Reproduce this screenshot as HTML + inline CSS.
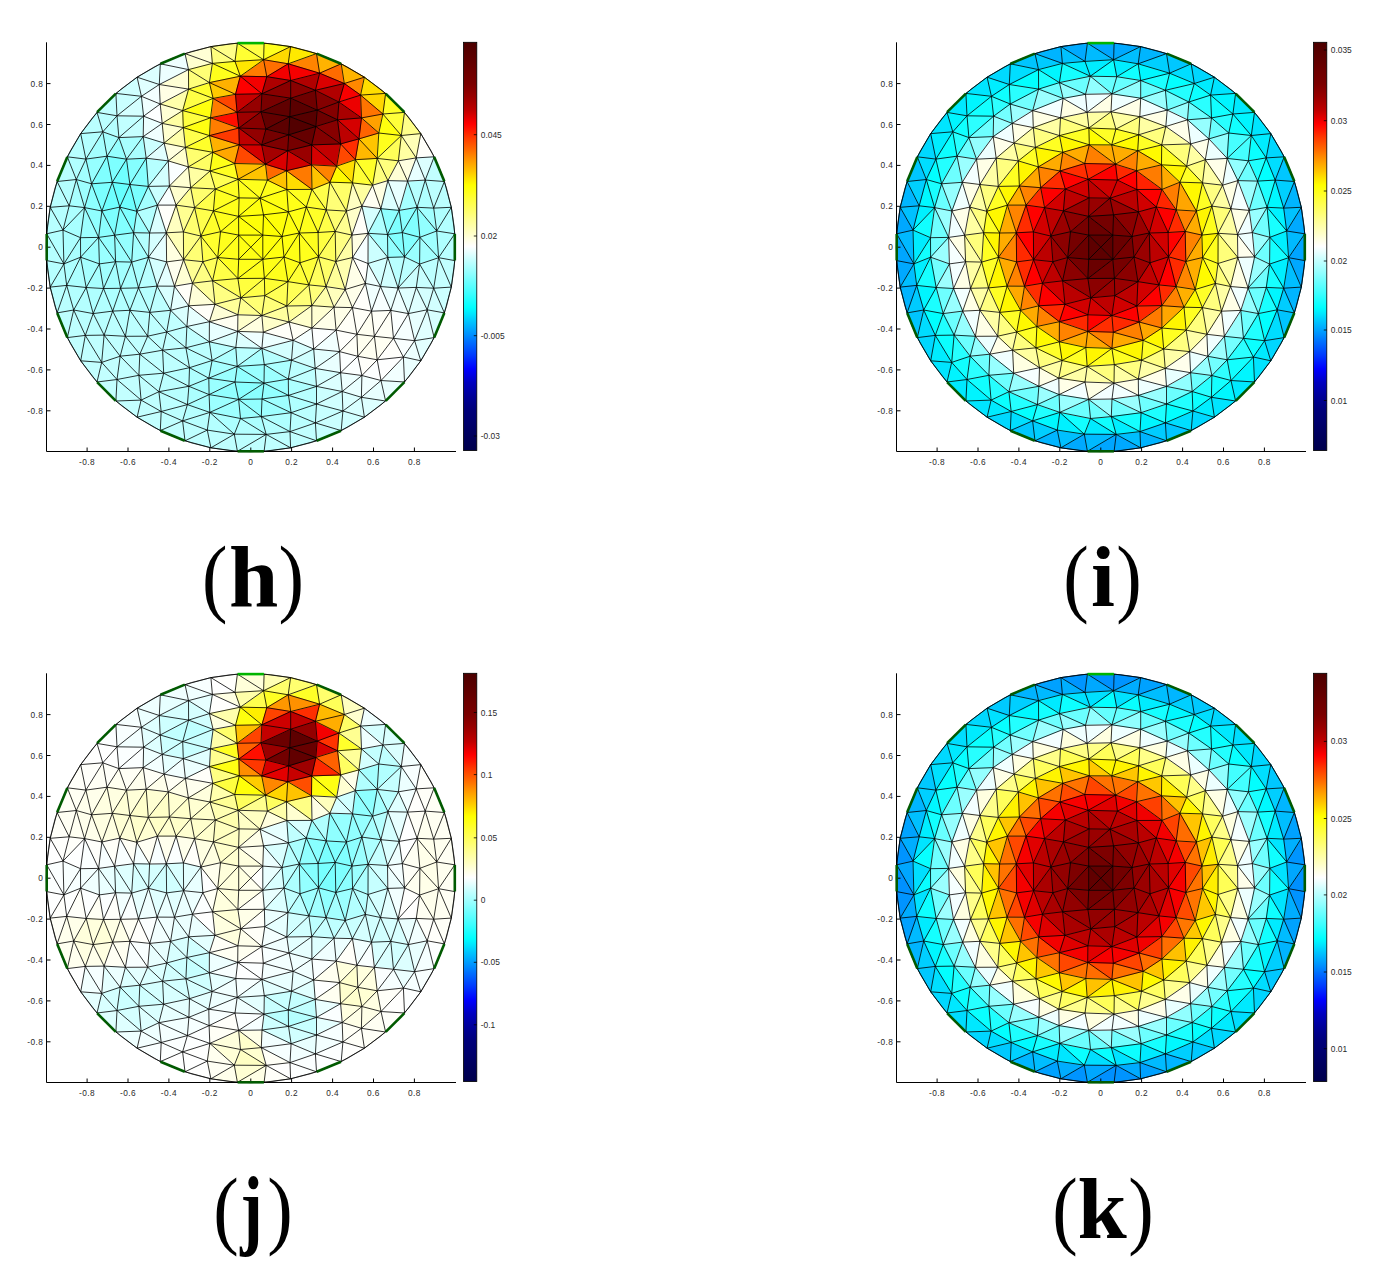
<!DOCTYPE html>
<html><head><meta charset="utf-8"><style>
html,body{margin:0;padding:0;background:#fff;}
body{width:1382px;height:1279px;overflow:hidden;}
svg{display:block;}
.tl text{font-family:"Liberation Sans",sans-serif;font-size:8.3px;fill:#2a2a2a;letter-spacing:0.45px;}
.cbl text{letter-spacing:0;font-size:8.4px;}
.big{font-family:"Liberation Serif",serif;font-weight:bold;fill:#000;}
</style></head><body>
<svg width="1382" height="1279" viewBox="0 0 1382 1279">
<defs>
<linearGradient id="cb" x1="0" y1="0" x2="0" y2="1"><stop offset="0.000" stop-color="#4c0000"/><stop offset="0.017" stop-color="#540000"/><stop offset="0.033" stop-color="#5b0000"/><stop offset="0.050" stop-color="#630000"/><stop offset="0.067" stop-color="#6c0000"/><stop offset="0.083" stop-color="#730000"/><stop offset="0.100" stop-color="#7a0000"/><stop offset="0.117" stop-color="#890000"/><stop offset="0.133" stop-color="#980000"/><stop offset="0.150" stop-color="#ac0000"/><stop offset="0.167" stop-color="#c00000"/><stop offset="0.183" stop-color="#df0000"/><stop offset="0.200" stop-color="#ff0000"/><stop offset="0.217" stop-color="#ff1c00"/><stop offset="0.233" stop-color="#ff3900"/><stop offset="0.250" stop-color="#ff5500"/><stop offset="0.267" stop-color="#ff7100"/><stop offset="0.283" stop-color="#ff8e00"/><stop offset="0.300" stop-color="#ffaa00"/><stop offset="0.317" stop-color="#ffc600"/><stop offset="0.333" stop-color="#ffe300"/><stop offset="0.350" stop-color="#ffff00"/><stop offset="0.367" stop-color="#ffff1c"/><stop offset="0.383" stop-color="#ffff39"/><stop offset="0.400" stop-color="#ffff55"/><stop offset="0.417" stop-color="#ffff71"/><stop offset="0.433" stop-color="#ffff8e"/><stop offset="0.450" stop-color="#ffffaa"/><stop offset="0.467" stop-color="#ffffc6"/><stop offset="0.483" stop-color="#ffffe3"/><stop offset="0.500" stop-color="#ffffff"/><stop offset="0.517" stop-color="#e3ffff"/><stop offset="0.533" stop-color="#c6ffff"/><stop offset="0.550" stop-color="#aaffff"/><stop offset="0.567" stop-color="#8effff"/><stop offset="0.583" stop-color="#71ffff"/><stop offset="0.600" stop-color="#55ffff"/><stop offset="0.617" stop-color="#39ffff"/><stop offset="0.633" stop-color="#1cffff"/><stop offset="0.650" stop-color="#00ffff"/><stop offset="0.667" stop-color="#00e3ff"/><stop offset="0.683" stop-color="#00c6ff"/><stop offset="0.700" stop-color="#00aaff"/><stop offset="0.717" stop-color="#008eff"/><stop offset="0.733" stop-color="#0071ff"/><stop offset="0.750" stop-color="#0055ff"/><stop offset="0.767" stop-color="#0039ff"/><stop offset="0.783" stop-color="#001cff"/><stop offset="0.800" stop-color="#0000ff"/><stop offset="0.817" stop-color="#0000df"/><stop offset="0.833" stop-color="#0000c0"/><stop offset="0.850" stop-color="#0000ac"/><stop offset="0.867" stop-color="#000098"/><stop offset="0.883" stop-color="#000089"/><stop offset="0.900" stop-color="#00007a"/><stop offset="0.917" stop-color="#000073"/><stop offset="0.933" stop-color="#00006c"/><stop offset="0.950" stop-color="#000063"/><stop offset="0.967" stop-color="#00005b"/><stop offset="0.983" stop-color="#000054"/><stop offset="1.000" stop-color="#00004c"/></linearGradient>
<path id="mesh" d="M380.5 286.5 398.1 288M238.6 216.4 213.4 210.9M239.3 144.8 212.8 152.3M454.8 233.8 454.8 260.6M131.7 262.1 138.5 287.9M398.1 288 408.4 313.6M143.2 136.6 143.6 116.2M126.5 159.2 112.3 182.3M159.3 84.5 160.3 63.8M326 286.6 334 307.2M220.5 231.7 217.7 257.5M91.6 183.8 76.3 179.5M318.5 256.8 335.2 231.4M220.5 231.7 200.9 236.1M240.8 297.8 261.9 315.5M182.6 420.9 207.3 430.1M161.2 411.5 137.1 417.2M138.5 287.9 149.8 312.4M318.5 256.8 326 286.6M188.4 166.9 168.3 160.9M264.4 278.3 287.9 281.6M342.9 411 341.2 430.6M147.7 336.2 162.6 350.2M419.6 264.1 438.6 257.7M209.4 82.6 188.6 89.1M337.5 119.8 338.9 102M335.2 231.4 326.2 209.9M115.6 261.7 103.5 288.5M148.5 257.3 157.1 286.1M80.7 133.6 67.3 156.8M162.6 350.2 189.5 367.7M63 230.1 46.7 233.8M352.4 307.6 356.9 334.3M436.7 231 454.8 233.8M120.2 356.2 117 379.5M288.4 211.9 260 198.2M401.3 135.5 382.9 114M166.6 261.9 148.5 257.3M264.8 295.6 261.9 315.5M157.1 286.1 170.6 310.3M264.3 364.6 291.5 360.2M125.4 336.3 139.8 354.2M168.3 160.9 146.2 158.2M260 198.2 239.1 197.9M210 171 190.7 187.7M382.9 114 360.6 95.1M208.8 378.2 209.1 394.6M361.4 397.3 381 380.5M291.5 360.2 313.7 349M186.9 326.5 166.7 332M237.7 331.4 261.9 348.4M438.6 257.7 451.3 287.1M340.6 143.9 358.9 138.9M360.6 95.1 385.6 93.4M84.6 207.6 80.5 237.7M162.2 123.4 160.2 104M190.7 187.7 176.1 205.1M235 382 238.6 399.4M293.1 340.3 311.9 328M381 380.5 403.4 357M311.8 305.6 311.9 328M57.1 312.9 67.3 337.6M238.1 179.3 265.5 164.2M339.6 351.6 356.9 334.3M351.9 235.1 361.9 206.1M209.3 341.8 185.9 347.8M141.1 400.1 115.9 401M344.3 83.5 364.4 77.2M293.1 340.3 313.7 349M235 61.4 212.4 63.4M371.5 311.2 390.8 310.4M237.1 112.3 213.1 98.4M311.9 328 334 307.2M67.3 337.6 80.7 360.8M346.4 211.1 352.5 182.9M288.5 395.4 316.5 386.4M188.5 69.6 185 53.6M238.7 259.3 237.9 278.5M316.5 404 315.4 422.9M264.8 295.6 287.9 281.6M166.7 332 147.7 336.2M212.4 63.4 188.5 69.6M454.8 233.8 451.3 207.3M312 189.4 311.5 164.8M407.6 181.1 416.2 157.9M380.9 208.7 372.6 185.2M352.6 257.5 365.4 283.4M138.9 375.3 158.9 391.7M352.5 182.9 355.3 159.7M185.9 347.8 162.6 350.2M237.7 331.4 263.3 332.2M380.5 286.5 390.8 310.4M119.8 207.1 101.9 211M238.6 216.4 239.1 197.9M264.3 364.6 288.3 379.1M451.3 207.3 444.4 181.5M185 440.8 210.9 447.8M387.9 180.6 377.2 158.4M212.8 152.3 209.5 135.6M336.1 330.1 339.6 351.6M158.9 391.7 187.4 404.6M336.7 166.2 340.6 143.9M85.9 159.1 76.3 179.5M358.9 138.9 378.8 133M114.6 235.2 98.6 237.4M166.3 232.8 149.6 233M240.8 297.8 237.9 314.8M210.9 447.8 237.4 451.3M163.7 373.2 158.9 391.7M188.4 166.9 185.4 147.4M69.2 205.8 57.1 181.5M419.6 264.1 433.7 288.2M76.3 179.5 69.2 205.8M337.5 119.8 361.5 117.9M403.4 357 420.8 360.8M189.5 367.7 188.9 386.3M387.5 234.5 399.2 210.4M266.8 76.7 263.6 59.7M261.9 93.8 240.3 76.2M318.1 232.5 326.2 209.9M419.9 237.3 417.1 207.3M63 230.1 50.2 207.3M185.4 147.4 183.3 127.6M120.2 356.2 101.7 362.4M183.4 231.9 166.3 232.8M341.2 63.8 316.5 53.6M291.1 412.7 290 431.6M340.6 372.7 361.9 375.5M263.6 59.7 237.4 43.1M342.2 391.5 361.9 375.5M168.3 160.9 164.1 143.1M208.8 378.2 188.9 386.3M385.6 401 404.5 382M357.8 356.3 377.2 359.8M263.5 214.8 260 198.2M240.8 297.8 264.8 295.6M261 111.8 261.9 93.8M107 156.2 102.8 131.8M326.2 209.9 329.9 182.2M387.5 234.5 380.9 208.7M112.3 182.3 91.6 183.8M351.9 235.1 368.1 233.3M238.7 235.1 220.5 231.7M120.2 356.2 138.9 375.3M237.9 278.5 240.8 297.8M209.4 321.7 237.7 331.4M371.5 311.2 374.4 336.3M416.3 287.4 427.2 309.8M417.1 207.3 433.7 208.1M399.2 210.4 387.9 180.6M433.7 208.1 444.4 181.5M238.7 259.3 217.7 257.5M352.5 182.9 336.7 166.2M104.1 335.1 85.3 335.4M312 189.4 329.9 182.2M407.6 181.1 425.2 180.1M399.2 210.4 407.6 181.1M425.2 180.1 434.2 156.8M398.1 288 404.6 256.9M267.4 180.1 238.1 179.3M352.5 182.9 372.6 185.2M119.8 207.1 112.3 182.3M336.7 166.2 311.7 144.9M261 111.8 237.1 112.3M73.7 310 67.3 337.6M404.6 256.9 419.9 237.3M238.1 179.3 215.3 189M351.9 235.1 346.4 211.1M364.4 77.2 341.2 63.8M166.3 232.8 157.4 205.1M261.9 348.4 291.5 360.2M237.1 112.3 210.5 117.8M163.7 373.2 138.9 375.3M240.8 297.8 215 304.3M290.7 80.5 319.6 73.2M261.9 93.8 235.5 94.3M238.7 235.1 238.7 259.3M316.5 404 342.2 391.5M194.6 207.7 190.7 187.7M346.4 211.1 329.9 182.2M189.5 367.7 163.7 373.2M185.4 147.4 168.3 160.9M364.4 417.2 385.6 401M266.8 76.7 288.2 63.8M261.9 93.8 266.8 76.7M235.5 94.3 213.1 98.4M238.7 259.3 262.8 259.3M215 304.3 237.9 314.8M183.4 231.9 176.1 205.1M85.3 335.4 101.7 362.4M168.3 160.9 148.3 186.4M215 304.3 209.4 321.7M340.6 372.7 342.2 391.5M119.8 207.1 114.6 235.2M207.3 430.1 210.9 447.8M237.2 366.4 264 383.1M361.9 375.5 381 380.5M338.9 102 315.4 90.3M402.3 232.6 417.1 207.3M237.9 314.8 261.9 315.5M217.7 257.5 212.6 280.8M212.8 152.3 188.4 166.9M185 53.6 160.3 63.8M361.9 206.1 380.9 208.7M114.6 235.2 115.6 261.7M112.3 182.3 101.9 211M117 115.8 97 112.4M263.5 214.8 288.4 211.9M139.8 354.2 138.9 375.3M188.4 166.9 169.4 186M149.8 312.4 166.7 332M326.2 209.9 346.4 211.1M112.3 182.3 107 156.2M381 380.5 404.5 382M102.8 131.8 80.7 133.6M212.6 280.8 192.5 283.2M351.9 235.1 352.6 257.5M237.9 278.5 264.4 278.3M101.9 211 98.6 237.4M238.7 235.1 238.6 216.4M234.3 434.2 266.2 434.4M287.9 281.6 308.9 284.9M166.7 332 185.9 347.8M417.1 207.3 436.7 231M368 263.5 387.8 257.4M433.7 208.1 451.3 207.3M160.2 104 143.6 116.2M290.7 98.2 290.7 80.5M312 189.4 286.5 170.7M129.9 310.3 125.4 336.3M299.3 233 318.5 256.8M188.7 305.8 186.9 326.5M300 262.8 318.5 256.8M57.1 181.5 50.2 207.3M149.6 233 133.6 232.7M208.8 378.2 235 382M66.7 285.4 50.2 287.1M360.6 95.1 344.3 83.5M264 383.1 288.5 395.4M186.9 326.5 209.3 341.8M188.6 89.1 159.3 84.5M368.1 233.3 387.8 257.4M50.2 207.3 46.7 233.8M235.8 347.5 237.2 366.4M163.7 373.2 188.9 386.3M73.7 310 57.1 312.9M319.6 73.2 316.5 53.6M136.8 211.3 119.8 207.1M187.4 404.6 182.6 420.9M288.3 379.1 316.5 386.4M403.4 357 414.6 340.7M261.9 348.4 264.3 364.6M182.6 420.9 185 440.8M289.8 116.7 317.2 110.1M288.2 63.8 290.6 46.6M414.6 340.7 427.2 309.8M335.8 261.5 345.2 289.5M80.5 237.7 63.9 263.9M80.7 360.8 97 382M212.1 360.5 208.8 378.2M299.3 233 306.3 207M387.8 257.4 404.6 256.9M183.3 127.6 162.2 123.4M265.5 164.2 239.3 144.8M97 382 115.9 401M311.5 164.8 311.7 144.9M207.3 430.1 185 440.8M141.4 96.3 137.1 77.2M282 236.5 284 257M361.9 375.5 361.4 397.3M217.7 257.5 237.9 278.5M237.2 366.4 235 382M402.3 232.6 419.9 237.3M217.7 257.5 202.9 261.7M234.7 163.5 212.8 152.3M378.8 133 382.9 114M117 115.8 115.9 93.4M311.7 144.9 315.8 126.5M139.8 354.2 120.2 356.2M326.2 209.9 312 189.4M120.6 288.3 112.7 311.1M434.2 156.8 420.8 133.6M158.9 391.7 161.2 411.5M361.5 117.9 360.6 95.1M157.4 205.1 136.8 211.3M189.5 367.7 208.8 378.2M381 380.5 385.6 401M365.4 283.4 371.5 311.2M317.2 110.1 338.9 102M174.5 286.2 157.1 286.1M287.9 281.6 286.8 306M170.6 310.3 186.9 326.5M238.6 399.4 261.3 416.6M209.4 82.6 188.5 69.6M63.9 263.9 46.7 233.8M368 263.5 380.5 286.5M239.1 197.9 213.4 210.9M192.5 283.2 188.7 305.8M290.7 98.2 315.4 90.3M372.6 185.2 377.2 158.4M188.7 305.8 170.6 310.3M313.7 349 336.1 330.1M210.5 117.8 182.7 110.6M263.3 332.2 293.1 340.3M176.1 205.1 166.3 232.8M264 383.1 262 399M342.2 391.5 342.9 411M188.6 89.1 188.5 69.6M374.4 336.3 393.5 338.3M336.1 330.1 352.4 307.6M235.8 347.5 212.1 360.5M319.6 73.2 341.2 63.8M136.8 211.3 129.9 184.5M80.6 257.2 86.2 287.5M126.5 159.2 118.9 137.6M166.3 232.8 166.6 261.9M334 307.2 345.2 289.5M84.6 207.6 69.2 205.8M390.8 310.4 408.4 313.6M261.9 348.4 237.2 366.4M329.9 182.2 336.7 166.2M371.5 311.2 380.5 286.5M182.6 420.9 160.3 430.6M262.8 259.3 264.4 278.3M335.2 231.4 335.8 261.5M334 307.2 352.4 307.6M287.9 281.6 300 262.8M188.5 69.6 159.3 84.5M284 257 300 262.8M345.2 289.5 352.6 257.5M286.5 170.7 287.7 150.7M398.4 160.8 401.3 135.5M372.6 185.2 355.3 159.7M262.8 235.1 282 236.5M99.4 263.9 86.2 287.5M80.5 237.7 63 230.1M340.6 372.7 357.8 356.3M212.1 360.5 189.5 367.7M263.3 332.2 289.1 322M387.8 257.4 398.1 288M290 431.6 316.5 440.8M444.4 181.5 434.2 156.8M239.1 197.9 215.3 189M265.5 164.2 261.7 144.9M355.3 159.7 340.6 143.9M380.9 208.7 387.9 180.6M187.4 404.6 209.8 412.4M306.3 207 312 189.4M139.8 354.2 163.7 373.2M289.1 322 311.8 305.6M148.3 186.4 129.9 184.5M138.9 375.3 117 379.5M311.7 144.9 288.7 134.8M237.4 451.3 264.1 451.3M378.8 133 401.3 135.5M358.9 138.9 337.5 119.8M169.4 186 168.3 160.9M215.3 189 194.6 207.7M311.7 144.9 340.6 143.9M286.8 189.5 286.5 170.7M69.2 205.8 63 230.1M288.7 134.8 265.9 129.1M158.9 391.7 141.1 400.1M240.3 76.2 235 61.4M80.5 237.7 80.6 257.2M209.1 394.6 209.8 412.4M157.4 205.1 148.3 186.4M240.5 418.5 266.2 434.4M417.1 207.3 407.6 181.1M194.6 207.7 183.4 231.9M183.6 259.7 166.6 261.9M356.9 334.3 371.5 311.2M427.2 309.8 444.4 312.9M316.5 53.6 290.6 46.6M311.9 328 336.1 330.1M209.4 82.6 212.4 63.4M183.3 127.6 164.1 143.1M235 61.4 210.9 46.6M98.6 237.4 80.6 257.2M361.9 375.5 377.2 359.8M192.5 283.2 174.5 286.2M316.5 386.4 340.6 372.7M311.5 164.8 287.7 150.7M404.5 382 420.8 360.8M261.9 315.5 289.1 322M266.2 434.4 290.6 447.8M182.7 110.6 162.2 123.4M212.4 63.4 185 53.6M210.5 117.8 213.1 98.4M260 198.2 238.1 179.3M282 236.5 263.5 214.8M117 379.5 141.1 400.1M136.8 211.3 133.6 232.7M91.6 183.8 85.9 159.1M374.4 336.3 377.2 359.8M250.8 247.2 262.8 259.3M220.5 231.7 213.4 210.9M291.5 360.2 315.2 368.4M290.7 80.5 266.8 76.7M387.9 180.6 398.4 160.8M377.2 158.4 358.9 138.9M264.4 278.3 264.8 295.6M137.1 77.2 115.9 93.4M84.6 207.6 76.3 179.5M115.6 261.7 99.4 263.9M85.9 159.1 67.3 156.8M329.9 182.2 352.5 182.9M188.9 386.3 187.4 404.6M377.2 158.4 378.8 133M262.8 259.3 237.9 278.5M433.7 208.1 425.2 180.1M284 257 287.9 281.6M436.7 231 438.6 257.7M286.5 170.7 311.5 164.8M398.4 160.8 416.2 157.9M148.5 257.3 138.5 287.9M262.8 235.1 262.8 259.3M414.6 340.7 434.2 337.6M76.3 179.5 57.1 181.5M416.2 157.9 420.8 133.6M210.5 117.8 183.3 127.6M235.5 94.3 209.4 82.6M157.1 286.1 149.8 312.4M85.3 335.4 80.7 360.8M380.9 208.7 399.2 210.4M401.3 135.5 404.5 112.4M213.1 98.4 188.6 89.1M237.7 331.4 235.8 347.5M306.3 207 326.2 209.9M148.3 186.4 146.2 158.2M235 382 209.1 394.6M101.7 362.4 97 382M131.7 262.1 120.6 288.3M315.2 368.4 340.6 372.7M329.9 182.2 311.5 164.8M293.1 340.3 291.5 360.2M240.3 76.2 263.6 59.7M237.1 112.3 235.5 94.3M138.5 287.9 129.9 310.3M262.8 259.3 282 236.5M101.9 211 84.6 207.6M339.6 351.6 357.8 356.3M346.4 211.1 361.9 206.1M183.6 259.7 166.3 232.8M311.9 328 313.7 349M234.3 434.2 237.4 451.3M235 61.4 237.4 43.1M288.4 211.9 286.8 189.5M98.6 237.4 80.5 237.7M261.9 315.5 286.8 306M86.2 287.5 73.7 310M261.9 315.5 263.3 332.2M261.7 144.9 238.9 128M266.2 434.4 264.1 451.3M238.6 216.4 260 198.2M264.3 364.6 264 383.1M393.5 338.3 414.6 340.7M260 198.2 267.4 180.1M169.4 186 157.4 205.1M200.9 236.1 183.6 259.7M210 171 188.4 166.9M336.7 166.2 355.3 159.7M120.6 288.3 129.9 310.3M250.8 247.2 238.7 259.3M114.6 235.2 101.9 211M291.5 360.2 288.3 379.1M264.4 278.3 284 257M387.9 180.6 407.6 181.1M264.4 278.3 240.8 297.8M209.8 412.4 234.3 434.2M190.7 187.7 169.4 186M403.4 357 404.5 382M99.4 263.9 103.5 288.5M85.9 159.1 80.7 133.6M387.5 234.5 402.3 232.6M238.9 128 210.5 117.8M115.6 261.7 98.6 237.4M188.9 386.3 158.9 391.7M286.5 170.7 265.5 164.2M147.7 336.2 139.8 354.2M318.1 232.5 335.2 231.4M290 431.6 315.4 422.9M209.4 321.7 209.3 341.8M262 399 291.1 412.7M148.5 257.3 131.7 262.1M414.6 340.7 420.8 360.8M416.2 157.9 434.2 156.8M118.9 137.6 107 156.2M235.5 94.3 240.3 76.2M213.1 98.4 182.7 110.6M263.6 59.7 264.1 43.1M160.2 104 141.4 96.3M46.7 233.8 46.7 260.6M101.7 362.4 117 379.5M264 383.1 288.3 379.1M148.3 186.4 136.8 211.3M85.3 335.4 67.3 337.6M200.9 236.1 202.9 261.7M357.8 356.3 361.9 375.5M237.9 314.8 237.7 331.4M319.6 73.2 288.2 63.8M377.2 359.8 403.4 357M315.4 90.3 290.7 80.5M143.6 116.2 117 115.8M398.1 288 419.6 264.1M237.7 331.4 209.3 341.8M160.3 63.8 137.1 77.2M261 111.8 290.7 98.2M209.1 394.6 238.6 399.4M131.7 262.1 115.6 261.7M115.6 261.7 120.6 288.3M315.2 368.4 316.5 386.4M427.2 309.8 433.7 288.2M80.6 257.2 66.7 285.4M436.7 231 433.7 208.1M365.4 283.4 368 263.5M237.9 278.5 212.6 280.8M237.1 112.3 261.9 93.8M93.2 313.6 104.1 335.1M101.9 211 91.6 183.8M98.6 237.4 99.4 263.9M115.9 401 137.1 417.2M266.2 434.4 290 431.6M234.3 434.2 210.9 447.8M185.9 347.8 212.1 360.5M288.4 211.9 306.3 207M141.4 96.3 117 115.8M399.2 210.4 417.1 207.3M98.6 237.4 84.6 207.6M425.2 180.1 444.4 181.5M143.6 116.2 118.9 137.6M368.1 233.3 361.9 206.1M86.2 287.5 66.7 285.4M112.7 311.1 104.1 335.1M374.4 336.3 390.8 310.4M235 382 264 383.1M420.8 133.6 404.5 112.4M210 171 212.8 152.3M338.9 102 344.3 83.5M344.3 83.5 319.6 73.2M315.8 126.5 289.8 116.7M209.3 341.8 235.8 347.5M250.8 247.2 238.7 235.1M240.5 418.5 261.3 416.6M238.1 179.3 210 171M188.9 386.3 209.1 394.6M133.6 232.7 114.6 235.2M209.8 412.4 207.3 430.1M317.2 110.1 290.7 98.2M352.4 307.6 365.4 283.4M387.5 234.5 387.8 257.4M63.9 263.9 66.7 285.4M261.9 93.8 290.7 80.5M86.2 287.5 93.2 313.6M318.1 232.5 318.5 256.8M209.4 321.7 186.9 326.5M166.6 261.9 174.5 286.2M262 399 261.3 416.6M148.5 257.3 133.6 232.7M380.5 286.5 387.8 257.4M215 304.3 188.7 305.8M263.6 59.7 290.6 46.6M160.2 104 159.3 84.5M159.3 84.5 141.4 96.3M164.1 143.1 143.2 136.6M103.5 288.5 93.2 313.6M237.9 314.8 209.4 321.7M287.7 150.7 288.7 134.8M377.2 359.8 381 380.5M398.1 288 416.3 287.4M315.4 422.9 341.2 430.6M102.8 131.8 97 112.4M288.7 134.8 289.8 116.7M80.6 257.2 63.9 263.9M342.9 411 364.4 417.2M318.1 232.5 306.3 207M265.9 129.1 261 111.8M129.9 310.3 112.7 311.1M300 262.8 308.9 284.9M290.6 447.8 316.5 440.8M149.6 233 136.8 211.3M166.6 261.9 157.1 286.1M213.4 210.9 200.9 236.1M355.3 159.7 358.9 138.9M182.7 110.6 160.2 104M267.4 180.1 265.5 164.2M289.1 322 311.9 328M187.4 404.6 161.2 411.5M186.9 326.5 185.9 347.8M438.6 257.7 454.8 260.6M117 379.5 115.9 401M340.6 143.9 337.5 119.8M360.6 95.1 364.4 77.2M288.3 379.1 288.5 395.4M162.2 123.4 143.6 116.2M311.8 305.6 334 307.2M288.2 63.8 316.5 53.6M133.6 232.7 119.8 207.1M209.8 412.4 182.6 420.9M141.1 400.1 137.1 417.2M149.8 312.4 147.7 336.2M308.9 284.9 326 286.6M299.3 233 318.1 232.5M345.2 289.5 365.4 283.4M183.3 127.6 182.7 110.6M188.5 69.6 160.3 63.8M352.6 257.5 368.1 233.3M393.5 338.3 408.4 313.6M311.5 164.8 336.7 166.2M357.8 356.3 374.4 336.3M237.2 366.4 208.8 378.2M402.3 232.6 404.6 256.9M419.9 237.3 438.6 257.7M217.7 257.5 200.9 236.1M313.7 349 339.6 351.6M213.4 210.9 194.6 207.7M164.1 143.1 162.2 123.4M340.6 143.9 315.8 126.5M103.5 288.5 86.2 287.5M234.7 163.5 239.3 144.8M287.7 150.7 311.7 144.9M161.2 411.5 182.6 420.9M209.8 412.4 240.5 418.5M212.8 152.3 185.4 147.4M311.8 305.6 326 286.6M315.4 422.9 316.5 440.8M120.6 288.3 103.5 288.5M336.1 330.1 356.9 334.3M264.1 451.3 290.6 447.8M361.5 117.9 382.9 114M240.3 76.2 209.4 82.6M358.9 138.9 361.5 117.9M337.5 119.8 317.2 110.1M166.3 232.8 148.5 257.3M288.7 134.8 315.8 126.5M63 230.1 63.9 263.9M69.2 205.8 50.2 207.3M265.9 129.1 238.9 128M238.6 399.4 240.5 418.5M416.2 157.9 401.3 135.5M261.3 416.6 290 431.6M407.6 181.1 398.4 160.8M183.4 231.9 183.6 259.7M265.9 129.1 289.8 116.7M170.6 310.3 166.7 332M433.7 288.2 451.3 287.1M112.7 311.1 125.4 336.3M372.6 185.2 387.9 180.6M290.6 46.6 264.1 43.1M185.4 147.4 164.1 143.1M164.1 143.1 146.2 158.2M291.1 412.7 315.4 422.9M263.3 332.2 261.9 348.4M377.2 359.8 393.5 338.3M287.7 150.7 261.7 144.9M264 383.1 238.6 399.4M264.1 43.1 237.4 43.1M355.3 159.7 377.2 158.4M91.6 183.8 84.6 207.6M286.8 306 311.8 305.6M420.8 360.8 434.2 337.6M182.7 110.6 188.6 89.1M162.2 123.4 143.2 136.6M267.4 180.1 286.5 170.7M289.1 322 293.1 340.3M263.5 214.8 238.6 216.4M315.2 368.4 339.6 351.6M141.1 400.1 161.2 411.5M117 379.5 97 382M133.6 232.7 131.7 262.1M434.2 337.6 444.4 312.9M390.8 310.4 393.5 338.3M408.4 313.6 427.2 309.8M266.8 76.7 240.3 76.2M107 156.2 85.9 159.1M308.9 284.9 318.5 256.8M334 307.2 336.1 330.1M115.9 93.4 97 112.4M262 399 288.5 395.4M238.7 235.1 217.7 257.5M149.8 312.4 129.9 310.3M308.9 284.9 311.8 305.6M129.9 310.3 147.7 336.2M99.4 263.9 80.6 257.2M416.3 287.4 433.7 288.2M93.2 313.6 85.3 335.4M417.1 207.3 425.2 180.1M425.2 180.1 416.2 157.9M299.3 233 300 262.8M345.2 289.5 352.4 307.6M149.6 233 148.5 257.3M97 112.4 80.7 133.6M290 431.6 290.6 447.8M265.5 164.2 287.7 150.7M239.1 197.9 238.1 179.3M103.5 288.5 112.7 311.1M209.5 135.6 183.3 127.6M104.1 335.1 101.7 362.4M315.4 422.9 342.9 411M313.7 349 315.2 368.4M213.4 210.9 215.3 189M382.9 114 385.6 93.4M107 156.2 91.6 183.8M176.1 205.1 157.4 205.1M286.8 189.5 312 189.4M342.9 411 361.4 397.3M46.7 260.6 50.2 287.1M215.3 189 190.7 187.7M209.1 394.6 187.4 404.6M240.5 418.5 234.3 434.2M290.7 80.5 288.2 63.8M427.2 309.8 434.2 337.6M50.2 287.1 57.1 312.9M194.6 207.7 176.1 205.1M238.6 399.4 209.8 412.4M261.3 416.6 266.2 434.4M263.6 59.7 235 61.4M356.9 334.3 374.4 336.3M377.2 158.4 401.3 135.5M170.6 310.3 149.8 312.4M433.7 288.2 444.4 312.9M212.4 63.4 210.9 46.6M368.1 233.3 380.9 208.7M118.9 137.6 102.8 131.8M286.8 306 308.9 284.9M438.6 257.7 454.8 233.8M282 236.5 288.4 211.9M286.8 306 289.1 322M239.3 144.8 209.5 135.6M361.9 206.1 372.6 185.2M129.9 184.5 112.3 182.3M157.4 205.1 149.6 233M202.9 261.7 192.5 283.2M408.4 313.6 414.6 340.7M284 257 299.3 233M377.2 158.4 398.4 160.8M212.6 280.8 215 304.3M212.1 360.5 237.2 366.4M76.3 179.5 67.3 156.8M299.3 233 288.4 211.9M93.2 313.6 73.7 310M265.5 164.2 234.7 163.5M162.6 350.2 163.7 373.2M63.9 263.9 50.2 287.1M288.5 395.4 316.5 404M237.2 366.4 264.3 364.6M157.1 286.1 138.5 287.9M401.3 135.5 420.8 133.6M209.5 135.6 210.5 117.8M213.1 98.4 209.4 82.6M234.7 163.5 210 171M66.7 285.4 57.1 312.9M235.8 347.5 261.9 348.4M316.5 386.4 342.2 391.5M288.3 379.1 315.2 368.4M101.7 362.4 80.7 360.8M382.9 114 404.5 112.4M202.9 261.7 212.6 280.8M176.1 205.1 169.4 186M288.2 63.8 263.6 59.7M315.8 126.5 317.2 110.1M261.9 348.4 293.1 340.3M215.3 189 210 171M238.6 399.4 262 399M138.5 287.9 120.6 288.3M212.6 280.8 240.8 297.8M174.5 286.2 188.7 305.8M339.6 351.6 340.6 372.7M289.8 116.7 290.7 98.2M433.7 288.2 438.6 257.7M335.2 231.4 346.4 211.1M335.8 261.5 352.6 257.5M262.8 235.1 238.6 216.4M104.1 335.1 120.2 356.2M188.7 305.8 209.4 321.7M356.9 334.3 357.8 356.3M146.2 158.2 126.5 159.2M137.1 417.2 160.3 430.6M419.9 237.3 436.7 231M402.3 232.6 399.2 210.4M261.9 315.5 237.7 331.4M261.7 144.9 265.9 129.1M266.2 434.4 237.4 451.3M260 198.2 286.8 189.5M393.5 338.3 403.4 357M306.3 207 286.8 189.5M118.9 137.6 117 115.8M117 115.8 102.8 131.8M368.1 233.3 387.5 234.5M282 236.5 299.3 233M200.9 236.1 183.4 231.9M141.4 96.3 115.9 93.4M361.9 206.1 352.5 182.9M125.4 336.3 120.2 356.2M160.3 430.6 185 440.8M239.3 144.8 238.9 128M390.8 310.4 398.1 288M286.8 189.5 267.4 180.1M102.8 131.8 85.9 159.1M361.4 397.3 385.6 401M404.5 112.4 385.6 93.4M129.9 184.5 126.5 159.2M202.9 261.7 183.6 259.7M190.7 187.7 188.4 166.9M289.8 116.7 261 111.8M315.4 90.3 319.6 73.2M261.3 416.6 291.1 412.7M238.9 128 237.1 112.3M335.8 261.5 351.9 235.1M147.7 336.2 125.4 336.3M385.6 93.4 364.4 77.2M365.4 283.4 380.5 286.5M316.5 440.8 341.2 430.6M317.2 110.1 315.4 90.3M290.7 98.2 261.9 93.8M174.5 286.2 170.6 310.3M262.8 235.1 238.7 235.1M387.5 234.5 404.6 256.9M291.1 412.7 316.5 404M66.7 285.4 73.7 310M162.6 350.2 139.8 354.2M63.9 263.9 46.7 260.6M209.5 135.6 185.4 147.4M341.2 430.6 364.4 417.2M288.5 395.4 291.1 412.7M378.8 133 361.5 117.9M73.7 310 85.3 335.4M237.4 43.1 210.9 46.6M143.6 116.2 141.4 96.3M129.9 184.5 119.8 207.1M316.5 386.4 316.5 404M143.2 136.6 118.9 137.6M159.3 84.5 137.1 77.2M342.2 391.5 361.4 397.3M361.5 117.9 338.9 102M326 286.6 345.2 289.5M408.4 313.6 416.3 287.4M131.7 262.1 114.6 235.2M161.2 411.5 160.3 430.6M210.9 46.6 185 53.6M315.8 126.5 337.5 119.8M318.5 256.8 335.8 261.5M404.6 256.9 419.6 264.1M444.4 312.9 451.3 287.1M126.5 159.2 107 156.2M84.6 207.6 63 230.1M416.3 287.4 419.6 264.1M262.8 259.3 284 257M451.3 287.1 454.8 260.6M335.2 231.4 351.9 235.1M352.4 307.6 371.5 311.2M436.7 231 451.3 207.3M262.8 235.1 263.5 214.8M264.8 295.6 286.8 306M207.3 430.1 234.3 434.2M146.2 158.2 143.2 136.6M419.9 237.3 419.6 264.1M112.7 311.1 93.2 313.6M261.7 144.9 288.7 134.8M188.6 89.1 160.2 104M368.1 233.3 368 263.5M326 286.6 335.8 261.5M67.3 156.8 57.1 181.5M200.9 236.1 194.6 207.7M338.9 102 360.6 95.1M125.4 336.3 104.1 335.1M138.9 375.3 141.1 400.1M250.8 247.2 262.8 235.1M238.1 179.3 234.7 163.5M169.4 186 148.3 186.4M361.4 397.3 364.4 417.2M238.9 128 209.5 135.6M209.3 341.8 212.1 360.5M315.4 90.3 344.3 83.5M344.3 83.5 341.2 63.8M240.3 76.2 212.4 63.4M183.6 259.7 192.5 283.2M238.9 128 261 111.8M183.6 259.7 174.5 286.2M146.2 158.2 129.9 184.5M166.7 332 162.6 350.2M316.5 404 342.9 411M192.5 283.2 215 304.3M261.7 144.9 239.3 144.8M352.6 257.5 368 263.5M143.2 136.6 126.5 159.2M185.9 347.8 189.5 367.7M238.6 216.4 220.5 231.7" fill="none" stroke="#000" stroke-width="0.8"/>
</defs>
<g transform="translate(0,0)">
<polygon points="238.7,235.1 238.7,259.3 250.8,247.2" fill="#ffff14" stroke="#ffff14"/>
<polygon points="262.8,235.1 238.7,235.1 250.8,247.2" fill="#ffff0d" stroke="#ffff0d"/>
<polygon points="46.7,260.6 63.9,263.9 46.7,233.8" fill="#b6ffff" stroke="#b6ffff"/>
<polygon points="46.7,260.6 50.2,287.1 63.9,263.9" fill="#b6ffff" stroke="#b6ffff"/>
<polygon points="166.6,261.9 166.3,232.8 148.5,257.3" fill="#e6ffff" stroke="#e6ffff"/>
<polygon points="200.9,236.1 213.4,210.9 194.6,207.7" fill="#ffff4c" stroke="#ffff4c"/>
<polygon points="220.5,231.7 213.4,210.9 200.9,236.1" fill="#ffff2b" stroke="#ffff2b"/>
<polygon points="438.6,257.7 454.8,260.6 454.8,233.8" fill="#b9ffff" stroke="#b9ffff"/>
<polygon points="451.3,287.1 454.8,260.6 438.6,257.7" fill="#c1ffff" stroke="#c1ffff"/>
<polygon points="311.7,144.9 336.7,166.2 340.6,143.9" fill="#c30000" stroke="#c30000"/>
<polygon points="419.9,237.3 417.1,207.3 402.3,232.6" fill="#82ffff" stroke="#82ffff"/>
<polygon points="358.9,138.9 377.2,158.4 378.8,133" fill="#ffc500" stroke="#ffc500"/>
<polygon points="361.5,117.9 358.9,138.9 378.8,133" fill="#ff6300" stroke="#ff6300"/>
<polygon points="311.5,164.8 336.7,166.2 311.7,144.9" fill="#d60000" stroke="#d60000"/>
<polygon points="57.1,312.9 67.3,337.6 73.7,310" fill="#bdffff" stroke="#bdffff"/>
<polygon points="101.7,362.4 120.2,356.2 104.1,335.1" fill="#c1ffff" stroke="#c1ffff"/>
<polygon points="101.7,362.4 80.7,360.8 97,382" fill="#c3ffff" stroke="#c3ffff"/>
<polygon points="115.9,401 137.1,417.2 141.1,400.1" fill="#c3ffff" stroke="#c3ffff"/>
<polygon points="117,379.5 115.9,401 141.1,400.1" fill="#c3ffff" stroke="#c3ffff"/>
<polygon points="115.9,401 117,379.5 97,382" fill="#c3ffff" stroke="#c3ffff"/>
<polygon points="117,379.5 101.7,362.4 97,382" fill="#c3ffff" stroke="#c3ffff"/>
<polygon points="101.7,362.4 117,379.5 120.2,356.2" fill="#c2ffff" stroke="#c2ffff"/>
<polygon points="162.2,123.4 182.7,110.6 160.2,104" fill="#ffffd4" stroke="#ffffd4"/>
<polygon points="143.6,116.2 162.2,123.4 160.2,104" fill="#fdffff" stroke="#fdffff"/>
<polygon points="126.5,159.2 118.9,137.6 107,156.2" fill="#95ffff" stroke="#95ffff"/>
<polygon points="118.9,137.6 102.8,131.8 107,156.2" fill="#a5ffff" stroke="#a5ffff"/>
<polygon points="102.8,131.8 97,112.4 80.7,133.6" fill="#baffff" stroke="#baffff"/>
<polygon points="169.4,186 148.3,186.4 157.4,205.1" fill="#caffff" stroke="#caffff"/>
<polygon points="260,198.2 288.4,211.9 286.8,189.5" fill="#ffff13" stroke="#ffff13"/>
<polygon points="133.6,232.7 136.8,211.3 119.8,207.1" fill="#7effff" stroke="#7effff"/>
<polygon points="148.3,186.4 136.8,211.3 157.4,205.1" fill="#a3ffff" stroke="#a3ffff"/>
<polygon points="136.8,211.3 129.9,184.5 119.8,207.1" fill="#6effff" stroke="#6effff"/>
<polygon points="136.8,211.3 148.3,186.4 129.9,184.5" fill="#79ffff" stroke="#79ffff"/>
<polygon points="290.6,447.8 266.2,434.4 264.1,451.3" fill="#bfffff" stroke="#bfffff"/>
<polygon points="266.2,434.4 261.3,416.6 240.5,418.5" fill="#acffff" stroke="#acffff"/>
<polygon points="266.2,434.4 237.4,451.3 264.1,451.3" fill="#bfffff" stroke="#bfffff"/>
<polygon points="335.8,261.5 318.5,256.8 326,286.6" fill="#ffff68" stroke="#ffff68"/>
<polygon points="318.5,256.8 318.1,232.5 299.3,233" fill="#ffff1e" stroke="#ffff1e"/>
<polygon points="339.6,351.6 357.8,356.3 356.9,334.3" fill="#fffff7" stroke="#fffff7"/>
<polygon points="316.5,386.4 315.2,368.4 288.3,379.1" fill="#bfffff" stroke="#bfffff"/>
<polygon points="315.2,368.4 339.6,351.6 313.7,349" fill="#e4ffff" stroke="#e4ffff"/>
<polygon points="316.5,386.4 316.5,404 342.2,391.5" fill="#ccffff" stroke="#ccffff"/>
<polygon points="311.9,328 293.1,340.3 313.7,349" fill="#f5ffff" stroke="#f5ffff"/>
<polygon points="264.3,364.6 264,383.1 288.3,379.1" fill="#9cffff" stroke="#9cffff"/>
<polygon points="166.3,232.8 176.1,205.1 157.4,205.1" fill="#fffffa" stroke="#fffffa"/>
<polygon points="176.1,205.1 169.4,186 157.4,205.1" fill="#f8ffff" stroke="#f8ffff"/>
<polygon points="157.1,286.1 166.6,261.9 148.5,257.3" fill="#d5ffff" stroke="#d5ffff"/>
<polygon points="183.4,231.9 200.9,236.1 194.6,207.7" fill="#ffff6f" stroke="#ffff6f"/>
<polygon points="176.1,205.1 183.4,231.9 194.6,207.7" fill="#ffff91" stroke="#ffff91"/>
<polygon points="183.4,231.9 176.1,205.1 166.3,232.8" fill="#ffffc0" stroke="#ffffc0"/>
<polygon points="213.4,210.9 215.3,189 194.6,207.7" fill="#ffff4a" stroke="#ffff4a"/>
<polygon points="215.3,189 213.4,210.9 239.1,197.9" fill="#ffff22" stroke="#ffff22"/>
<polygon points="202.9,261.7 217.7,257.5 200.9,236.1" fill="#ffff4d" stroke="#ffff4d"/>
<polygon points="217.7,257.5 220.5,231.7 200.9,236.1" fill="#ffff2e" stroke="#ffff2e"/>
<polygon points="212.6,280.8 217.7,257.5 202.9,261.7" fill="#ffff5a" stroke="#ffff5a"/>
<polygon points="238.7,235.1 217.7,257.5 238.7,259.3" fill="#ffff1c" stroke="#ffff1c"/>
<polygon points="220.5,231.7 217.7,257.5 238.7,235.1" fill="#ffff1d" stroke="#ffff1d"/>
<polygon points="262.8,259.3 262.8,235.1 250.8,247.2" fill="#ffff0e" stroke="#ffff0e"/>
<polygon points="238.7,259.3 262.8,259.3 250.8,247.2" fill="#ffff15" stroke="#ffff15"/>
<polygon points="264.8,295.6 264.4,278.3 240.8,297.8" fill="#ffff49" stroke="#ffff49"/>
<polygon points="261.9,315.5 264.8,295.6 240.8,297.8" fill="#ffff74" stroke="#ffff74"/>
<polygon points="264.8,295.6 261.9,315.5 286.8,306" fill="#ffff79" stroke="#ffff79"/>
<polygon points="261.9,348.4 237.7,331.4 235.8,347.5" fill="#ddffff" stroke="#ddffff"/>
<polygon points="163.7,373.2 162.6,350.2 139.8,354.2" fill="#c1ffff" stroke="#c1ffff"/>
<polygon points="161.2,411.5 158.9,391.7 141.1,400.1" fill="#c0ffff" stroke="#c0ffff"/>
<polygon points="161.2,411.5 137.1,417.2 160.3,430.6" fill="#c2ffff" stroke="#c2ffff"/>
<polygon points="137.1,417.2 161.2,411.5 141.1,400.1" fill="#c2ffff" stroke="#c2ffff"/>
<polygon points="390.8,310.4 374.4,336.3 393.5,338.3" fill="#fffff6" stroke="#fffff6"/>
<polygon points="374.4,336.3 377.2,359.8 393.5,338.3" fill="#fffff2" stroke="#fffff2"/>
<polygon points="357.8,356.3 374.4,336.3 356.9,334.3" fill="#ffffef" stroke="#ffffef"/>
<polygon points="374.4,336.3 357.8,356.3 377.2,359.8" fill="#fffff1" stroke="#fffff1"/>
<polygon points="408.4,313.6 390.8,310.4 393.5,338.3" fill="#fbffff" stroke="#fbffff"/>
<polygon points="377.2,359.8 403.4,357 393.5,338.3" fill="#fffffb" stroke="#fffffb"/>
<polygon points="420.8,360.8 403.4,357 404.5,382" fill="#ebffff" stroke="#ebffff"/>
<polygon points="403.4,357 381,380.5 404.5,382" fill="#f2ffff" stroke="#f2ffff"/>
<polygon points="381,380.5 403.4,357 377.2,359.8" fill="#feffff" stroke="#feffff"/>
<polygon points="408.4,313.6 414.6,340.7 427.2,309.8" fill="#e8ffff" stroke="#e8ffff"/>
<polygon points="414.6,340.7 408.4,313.6 393.5,338.3" fill="#f6ffff" stroke="#f6ffff"/>
<polygon points="403.4,357 414.6,340.7 393.5,338.3" fill="#f9ffff" stroke="#f9ffff"/>
<polygon points="414.6,340.7 403.4,357 420.8,360.8" fill="#edffff" stroke="#edffff"/>
<polygon points="212.4,63.4 185,53.6 188.5,69.6" fill="#ffffcf" stroke="#ffffcf"/>
<polygon points="212.4,63.4 210.9,46.6 185,53.6" fill="#ffffd5" stroke="#ffffd5"/>
<polygon points="185.4,147.4 188.4,166.9 212.8,152.3" fill="#ffff6f" stroke="#ffff6f"/>
<polygon points="210.5,117.8 238.9,128 237.1,112.3" fill="#ff0e00" stroke="#ff0e00"/>
<polygon points="182.7,110.6 188.6,89.1 160.2,104" fill="#ffffab" stroke="#ffffab"/>
<polygon points="159.3,84.5 188.6,89.1 188.5,69.6" fill="#ffffd5" stroke="#ffffd5"/>
<polygon points="188.6,89.1 159.3,84.5 160.2,104" fill="#ffffe5" stroke="#ffffe5"/>
<polygon points="382.9,114 404.5,112.4 385.6,93.4" fill="#ffff26" stroke="#ffff26"/>
<polygon points="382.9,114 361.5,117.9 378.8,133" fill="#ffa100" stroke="#ffa100"/>
<polygon points="377.2,158.4 401.3,135.5 378.8,133" fill="#ffff1d" stroke="#ffff1d"/>
<polygon points="401.3,135.5 382.9,114 378.8,133" fill="#ffff0e" stroke="#ffff0e"/>
<polygon points="382.9,114 401.3,135.5 404.5,112.4" fill="#ffff3a" stroke="#ffff3a"/>
<polygon points="361.9,206.1 346.4,211.1 351.9,235.1" fill="#ffffc9" stroke="#ffffc9"/>
<polygon points="387.9,180.6 377.2,158.4 372.6,185.2" fill="#ffff7d" stroke="#ffff7d"/>
<polygon points="377.2,158.4 355.3,159.7 372.6,185.2" fill="#ffff29" stroke="#ffff29"/>
<polygon points="358.9,138.9 355.3,159.7 377.2,158.4" fill="#ffb800" stroke="#ffb800"/>
<polygon points="336.7,166.2 355.3,159.7 340.6,143.9" fill="#ff4800" stroke="#ff4800"/>
<polygon points="355.3,159.7 358.9,138.9 340.6,143.9" fill="#ff2d00" stroke="#ff2d00"/>
<polygon points="436.7,231 417.1,207.3 419.9,237.3" fill="#92ffff" stroke="#92ffff"/>
<polygon points="436.7,231 438.6,257.7 454.8,233.8" fill="#afffff" stroke="#afffff"/>
<polygon points="436.7,231 419.9,237.3 438.6,257.7" fill="#9fffff" stroke="#9fffff"/>
<polygon points="358.9,138.9 337.5,119.8 340.6,143.9" fill="#bc0000" stroke="#bc0000"/>
<polygon points="361.5,117.9 337.5,119.8 358.9,138.9" fill="#d50000" stroke="#d50000"/>
<polygon points="337.5,119.8 361.5,117.9 338.9,102" fill="#a90000" stroke="#a90000"/>
<polygon points="317.2,110.1 337.5,119.8 338.9,102" fill="#840000" stroke="#840000"/>
<polygon points="286.5,170.7 286.8,189.5 312,189.4" fill="#ffdd00" stroke="#ffdd00"/>
<polygon points="311.5,164.8 286.5,170.7 312,189.4" fill="#ff7a00" stroke="#ff7a00"/>
<polygon points="288.4,211.9 282,236.5 299.3,233" fill="#ffff0f" stroke="#ffff0f"/>
<polygon points="262.8,259.3 282,236.5 262.8,235.1" fill="#ffff0b" stroke="#ffff0b"/>
<polygon points="286.8,189.5 306.3,207 312,189.4" fill="#ffff20" stroke="#ffff20"/>
<polygon points="288.4,211.9 306.3,207 286.8,189.5" fill="#ffff18" stroke="#ffff18"/>
<polygon points="306.3,207 288.4,211.9 299.3,233" fill="#ffff16" stroke="#ffff16"/>
<polygon points="318.1,232.5 306.3,207 299.3,233" fill="#ffff1c" stroke="#ffff1c"/>
<polygon points="112.7,311.1 93.2,313.6 104.1,335.1" fill="#b9ffff" stroke="#b9ffff"/>
<polygon points="93.2,313.6 86.2,287.5 73.7,310" fill="#b4ffff" stroke="#b4ffff"/>
<polygon points="85.3,335.4 93.2,313.6 73.7,310" fill="#baffff" stroke="#baffff"/>
<polygon points="67.3,337.6 85.3,335.4 73.7,310" fill="#beffff" stroke="#beffff"/>
<polygon points="93.2,313.6 85.3,335.4 104.1,335.1" fill="#bcffff" stroke="#bcffff"/>
<polygon points="85.3,335.4 67.3,337.6 80.7,360.8" fill="#c1ffff" stroke="#c1ffff"/>
<polygon points="85.3,335.4 101.7,362.4 104.1,335.1" fill="#c0ffff" stroke="#c0ffff"/>
<polygon points="101.7,362.4 85.3,335.4 80.7,360.8" fill="#c1ffff" stroke="#c1ffff"/>
<polygon points="138.9,375.3 117,379.5 141.1,400.1" fill="#c2ffff" stroke="#c2ffff"/>
<polygon points="138.9,375.3 163.7,373.2 139.8,354.2" fill="#c1ffff" stroke="#c1ffff"/>
<polygon points="120.2,356.2 138.9,375.3 139.8,354.2" fill="#c2ffff" stroke="#c2ffff"/>
<polygon points="117,379.5 138.9,375.3 120.2,356.2" fill="#c2ffff" stroke="#c2ffff"/>
<polygon points="158.9,391.7 138.9,375.3 141.1,400.1" fill="#c1ffff" stroke="#c1ffff"/>
<polygon points="163.7,373.2 138.9,375.3 158.9,391.7" fill="#c0ffff" stroke="#c0ffff"/>
<polygon points="237.4,451.3 234.3,434.2 210.9,447.8" fill="#bfffff" stroke="#bfffff"/>
<polygon points="234.3,434.2 266.2,434.4 240.5,418.5" fill="#b3ffff" stroke="#b3ffff"/>
<polygon points="266.2,434.4 234.3,434.2 237.4,451.3" fill="#bcffff" stroke="#bcffff"/>
<polygon points="63,230.1 50.2,207.3 46.7,233.8" fill="#b8ffff" stroke="#b8ffff"/>
<polygon points="63.9,263.9 63,230.1 46.7,233.8" fill="#b3ffff" stroke="#b3ffff"/>
<polygon points="50.2,207.3 69.2,205.8 57.1,181.5" fill="#b9ffff" stroke="#b9ffff"/>
<polygon points="69.2,205.8 63,230.1 84.6,207.6" fill="#acffff" stroke="#acffff"/>
<polygon points="63,230.1 69.2,205.8 50.2,207.3" fill="#b5ffff" stroke="#b5ffff"/>
<polygon points="85.9,159.1 91.6,183.8 107,156.2" fill="#96ffff" stroke="#96ffff"/>
<polygon points="102.8,131.8 85.9,159.1 107,156.2" fill="#a4ffff" stroke="#a4ffff"/>
<polygon points="85.9,159.1 102.8,131.8 80.7,133.6" fill="#b3ffff" stroke="#b3ffff"/>
<polygon points="91.6,183.8 112.3,182.3 107,156.2" fill="#80ffff" stroke="#80ffff"/>
<polygon points="112.3,182.3 126.5,159.2 107,156.2" fill="#7dffff" stroke="#7dffff"/>
<polygon points="126.5,159.2 112.3,182.3 129.9,184.5" fill="#70ffff" stroke="#70ffff"/>
<polygon points="129.9,184.5 112.3,182.3 119.8,207.1" fill="#67ffff" stroke="#67ffff"/>
<polygon points="141.4,96.3 137.1,77.2 115.9,93.4" fill="#cfffff" stroke="#cfffff"/>
<polygon points="141.4,96.3 143.6,116.2 160.2,104" fill="#f0ffff" stroke="#f0ffff"/>
<polygon points="159.3,84.5 141.4,96.3 160.2,104" fill="#f3ffff" stroke="#f3ffff"/>
<polygon points="141.4,96.3 159.3,84.5 137.1,77.2" fill="#e0ffff" stroke="#e0ffff"/>
<polygon points="126.5,159.2 143.2,136.6 118.9,137.6" fill="#a8ffff" stroke="#a8ffff"/>
<polygon points="143.2,136.6 143.6,116.2 118.9,137.6" fill="#c6ffff" stroke="#c6ffff"/>
<polygon points="162.2,123.4 143.2,136.6 164.1,143.1" fill="#f0ffff" stroke="#f0ffff"/>
<polygon points="143.6,116.2 143.2,136.6 162.2,123.4" fill="#ebffff" stroke="#ebffff"/>
<polygon points="97,112.4 117,115.8 115.9,93.4" fill="#c1ffff" stroke="#c1ffff"/>
<polygon points="143.6,116.2 117,115.8 118.9,137.6" fill="#c1ffff" stroke="#c1ffff"/>
<polygon points="117,115.8 102.8,131.8 118.9,137.6" fill="#b5ffff" stroke="#b5ffff"/>
<polygon points="102.8,131.8 117,115.8 97,112.4" fill="#bbffff" stroke="#bbffff"/>
<polygon points="117,115.8 141.4,96.3 115.9,93.4" fill="#caffff" stroke="#caffff"/>
<polygon points="141.4,96.3 117,115.8 143.6,116.2" fill="#d4ffff" stroke="#d4ffff"/>
<polygon points="169.4,186 168.3,160.9 148.3,186.4" fill="#d3ffff" stroke="#d3ffff"/>
<polygon points="168.3,160.9 169.4,186 188.4,166.9" fill="#faffff" stroke="#faffff"/>
<polygon points="168.3,160.9 185.4,147.4 164.1,143.1" fill="#ffffdf" stroke="#ffffdf"/>
<polygon points="185.4,147.4 168.3,160.9 188.4,166.9" fill="#ffffcd" stroke="#ffffcd"/>
<polygon points="267.4,180.1 260,198.2 286.8,189.5" fill="#ffff19" stroke="#ffff19"/>
<polygon points="267.4,180.1 286.5,170.7 265.5,164.2" fill="#ff6a00" stroke="#ff6a00"/>
<polygon points="286.5,170.7 267.4,180.1 286.8,189.5" fill="#ffc200" stroke="#ffc200"/>
<polygon points="260,198.2 263.5,214.8 288.4,211.9" fill="#ffff0c" stroke="#ffff0c"/>
<polygon points="282,236.5 263.5,214.8 262.8,235.1" fill="#ffff02" stroke="#ffff02"/>
<polygon points="263.5,214.8 282,236.5 288.4,211.9" fill="#ffff08" stroke="#ffff08"/>
<polygon points="149.6,233 136.8,211.3 133.6,232.7" fill="#9effff" stroke="#9effff"/>
<polygon points="149.6,233 133.6,232.7 148.5,257.3" fill="#b4ffff" stroke="#b4ffff"/>
<polygon points="166.3,232.8 149.6,233 148.5,257.3" fill="#d6ffff" stroke="#d6ffff"/>
<polygon points="149.6,233 166.3,232.8 157.4,205.1" fill="#dbffff" stroke="#dbffff"/>
<polygon points="136.8,211.3 149.6,233 157.4,205.1" fill="#b3ffff" stroke="#b3ffff"/>
<polygon points="101.9,211 91.6,183.8 84.6,207.6" fill="#8dffff" stroke="#8dffff"/>
<polygon points="112.3,182.3 101.9,211 119.8,207.1" fill="#6fffff" stroke="#6fffff"/>
<polygon points="101.9,211 112.3,182.3 91.6,183.8" fill="#7bffff" stroke="#7bffff"/>
<polygon points="131.7,262.1 115.6,261.7 120.6,288.3" fill="#a2ffff" stroke="#a2ffff"/>
<polygon points="133.6,232.7 131.7,262.1 148.5,257.3" fill="#a4ffff" stroke="#a4ffff"/>
<polygon points="346.4,211.1 335.2,231.4 351.9,235.1" fill="#ffff91" stroke="#ffff91"/>
<polygon points="335.2,231.4 335.8,261.5 351.9,235.1" fill="#ffff83" stroke="#ffff83"/>
<polygon points="335.2,231.4 318.5,256.8 335.8,261.5" fill="#ffff5d" stroke="#ffff5d"/>
<polygon points="318.5,256.8 335.2,231.4 318.1,232.5" fill="#ffff41" stroke="#ffff41"/>
<polygon points="318.5,256.8 308.9,284.9 326,286.6" fill="#ffff5d" stroke="#ffff5d"/>
<polygon points="311.8,305.6 308.9,284.9 286.8,306" fill="#ffff77" stroke="#ffff77"/>
<polygon points="308.9,284.9 311.8,305.6 326,286.6" fill="#ffff7a" stroke="#ffff7a"/>
<polygon points="361.9,375.5 381,380.5 377.2,359.8" fill="#fdffff" stroke="#fdffff"/>
<polygon points="357.8,356.3 361.9,375.5 377.2,359.8" fill="#fffffa" stroke="#fffffa"/>
<polygon points="361.9,375.5 361.4,397.3 381,380.5" fill="#f1ffff" stroke="#f1ffff"/>
<polygon points="361.4,397.3 361.9,375.5 342.2,391.5" fill="#e9ffff" stroke="#e9ffff"/>
<polygon points="315.2,368.4 340.6,372.7 339.6,351.6" fill="#eaffff" stroke="#eaffff"/>
<polygon points="361.9,375.5 340.6,372.7 342.2,391.5" fill="#edffff" stroke="#edffff"/>
<polygon points="340.6,372.7 316.5,386.4 342.2,391.5" fill="#dcffff" stroke="#dcffff"/>
<polygon points="340.6,372.7 315.2,368.4 316.5,386.4" fill="#d7ffff" stroke="#d7ffff"/>
<polygon points="340.6,372.7 357.8,356.3 339.6,351.6" fill="#fcffff" stroke="#fcffff"/>
<polygon points="340.6,372.7 361.9,375.5 357.8,356.3" fill="#fbffff" stroke="#fbffff"/>
<polygon points="264.3,364.6 291.5,360.2 261.9,348.4" fill="#b6ffff" stroke="#b6ffff"/>
<polygon points="291.5,360.2 293.1,340.3 261.9,348.4" fill="#d4ffff" stroke="#d4ffff"/>
<polygon points="291.5,360.2 264.3,364.6 288.3,379.1" fill="#acffff" stroke="#acffff"/>
<polygon points="315.2,368.4 291.5,360.2 288.3,379.1" fill="#bcffff" stroke="#bcffff"/>
<polygon points="291.5,360.2 315.2,368.4 313.7,349" fill="#cfffff" stroke="#cfffff"/>
<polygon points="293.1,340.3 291.5,360.2 313.7,349" fill="#d8ffff" stroke="#d8ffff"/>
<polygon points="289.1,322 293.1,340.3 311.9,328" fill="#fffff5" stroke="#fffff5"/>
<polygon points="289.1,322 311.8,305.6 286.8,306" fill="#ffff9e" stroke="#ffff9e"/>
<polygon points="311.8,305.6 289.1,322 311.9,328" fill="#ffffcc" stroke="#ffffcc"/>
<polygon points="261.9,315.5 289.1,322 286.8,306" fill="#ffff9e" stroke="#ffff9e"/>
<polygon points="157.1,286.1 174.5,286.2 166.6,261.9" fill="#e4ffff" stroke="#e4ffff"/>
<polygon points="174.5,286.2 183.6,259.7 166.6,261.9" fill="#ffffef" stroke="#ffffef"/>
<polygon points="166.6,261.9 183.6,259.7 166.3,232.8" fill="#ffffe0" stroke="#ffffe0"/>
<polygon points="183.6,259.7 183.4,231.9 166.3,232.8" fill="#ffffb6" stroke="#ffffb6"/>
<polygon points="183.6,259.7 202.9,261.7 200.9,236.1" fill="#ffff74" stroke="#ffff74"/>
<polygon points="183.4,231.9 183.6,259.7 200.9,236.1" fill="#ffff82" stroke="#ffff82"/>
<polygon points="237.9,278.5 212.6,280.8 240.8,297.8" fill="#ffff5a" stroke="#ffff5a"/>
<polygon points="264.4,278.3 237.9,278.5 240.8,297.8" fill="#ffff3e" stroke="#ffff3e"/>
<polygon points="217.7,257.5 237.9,278.5 238.7,259.3" fill="#ffff22" stroke="#ffff22"/>
<polygon points="237.9,278.5 217.7,257.5 212.6,280.8" fill="#ffff47" stroke="#ffff47"/>
<polygon points="237.9,278.5 262.8,259.3 238.7,259.3" fill="#ffff1c" stroke="#ffff1c"/>
<polygon points="262.8,259.3 237.9,278.5 264.4,278.3" fill="#ffff1d" stroke="#ffff1d"/>
<polygon points="212.6,280.8 215,304.3 240.8,297.8" fill="#ffff82" stroke="#ffff82"/>
<polygon points="215.3,189 190.7,187.7 194.6,207.7" fill="#ffff6e" stroke="#ffff6e"/>
<polygon points="169.4,186 190.7,187.7 188.4,166.9" fill="#ffffd2" stroke="#ffffd2"/>
<polygon points="190.7,187.7 176.1,205.1 194.6,207.7" fill="#ffff94" stroke="#ffff94"/>
<polygon points="176.1,205.1 190.7,187.7 169.4,186" fill="#ffffcd" stroke="#ffffcd"/>
<polygon points="188.4,166.9 210,171 212.8,152.3" fill="#ffff63" stroke="#ffff63"/>
<polygon points="190.7,187.7 210,171 188.4,166.9" fill="#ffffa3" stroke="#ffffa3"/>
<polygon points="210,171 190.7,187.7 215.3,189" fill="#ffff75" stroke="#ffff75"/>
<polygon points="237.9,314.8 261.9,315.5 240.8,297.8" fill="#ffff90" stroke="#ffff90"/>
<polygon points="237.9,314.8 237.7,331.4 261.9,315.5" fill="#ffffcb" stroke="#ffffcb"/>
<polygon points="215,304.3 237.9,314.8 240.8,297.8" fill="#ffff99" stroke="#ffff99"/>
<polygon points="186.9,326.5 209.4,321.7 188.7,305.8" fill="#e7ffff" stroke="#e7ffff"/>
<polygon points="209.4,321.7 215,304.3 188.7,305.8" fill="#fffff8" stroke="#fffff8"/>
<polygon points="237.9,314.8 209.4,321.7 237.7,331.4" fill="#fffff1" stroke="#fffff1"/>
<polygon points="209.4,321.7 237.9,314.8 215,304.3" fill="#ffffd6" stroke="#ffffd6"/>
<polygon points="163.7,373.2 189.5,367.7 162.6,350.2" fill="#beffff" stroke="#beffff"/>
<polygon points="371.5,311.2 374.4,336.3 390.8,310.4" fill="#fffff7" stroke="#fffff7"/>
<polygon points="374.4,336.3 371.5,311.2 356.9,334.3" fill="#fffff1" stroke="#fffff1"/>
<polygon points="371.5,311.2 352.4,307.6 356.9,334.3" fill="#fffff8" stroke="#fffff8"/>
<polygon points="345.2,289.5 335.8,261.5 326,286.6" fill="#ffff99" stroke="#ffff99"/>
<polygon points="334,307.2 311.8,305.6 311.9,328" fill="#ffffd2" stroke="#ffffd2"/>
<polygon points="311.8,305.6 334,307.2 326,286.6" fill="#ffffab" stroke="#ffffab"/>
<polygon points="334,307.2 345.2,289.5 326,286.6" fill="#ffffbd" stroke="#ffffbd"/>
<polygon points="345.2,289.5 334,307.2 352.4,307.6" fill="#ffffdf" stroke="#ffffdf"/>
<polygon points="404.6,256.9 419.9,237.3 402.3,232.6" fill="#83ffff" stroke="#83ffff"/>
<polygon points="434.2,337.6 444.4,312.9 427.2,309.8" fill="#d7ffff" stroke="#d7ffff"/>
<polygon points="414.6,340.7 434.2,337.6 427.2,309.8" fill="#e1ffff" stroke="#e1ffff"/>
<polygon points="434.2,337.6 414.6,340.7 420.8,360.8" fill="#e3ffff" stroke="#e3ffff"/>
<polygon points="210.5,117.8 209.5,135.6 238.9,128" fill="#ff7d00" stroke="#ff7d00"/>
<polygon points="239.3,144.8 209.5,135.6 212.8,152.3" fill="#ffb100" stroke="#ffb100"/>
<polygon points="238.9,128 209.5,135.6 239.3,144.8" fill="#ff3900" stroke="#ff3900"/>
<polygon points="209.5,135.6 185.4,147.4 212.8,152.3" fill="#ffff2a" stroke="#ffff2a"/>
<polygon points="213.1,98.4 210.5,117.8 237.1,112.3" fill="#ff7b00" stroke="#ff7b00"/>
<polygon points="210.5,117.8 213.1,98.4 182.7,110.6" fill="#ffff0f" stroke="#ffff0f"/>
<polygon points="213.1,98.4 188.6,89.1 182.7,110.6" fill="#ffff45" stroke="#ffff45"/>
<polygon points="185,53.6 160.3,63.8 188.5,69.6" fill="#efffff" stroke="#efffff"/>
<polygon points="160.3,63.8 159.3,84.5 188.5,69.6" fill="#edffff" stroke="#edffff"/>
<polygon points="159.3,84.5 160.3,63.8 137.1,77.2" fill="#dcffff" stroke="#dcffff"/>
<polygon points="434.2,156.8 420.8,133.6 416.2,157.9" fill="#fffffa" stroke="#fffffa"/>
<polygon points="420.8,133.6 401.3,135.5 416.2,157.9" fill="#ffffb7" stroke="#ffffb7"/>
<polygon points="401.3,135.5 420.8,133.6 404.5,112.4" fill="#ffff89" stroke="#ffff89"/>
<polygon points="368.1,233.3 361.9,206.1 351.9,235.1" fill="#fffff8" stroke="#fffff8"/>
<polygon points="361.9,206.1 352.5,182.9 346.4,211.1" fill="#ffffc2" stroke="#ffffc2"/>
<polygon points="352.5,182.9 361.9,206.1 372.6,185.2" fill="#ffffa0" stroke="#ffffa0"/>
<polygon points="355.3,159.7 352.5,182.9 372.6,185.2" fill="#ffff35" stroke="#ffff35"/>
<polygon points="352.5,182.9 355.3,159.7 336.7,166.2" fill="#ffdf00" stroke="#ffdf00"/>
<polygon points="387.9,180.6 398.4,160.8 377.2,158.4" fill="#ffff7e" stroke="#ffff7e"/>
<polygon points="401.3,135.5 398.4,160.8 416.2,157.9" fill="#ffffa2" stroke="#ffffa2"/>
<polygon points="398.4,160.8 401.3,135.5 377.2,158.4" fill="#ffff58" stroke="#ffff58"/>
<polygon points="398.4,160.8 407.6,181.1 416.2,157.9" fill="#ffffe0" stroke="#ffffe0"/>
<polygon points="407.6,181.1 398.4,160.8 387.9,180.6" fill="#ffffd5" stroke="#ffffd5"/>
<polygon points="417.1,207.3 399.2,210.4 402.3,232.6" fill="#88ffff" stroke="#88ffff"/>
<polygon points="407.6,181.1 399.2,210.4 417.1,207.3" fill="#a6ffff" stroke="#a6ffff"/>
<polygon points="399.2,210.4 407.6,181.1 387.9,180.6" fill="#e8ffff" stroke="#e8ffff"/>
<polygon points="436.7,231 433.7,208.1 417.1,207.3" fill="#a1ffff" stroke="#a1ffff"/>
<polygon points="341.2,63.8 316.5,53.6 319.6,73.2" fill="#ffb300" stroke="#ffb300"/>
<polygon points="344.3,83.5 341.2,63.8 319.6,73.2" fill="#ff6b00" stroke="#ff6b00"/>
<polygon points="341.2,63.8 344.3,83.5 364.4,77.2" fill="#ffb400" stroke="#ffb400"/>
<polygon points="344.3,83.5 360.6,95.1 364.4,77.2" fill="#ff8800" stroke="#ff8800"/>
<polygon points="364.4,77.2 360.6,95.1 385.6,93.4" fill="#ffde00" stroke="#ffde00"/>
<polygon points="361.5,117.9 360.6,95.1 338.9,102" fill="#ed0000" stroke="#ed0000"/>
<polygon points="360.6,95.1 344.3,83.5 338.9,102" fill="#f80000" stroke="#f80000"/>
<polygon points="360.6,95.1 382.9,114 385.6,93.4" fill="#ffd600" stroke="#ffd600"/>
<polygon points="382.9,114 360.6,95.1 361.5,117.9" fill="#ff7400" stroke="#ff7400"/>
<polygon points="235,61.4 237.4,43.1 210.9,46.6" fill="#ffff89" stroke="#ffff89"/>
<polygon points="212.4,63.4 235,61.4 210.9,46.6" fill="#ffff7d" stroke="#ffff7d"/>
<polygon points="289.8,116.7 315.8,126.5 317.2,110.1" fill="#570000" stroke="#570000"/>
<polygon points="315.8,126.5 337.5,119.8 317.2,110.1" fill="#6d0000" stroke="#6d0000"/>
<polygon points="315.8,126.5 311.7,144.9 340.6,143.9" fill="#830000" stroke="#830000"/>
<polygon points="337.5,119.8 315.8,126.5 340.6,143.9" fill="#870000" stroke="#870000"/>
<polygon points="238.9,128 261,111.8 237.1,112.3" fill="#9e0000" stroke="#9e0000"/>
<polygon points="290.7,98.2 289.8,116.7 317.2,110.1" fill="#5a0000" stroke="#5a0000"/>
<polygon points="290.7,98.2 261,111.8 289.8,116.7" fill="#600000" stroke="#600000"/>
<polygon points="286.5,170.7 287.7,150.7 265.5,164.2" fill="#da0000" stroke="#da0000"/>
<polygon points="287.7,150.7 311.5,164.8 311.7,144.9" fill="#990000" stroke="#990000"/>
<polygon points="287.7,150.7 286.5,170.7 311.5,164.8" fill="#cf0000" stroke="#cf0000"/>
<polygon points="50.2,287.1 66.7,285.4 63.9,263.9" fill="#b4ffff" stroke="#b4ffff"/>
<polygon points="86.2,287.5 66.7,285.4 73.7,310" fill="#b3ffff" stroke="#b3ffff"/>
<polygon points="66.7,285.4 57.1,312.9 73.7,310" fill="#b9ffff" stroke="#b9ffff"/>
<polygon points="66.7,285.4 50.2,287.1 57.1,312.9" fill="#b9ffff" stroke="#b9ffff"/>
<polygon points="91.6,183.8 76.3,179.5 84.6,207.6" fill="#9dffff" stroke="#9dffff"/>
<polygon points="76.3,179.5 69.2,205.8 84.6,207.6" fill="#a8ffff" stroke="#a8ffff"/>
<polygon points="69.2,205.8 76.3,179.5 57.1,181.5" fill="#b4ffff" stroke="#b4ffff"/>
<polygon points="85.9,159.1 76.3,179.5 91.6,183.8" fill="#a2ffff" stroke="#a2ffff"/>
<polygon points="67.3,156.8 85.9,159.1 80.7,133.6" fill="#b7ffff" stroke="#b7ffff"/>
<polygon points="76.3,179.5 67.3,156.8 57.1,181.5" fill="#b8ffff" stroke="#b8ffff"/>
<polygon points="67.3,156.8 76.3,179.5 85.9,159.1" fill="#b1ffff" stroke="#b1ffff"/>
<polygon points="168.3,160.9 146.2,158.2 148.3,186.4" fill="#b6ffff" stroke="#b6ffff"/>
<polygon points="148.3,186.4 146.2,158.2 129.9,184.5" fill="#86ffff" stroke="#86ffff"/>
<polygon points="146.2,158.2 126.5,159.2 129.9,184.5" fill="#85ffff" stroke="#85ffff"/>
<polygon points="146.2,158.2 143.2,136.6 126.5,159.2" fill="#a9ffff" stroke="#a9ffff"/>
<polygon points="143.2,136.6 146.2,158.2 164.1,143.1" fill="#cdffff" stroke="#cdffff"/>
<polygon points="146.2,158.2 168.3,160.9 164.1,143.1" fill="#e1ffff" stroke="#e1ffff"/>
<polygon points="238.6,216.4 260,198.2 239.1,197.9" fill="#ffff14" stroke="#ffff14"/>
<polygon points="238.6,216.4 263.5,214.8 260,198.2" fill="#ffff0e" stroke="#ffff0e"/>
<polygon points="238.6,216.4 220.5,231.7 238.7,235.1" fill="#ffff16" stroke="#ffff16"/>
<polygon points="238.6,216.4 238.7,235.1 262.8,235.1" fill="#ffff0d" stroke="#ffff0d"/>
<polygon points="263.5,214.8 238.6,216.4 262.8,235.1" fill="#ffff08" stroke="#ffff08"/>
<polygon points="213.4,210.9 238.6,216.4 239.1,197.9" fill="#ffff1b" stroke="#ffff1b"/>
<polygon points="220.5,231.7 238.6,216.4 213.4,210.9" fill="#ffff1c" stroke="#ffff1c"/>
<polygon points="364.4,417.2 342.9,411 341.2,430.6" fill="#d0ffff" stroke="#d0ffff"/>
<polygon points="316.5,404 342.9,411 342.2,391.5" fill="#d0ffff" stroke="#d0ffff"/>
<polygon points="342.9,411 361.4,397.3 342.2,391.5" fill="#dbffff" stroke="#dbffff"/>
<polygon points="361.4,397.3 342.9,411 364.4,417.2" fill="#d8ffff" stroke="#d8ffff"/>
<polygon points="342.9,411 315.4,422.9 341.2,430.6" fill="#caffff" stroke="#caffff"/>
<polygon points="315.4,422.9 342.9,411 316.5,404" fill="#c7ffff" stroke="#c7ffff"/>
<polygon points="326.2,209.9 306.3,207 318.1,232.5" fill="#ffff28" stroke="#ffff28"/>
<polygon points="335.2,231.4 326.2,209.9 318.1,232.5" fill="#ffff48" stroke="#ffff48"/>
<polygon points="326.2,209.9 335.2,231.4 346.4,211.1" fill="#ffff70" stroke="#ffff70"/>
<polygon points="306.3,207 326.2,209.9 312,189.4" fill="#ffff32" stroke="#ffff32"/>
<polygon points="284,257 262.8,259.3 264.4,278.3" fill="#ffff17" stroke="#ffff17"/>
<polygon points="284,257 282,236.5 262.8,259.3" fill="#ffff10" stroke="#ffff10"/>
<polygon points="282,236.5 284,257 299.3,233" fill="#ffff11" stroke="#ffff11"/>
<polygon points="361.4,397.3 385.6,401 381,380.5" fill="#e8ffff" stroke="#e8ffff"/>
<polygon points="385.6,401 361.4,397.3 364.4,417.2" fill="#ddffff" stroke="#ddffff"/>
<polygon points="381,380.5 385.6,401 404.5,382" fill="#e9ffff" stroke="#e9ffff"/>
<polygon points="315.4,422.9 316.5,440.8 341.2,430.6" fill="#c6ffff" stroke="#c6ffff"/>
<polygon points="291.1,412.7 315.4,422.9 316.5,404" fill="#bbffff" stroke="#bbffff"/>
<polygon points="291.1,412.7 262,399 261.3,416.6" fill="#9effff" stroke="#9effff"/>
<polygon points="293.1,340.3 263.3,332.2 261.9,348.4" fill="#edffff" stroke="#edffff"/>
<polygon points="289.1,322 263.3,332.2 293.1,340.3" fill="#fffff8" stroke="#fffff8"/>
<polygon points="263.3,332.2 289.1,322 261.9,315.5" fill="#ffffc9" stroke="#ffffc9"/>
<polygon points="263.3,332.2 237.7,331.4 261.9,348.4" fill="#f0ffff" stroke="#f0ffff"/>
<polygon points="237.7,331.4 263.3,332.2 261.9,315.5" fill="#ffffe1" stroke="#ffffe1"/>
<polygon points="192.5,283.2 212.6,280.8 202.9,261.7" fill="#ffff83" stroke="#ffff83"/>
<polygon points="183.6,259.7 192.5,283.2 202.9,261.7" fill="#ffff94" stroke="#ffff94"/>
<polygon points="192.5,283.2 183.6,259.7 174.5,286.2" fill="#ffffd5" stroke="#ffffd5"/>
<polygon points="192.5,283.2 174.5,286.2 188.7,305.8" fill="#fffff9" stroke="#fffff9"/>
<polygon points="215,304.3 192.5,283.2 188.7,305.8" fill="#ffffd8" stroke="#ffffd8"/>
<polygon points="192.5,283.2 215,304.3 212.6,280.8" fill="#ffff9c" stroke="#ffff9c"/>
<polygon points="125.4,336.3 112.7,311.1 104.1,335.1" fill="#bcffff" stroke="#bcffff"/>
<polygon points="125.4,336.3 120.2,356.2 139.8,354.2" fill="#c1ffff" stroke="#c1ffff"/>
<polygon points="120.2,356.2 125.4,336.3 104.1,335.1" fill="#c0ffff" stroke="#c0ffff"/>
<polygon points="138.5,287.9 149.8,312.4 157.1,286.1" fill="#b6ffff" stroke="#b6ffff"/>
<polygon points="138.5,287.9 131.7,262.1 120.6,288.3" fill="#a9ffff" stroke="#a9ffff"/>
<polygon points="138.5,287.9 157.1,286.1 148.5,257.3" fill="#b8ffff" stroke="#b8ffff"/>
<polygon points="131.7,262.1 138.5,287.9 148.5,257.3" fill="#a9ffff" stroke="#a9ffff"/>
<polygon points="238.1,179.3 215.3,189 239.1,197.9" fill="#ffff24" stroke="#ffff24"/>
<polygon points="238.1,179.3 210,171 215.3,189" fill="#ffff52" stroke="#ffff52"/>
<polygon points="238.1,179.3 267.4,180.1 265.5,164.2" fill="#ffc400" stroke="#ffc400"/>
<polygon points="260,198.2 238.1,179.3 239.1,197.9" fill="#ffff1b" stroke="#ffff1b"/>
<polygon points="267.4,180.1 238.1,179.3 260,198.2" fill="#ffff1c" stroke="#ffff1c"/>
<polygon points="182.6,420.9 161.2,411.5 160.3,430.6" fill="#c0ffff" stroke="#c0ffff"/>
<polygon points="189.5,367.7 185.9,347.8 162.6,350.2" fill="#beffff" stroke="#beffff"/>
<polygon points="185.9,347.8 166.7,332 162.6,350.2" fill="#c1ffff" stroke="#c1ffff"/>
<polygon points="166.7,332 185.9,347.8 186.9,326.5" fill="#c1ffff" stroke="#c1ffff"/>
<polygon points="188.9,386.3 163.7,373.2 158.9,391.7" fill="#bbffff" stroke="#bbffff"/>
<polygon points="188.9,386.3 189.5,367.7 163.7,373.2" fill="#b8ffff" stroke="#b8ffff"/>
<polygon points="398.1,288 404.6,256.9 387.8,257.4" fill="#b9ffff" stroke="#b9ffff"/>
<polygon points="408.4,313.6 398.1,288 390.8,310.4" fill="#eeffff" stroke="#eeffff"/>
<polygon points="345.2,289.5 352.6,257.5 335.8,261.5" fill="#ffffaf" stroke="#ffffaf"/>
<polygon points="335.8,261.5 352.6,257.5 351.9,235.1" fill="#ffffa5" stroke="#ffffa5"/>
<polygon points="352.6,257.5 368.1,233.3 351.9,235.1" fill="#ffffe4" stroke="#ffffe4"/>
<polygon points="336.1,330.1 334,307.2 311.9,328" fill="#ffffe9" stroke="#ffffe9"/>
<polygon points="339.6,351.6 336.1,330.1 313.7,349" fill="#f2ffff" stroke="#f2ffff"/>
<polygon points="336.1,330.1 311.9,328 313.7,349" fill="#fdffff" stroke="#fdffff"/>
<polygon points="336.1,330.1 339.6,351.6 356.9,334.3" fill="#fffffc" stroke="#fffffc"/>
<polygon points="352.4,307.6 336.1,330.1 356.9,334.3" fill="#fffff7" stroke="#fffff7"/>
<polygon points="334,307.2 336.1,330.1 352.4,307.6" fill="#ffffe8" stroke="#ffffe8"/>
<polygon points="419.9,237.3 419.6,264.1 438.6,257.7" fill="#a4ffff" stroke="#a4ffff"/>
<polygon points="404.6,256.9 419.6,264.1 419.9,237.3" fill="#99ffff" stroke="#99ffff"/>
<polygon points="398.1,288 419.6,264.1 404.6,256.9" fill="#baffff" stroke="#baffff"/>
<polygon points="209.5,135.6 183.3,127.6 185.4,147.4" fill="#ffff4c" stroke="#ffff4c"/>
<polygon points="162.2,123.4 183.3,127.6 182.7,110.6" fill="#ffffa2" stroke="#ffffa2"/>
<polygon points="183.3,127.6 210.5,117.8 182.7,110.6" fill="#ffff40" stroke="#ffff40"/>
<polygon points="183.3,127.6 209.5,135.6 210.5,117.8" fill="#ffff12" stroke="#ffff12"/>
<polygon points="183.3,127.6 162.2,123.4 164.1,143.1" fill="#ffffcf" stroke="#ffffcf"/>
<polygon points="185.4,147.4 183.3,127.6 164.1,143.1" fill="#ffffab" stroke="#ffffab"/>
<polygon points="425.2,180.1 407.6,181.1 417.1,207.3" fill="#b6ffff" stroke="#b6ffff"/>
<polygon points="433.7,208.1 425.2,180.1 417.1,207.3" fill="#b0ffff" stroke="#b0ffff"/>
<polygon points="425.2,180.1 433.7,208.1 444.4,181.5" fill="#bcffff" stroke="#bcffff"/>
<polygon points="407.6,181.1 425.2,180.1 416.2,157.9" fill="#e8ffff" stroke="#e8ffff"/>
<polygon points="425.2,180.1 434.2,156.8 416.2,157.9" fill="#dcffff" stroke="#dcffff"/>
<polygon points="425.2,180.1 444.4,181.5 434.2,156.8" fill="#c2ffff" stroke="#c2ffff"/>
<polygon points="368.1,233.3 380.9,208.7 361.9,206.1" fill="#d6ffff" stroke="#d6ffff"/>
<polygon points="361.9,206.1 380.9,208.7 372.6,185.2" fill="#fffff2" stroke="#fffff2"/>
<polygon points="380.9,208.7 387.9,180.6 372.6,185.2" fill="#ffffe2" stroke="#ffffe2"/>
<polygon points="380.9,208.7 399.2,210.4 387.9,180.6" fill="#dcffff" stroke="#dcffff"/>
<polygon points="433.7,208.1 451.3,207.3 444.4,181.5" fill="#bbffff" stroke="#bbffff"/>
<polygon points="451.3,207.3 436.7,231 454.8,233.8" fill="#b3ffff" stroke="#b3ffff"/>
<polygon points="451.3,207.3 433.7,208.1 436.7,231" fill="#afffff" stroke="#afffff"/>
<polygon points="237.4,43.1 263.6,59.7 264.1,43.1" fill="#ffff45" stroke="#ffff45"/>
<polygon points="235,61.4 263.6,59.7 237.4,43.1" fill="#ffff33" stroke="#ffff33"/>
<polygon points="263.6,59.7 290.6,46.6 264.1,43.1" fill="#ffff1e" stroke="#ffff1e"/>
<polygon points="240.3,76.2 235,61.4 212.4,63.4" fill="#ffff1e" stroke="#ffff1e"/>
<polygon points="263.6,59.7 240.3,76.2 266.8,76.7" fill="#ff7b00" stroke="#ff7b00"/>
<polygon points="240.3,76.2 263.6,59.7 235,61.4" fill="#ffe600" stroke="#ffe600"/>
<polygon points="315.4,90.3 290.7,98.2 317.2,110.1" fill="#6f0000" stroke="#6f0000"/>
<polygon points="315.4,90.3 317.2,110.1 338.9,102" fill="#840000" stroke="#840000"/>
<polygon points="315.4,90.3 344.3,83.5 319.6,73.2" fill="#da0000" stroke="#da0000"/>
<polygon points="344.3,83.5 315.4,90.3 338.9,102" fill="#b10000" stroke="#b10000"/>
<polygon points="290.7,80.5 315.4,90.3 319.6,73.2" fill="#b10000" stroke="#b10000"/>
<polygon points="315.4,90.3 290.7,80.5 290.7,98.2" fill="#890000" stroke="#890000"/>
<polygon points="261,111.8 265.9,129.1 289.8,116.7" fill="#630000" stroke="#630000"/>
<polygon points="265.9,129.1 261,111.8 238.9,128" fill="#880000" stroke="#880000"/>
<polygon points="288.7,134.8 287.7,150.7 311.7,144.9" fill="#760000" stroke="#760000"/>
<polygon points="315.8,126.5 288.7,134.8 311.7,144.9" fill="#650000" stroke="#650000"/>
<polygon points="288.7,134.8 315.8,126.5 289.8,116.7" fill="#530000" stroke="#530000"/>
<polygon points="265.9,129.1 288.7,134.8 289.8,116.7" fill="#5c0000" stroke="#5c0000"/>
<polygon points="99.4,263.9 80.6,257.2 86.2,287.5" fill="#a5ffff" stroke="#a5ffff"/>
<polygon points="66.7,285.4 80.6,257.2 63.9,263.9" fill="#adffff" stroke="#adffff"/>
<polygon points="80.6,257.2 66.7,285.4 86.2,287.5" fill="#acffff" stroke="#acffff"/>
<polygon points="103.5,288.5 99.4,263.9 86.2,287.5" fill="#a7ffff" stroke="#a7ffff"/>
<polygon points="103.5,288.5 112.7,311.1 120.6,288.3" fill="#aeffff" stroke="#aeffff"/>
<polygon points="115.6,261.7 103.5,288.5 120.6,288.3" fill="#a5ffff" stroke="#a5ffff"/>
<polygon points="99.4,263.9 103.5,288.5 115.6,261.7" fill="#a1ffff" stroke="#a1ffff"/>
<polygon points="112.7,311.1 103.5,288.5 93.2,313.6" fill="#b2ffff" stroke="#b2ffff"/>
<polygon points="103.5,288.5 86.2,287.5 93.2,313.6" fill="#afffff" stroke="#afffff"/>
<polygon points="352.5,182.9 329.9,182.2 346.4,211.1" fill="#ffff68" stroke="#ffff68"/>
<polygon points="329.9,182.2 326.2,209.9 346.4,211.1" fill="#ffff77" stroke="#ffff77"/>
<polygon points="326.2,209.9 329.9,182.2 312,189.4" fill="#ffff4a" stroke="#ffff4a"/>
<polygon points="329.9,182.2 352.5,182.9 336.7,166.2" fill="#fff900" stroke="#fff900"/>
<polygon points="329.9,182.2 311.5,164.8 312,189.4" fill="#ffc400" stroke="#ffc400"/>
<polygon points="311.5,164.8 329.9,182.2 336.7,166.2" fill="#ff8300" stroke="#ff8300"/>
<polygon points="287.9,281.6 284,257 264.4,278.3" fill="#ffff1c" stroke="#ffff1c"/>
<polygon points="308.9,284.9 287.9,281.6 286.8,306" fill="#ffff56" stroke="#ffff56"/>
<polygon points="287.9,281.6 264.8,295.6 286.8,306" fill="#ffff55" stroke="#ffff55"/>
<polygon points="264.8,295.6 287.9,281.6 264.4,278.3" fill="#ffff33" stroke="#ffff33"/>
<polygon points="291.1,412.7 290,431.6 315.4,422.9" fill="#baffff" stroke="#baffff"/>
<polygon points="316.5,440.8 290,431.6 290.6,447.8" fill="#c1ffff" stroke="#c1ffff"/>
<polygon points="290,431.6 316.5,440.8 315.4,422.9" fill="#c1ffff" stroke="#c1ffff"/>
<polygon points="290,431.6 266.2,434.4 290.6,447.8" fill="#bdffff" stroke="#bdffff"/>
<polygon points="266.2,434.4 290,431.6 261.3,416.6" fill="#b4ffff" stroke="#b4ffff"/>
<polygon points="290,431.6 291.1,412.7 261.3,416.6" fill="#afffff" stroke="#afffff"/>
<polygon points="291.1,412.7 288.5,395.4 262,399" fill="#9effff" stroke="#9effff"/>
<polygon points="264,383.1 288.5,395.4 288.3,379.1" fill="#9bffff" stroke="#9bffff"/>
<polygon points="262,399 288.5,395.4 264,383.1" fill="#92ffff" stroke="#92ffff"/>
<polygon points="288.5,395.4 316.5,386.4 288.3,379.1" fill="#aeffff" stroke="#aeffff"/>
<polygon points="288.5,395.4 316.5,404 316.5,386.4" fill="#b8ffff" stroke="#b8ffff"/>
<polygon points="288.5,395.4 291.1,412.7 316.5,404" fill="#b0ffff" stroke="#b0ffff"/>
<polygon points="162.6,350.2 147.7,336.2 139.8,354.2" fill="#c1ffff" stroke="#c1ffff"/>
<polygon points="166.7,332 147.7,336.2 162.6,350.2" fill="#c1ffff" stroke="#c1ffff"/>
<polygon points="147.7,336.2 125.4,336.3 139.8,354.2" fill="#c0ffff" stroke="#c0ffff"/>
<polygon points="147.7,336.2 166.7,332 149.8,312.4" fill="#bfffff" stroke="#bfffff"/>
<polygon points="166.7,332 170.6,310.3 149.8,312.4" fill="#bfffff" stroke="#bfffff"/>
<polygon points="174.5,286.2 170.6,310.3 188.7,305.8" fill="#e5ffff" stroke="#e5ffff"/>
<polygon points="170.6,310.3 186.9,326.5 188.7,305.8" fill="#d9ffff" stroke="#d9ffff"/>
<polygon points="170.6,310.3 166.7,332 186.9,326.5" fill="#c1ffff" stroke="#c1ffff"/>
<polygon points="170.6,310.3 174.5,286.2 157.1,286.1" fill="#d8ffff" stroke="#d8ffff"/>
<polygon points="149.8,312.4 170.6,310.3 157.1,286.1" fill="#bdffff" stroke="#bdffff"/>
<polygon points="125.4,336.3 129.9,310.3 112.7,311.1" fill="#b9ffff" stroke="#b9ffff"/>
<polygon points="138.5,287.9 129.9,310.3 149.8,312.4" fill="#b6ffff" stroke="#b6ffff"/>
<polygon points="129.9,310.3 147.7,336.2 149.8,312.4" fill="#bcffff" stroke="#bcffff"/>
<polygon points="147.7,336.2 129.9,310.3 125.4,336.3" fill="#bdffff" stroke="#bdffff"/>
<polygon points="112.7,311.1 129.9,310.3 120.6,288.3" fill="#b2ffff" stroke="#b2ffff"/>
<polygon points="129.9,310.3 138.5,287.9 120.6,288.3" fill="#b0ffff" stroke="#b0ffff"/>
<polygon points="210,171 234.7,163.5 212.8,152.3" fill="#ffff17" stroke="#ffff17"/>
<polygon points="238.1,179.3 234.7,163.5 210,171" fill="#ffff21" stroke="#ffff21"/>
<polygon points="234.7,163.5 239.3,144.8 212.8,152.3" fill="#ffa700" stroke="#ffa700"/>
<polygon points="239.3,144.8 234.7,163.5 265.5,164.2" fill="#ff4800" stroke="#ff4800"/>
<polygon points="234.7,163.5 238.1,179.3 265.5,164.2" fill="#ffbe00" stroke="#ffbe00"/>
<polygon points="237.2,366.4 261.9,348.4 235.8,347.5" fill="#b9ffff" stroke="#b9ffff"/>
<polygon points="237.2,366.4 264.3,364.6 261.9,348.4" fill="#aaffff" stroke="#aaffff"/>
<polygon points="237.2,366.4 264,383.1 264.3,364.6" fill="#99ffff" stroke="#99ffff"/>
<polygon points="237.2,366.4 235,382 264,383.1" fill="#91ffff" stroke="#91ffff"/>
<polygon points="238.6,399.4 235,382 209.1,394.6" fill="#91ffff" stroke="#91ffff"/>
<polygon points="261.3,416.6 238.6,399.4 240.5,418.5" fill="#9bffff" stroke="#9bffff"/>
<polygon points="262,399 238.6,399.4 261.3,416.6" fill="#92ffff" stroke="#92ffff"/>
<polygon points="238.6,399.4 262,399 264,383.1" fill="#8affff" stroke="#8affff"/>
<polygon points="235,382 238.6,399.4 264,383.1" fill="#89ffff" stroke="#89ffff"/>
<polygon points="209.8,412.4 234.3,434.2 240.5,418.5" fill="#adffff" stroke="#adffff"/>
<polygon points="238.6,399.4 209.8,412.4 240.5,418.5" fill="#9effff" stroke="#9effff"/>
<polygon points="209.8,412.4 238.6,399.4 209.1,394.6" fill="#9cffff" stroke="#9cffff"/>
<polygon points="185,440.8 182.6,420.9 160.3,430.6" fill="#c1ffff" stroke="#c1ffff"/>
<polygon points="209.3,341.8 209.4,321.7 186.9,326.5" fill="#daffff" stroke="#daffff"/>
<polygon points="185.9,347.8 209.3,341.8 186.9,326.5" fill="#c1ffff" stroke="#c1ffff"/>
<polygon points="237.7,331.4 209.3,341.8 235.8,347.5" fill="#daffff" stroke="#daffff"/>
<polygon points="209.4,321.7 209.3,341.8 237.7,331.4" fill="#e8ffff" stroke="#e8ffff"/>
<polygon points="380.5,286.5 371.5,311.2 390.8,310.4" fill="#f7ffff" stroke="#f7ffff"/>
<polygon points="398.1,288 380.5,286.5 390.8,310.4" fill="#eaffff" stroke="#eaffff"/>
<polygon points="380.5,286.5 398.1,288 387.8,257.4" fill="#d1ffff" stroke="#d1ffff"/>
<polygon points="416.3,287.4 419.6,264.1 398.1,288" fill="#cbffff" stroke="#cbffff"/>
<polygon points="416.3,287.4 408.4,313.6 427.2,309.8" fill="#dfffff" stroke="#dfffff"/>
<polygon points="416.3,287.4 398.1,288 408.4,313.6" fill="#e0ffff" stroke="#e0ffff"/>
<polygon points="387.5,234.5 380.9,208.7 368.1,233.3" fill="#afffff" stroke="#afffff"/>
<polygon points="387.5,234.5 368.1,233.3 387.8,257.4" fill="#a9ffff" stroke="#a9ffff"/>
<polygon points="399.2,210.4 387.5,234.5 402.3,232.6" fill="#7effff" stroke="#7effff"/>
<polygon points="380.9,208.7 387.5,234.5 399.2,210.4" fill="#8effff" stroke="#8effff"/>
<polygon points="387.5,234.5 404.6,256.9 402.3,232.6" fill="#82ffff" stroke="#82ffff"/>
<polygon points="404.6,256.9 387.5,234.5 387.8,257.4" fill="#93ffff" stroke="#93ffff"/>
<polygon points="209.4,82.6 240.3,76.2 212.4,63.4" fill="#ffff1c" stroke="#ffff1c"/>
<polygon points="213.1,98.4 209.4,82.6 188.6,89.1" fill="#ffff2e" stroke="#ffff2e"/>
<polygon points="209.4,82.6 212.4,63.4 188.5,69.6" fill="#ffff76" stroke="#ffff76"/>
<polygon points="188.6,89.1 209.4,82.6 188.5,69.6" fill="#ffff7a" stroke="#ffff7a"/>
<polygon points="235.5,94.3 213.1,98.4 237.1,112.3" fill="#ff4600" stroke="#ff4600"/>
<polygon points="235.5,94.3 209.4,82.6 213.1,98.4" fill="#ffca00" stroke="#ffca00"/>
<polygon points="209.4,82.6 235.5,94.3 240.3,76.2" fill="#ffb100" stroke="#ffb100"/>
<polygon points="316.5,53.6 288.2,63.8 319.6,73.2" fill="#ff8400" stroke="#ff8400"/>
<polygon points="288.2,63.8 290.7,80.5 319.6,73.2" fill="#f60000" stroke="#f60000"/>
<polygon points="290.6,46.6 288.2,63.8 316.5,53.6" fill="#ffe900" stroke="#ffe900"/>
<polygon points="263.6,59.7 288.2,63.8 290.6,46.6" fill="#ffd900" stroke="#ffd900"/>
<polygon points="288.2,63.8 263.6,59.7 266.8,76.7" fill="#ff6f00" stroke="#ff6f00"/>
<polygon points="290.7,80.5 288.2,63.8 266.8,76.7" fill="#f30000" stroke="#f30000"/>
<polygon points="287.7,150.7 261.7,144.9 265.5,164.2" fill="#a40000" stroke="#a40000"/>
<polygon points="261.7,144.9 239.3,144.8 265.5,164.2" fill="#d30000" stroke="#d30000"/>
<polygon points="288.7,134.8 261.7,144.9 287.7,150.7" fill="#7e0000" stroke="#7e0000"/>
<polygon points="261.7,144.9 288.7,134.8 265.9,129.1" fill="#750000" stroke="#750000"/>
<polygon points="261.7,144.9 238.9,128 239.3,144.8" fill="#be0000" stroke="#be0000"/>
<polygon points="261.7,144.9 265.9,129.1 238.9,128" fill="#920000" stroke="#920000"/>
<polygon points="98.6,237.4 80.6,257.2 99.4,263.9" fill="#9effff" stroke="#9effff"/>
<polygon points="98.6,237.4 99.4,263.9 115.6,261.7" fill="#9affff" stroke="#9affff"/>
<polygon points="98.6,237.4 101.9,211 84.6,207.6" fill="#90ffff" stroke="#90ffff"/>
<polygon points="300,262.8 287.9,281.6 308.9,284.9" fill="#ffff35" stroke="#ffff35"/>
<polygon points="287.9,281.6 300,262.8 284,257" fill="#ffff1b" stroke="#ffff1b"/>
<polygon points="300,262.8 308.9,284.9 318.5,256.8" fill="#ffff38" stroke="#ffff38"/>
<polygon points="300,262.8 318.5,256.8 299.3,233" fill="#ffff1c" stroke="#ffff1c"/>
<polygon points="284,257 300,262.8 299.3,233" fill="#ffff16" stroke="#ffff16"/>
<polygon points="235,382 208.8,378.2 209.1,394.6" fill="#9affff" stroke="#9affff"/>
<polygon points="237.2,366.4 208.8,378.2 235,382" fill="#9affff" stroke="#9affff"/>
<polygon points="208.8,378.2 188.9,386.3 209.1,394.6" fill="#a6ffff" stroke="#a6ffff"/>
<polygon points="188.9,386.3 208.8,378.2 189.5,367.7" fill="#afffff" stroke="#afffff"/>
<polygon points="209.8,412.4 187.4,404.6 182.6,420.9" fill="#b5ffff" stroke="#b5ffff"/>
<polygon points="182.6,420.9 187.4,404.6 161.2,411.5" fill="#bcffff" stroke="#bcffff"/>
<polygon points="188.9,386.3 187.4,404.6 209.1,394.6" fill="#acffff" stroke="#acffff"/>
<polygon points="187.4,404.6 209.8,412.4 209.1,394.6" fill="#aaffff" stroke="#aaffff"/>
<polygon points="161.2,411.5 187.4,404.6 158.9,391.7" fill="#bcffff" stroke="#bcffff"/>
<polygon points="187.4,404.6 188.9,386.3 158.9,391.7" fill="#b7ffff" stroke="#b7ffff"/>
<polygon points="207.3,430.1 209.8,412.4 182.6,420.9" fill="#b7ffff" stroke="#b7ffff"/>
<polygon points="185,440.8 207.3,430.1 182.6,420.9" fill="#beffff" stroke="#beffff"/>
<polygon points="207.3,430.1 185,440.8 210.9,447.8" fill="#c0ffff" stroke="#c0ffff"/>
<polygon points="234.3,434.2 207.3,430.1 210.9,447.8" fill="#bdffff" stroke="#bdffff"/>
<polygon points="209.8,412.4 207.3,430.1 234.3,434.2" fill="#b4ffff" stroke="#b4ffff"/>
<polygon points="212.1,360.5 185.9,347.8 189.5,367.7" fill="#b9ffff" stroke="#b9ffff"/>
<polygon points="212.1,360.5 209.3,341.8 185.9,347.8" fill="#bcffff" stroke="#bcffff"/>
<polygon points="208.8,378.2 212.1,360.5 189.5,367.7" fill="#afffff" stroke="#afffff"/>
<polygon points="212.1,360.5 208.8,378.2 237.2,366.4" fill="#a6ffff" stroke="#a6ffff"/>
<polygon points="212.1,360.5 237.2,366.4 235.8,347.5" fill="#aeffff" stroke="#aeffff"/>
<polygon points="209.3,341.8 212.1,360.5 235.8,347.5" fill="#baffff" stroke="#baffff"/>
<polygon points="365.4,283.4 352.6,257.5 345.2,289.5" fill="#ffffe8" stroke="#ffffe8"/>
<polygon points="365.4,283.4 345.2,289.5 352.4,307.6" fill="#ffffea" stroke="#ffffea"/>
<polygon points="371.5,311.2 365.4,283.4 352.4,307.6" fill="#fffffb" stroke="#fffffb"/>
<polygon points="380.5,286.5 365.4,283.4 371.5,311.2" fill="#f1ffff" stroke="#f1ffff"/>
<polygon points="433.7,288.2 416.3,287.4 427.2,309.8" fill="#d4ffff" stroke="#d4ffff"/>
<polygon points="444.4,312.9 433.7,288.2 427.2,309.8" fill="#d2ffff" stroke="#d2ffff"/>
<polygon points="451.3,287.1 433.7,288.2 444.4,312.9" fill="#ccffff" stroke="#ccffff"/>
<polygon points="416.3,287.4 433.7,288.2 419.6,264.1" fill="#c8ffff" stroke="#c8ffff"/>
<polygon points="433.7,288.2 451.3,287.1 438.6,257.7" fill="#c5ffff" stroke="#c5ffff"/>
<polygon points="419.6,264.1 433.7,288.2 438.6,257.7" fill="#bdffff" stroke="#bdffff"/>
<polygon points="240.3,76.2 261.9,93.8 266.8,76.7" fill="#f40000" stroke="#f40000"/>
<polygon points="235.5,94.3 261.9,93.8 240.3,76.2" fill="#fe0000" stroke="#fe0000"/>
<polygon points="290.7,98.2 261.9,93.8 261,111.8" fill="#790000" stroke="#790000"/>
<polygon points="261,111.8 261.9,93.8 237.1,112.3" fill="#950000" stroke="#950000"/>
<polygon points="261.9,93.8 235.5,94.3 237.1,112.3" fill="#c60000" stroke="#c60000"/>
<polygon points="261.9,93.8 290.7,80.5 266.8,76.7" fill="#ae0000" stroke="#ae0000"/>
<polygon points="290.7,80.5 261.9,93.8 290.7,98.2" fill="#8a0000" stroke="#8a0000"/>
<polygon points="114.6,235.2 98.6,237.4 115.6,261.7" fill="#94ffff" stroke="#94ffff"/>
<polygon points="114.6,235.2 131.7,262.1 133.6,232.7" fill="#95ffff" stroke="#95ffff"/>
<polygon points="131.7,262.1 114.6,235.2 115.6,261.7" fill="#99ffff" stroke="#99ffff"/>
<polygon points="114.6,235.2 133.6,232.7 119.8,207.1" fill="#83ffff" stroke="#83ffff"/>
<polygon points="101.9,211 114.6,235.2 119.8,207.1" fill="#7dffff" stroke="#7dffff"/>
<polygon points="98.6,237.4 114.6,235.2 101.9,211" fill="#8bffff" stroke="#8bffff"/>
<polygon points="98.6,237.4 80.5,237.7 80.6,257.2" fill="#a0ffff" stroke="#a0ffff"/>
<polygon points="80.5,237.7 63,230.1 63.9,263.9" fill="#acffff" stroke="#acffff"/>
<polygon points="80.6,257.2 80.5,237.7 63.9,263.9" fill="#a9ffff" stroke="#a9ffff"/>
<polygon points="63,230.1 80.5,237.7 84.6,207.6" fill="#a8ffff" stroke="#a8ffff"/>
<polygon points="80.5,237.7 98.6,237.4 84.6,207.6" fill="#9cffff" stroke="#9cffff"/>
<polygon points="365.4,283.4 368,263.5 352.6,257.5" fill="#fffffc" stroke="#fffffc"/>
<polygon points="368.1,233.3 368,263.5 387.8,257.4" fill="#ccffff" stroke="#ccffff"/>
<polygon points="352.6,257.5 368,263.5 368.1,233.3" fill="#f6ffff" stroke="#f6ffff"/>
<polygon points="368,263.5 380.5,286.5 387.8,257.4" fill="#d3ffff" stroke="#d3ffff"/>
<polygon points="368,263.5 365.4,283.4 380.5,286.5" fill="#eeffff" stroke="#eeffff"/>
<use href="#mesh"/>
<circle cx="250.75" cy="247.2" r="204.5" fill="none" stroke="#000" stroke-width="0.6"/>
<path d="M46.5 42.3 V451.5 H456" fill="none" stroke="#000" stroke-width="1"/><path d="M46.5 410.8h4M87.1 451.5v-4M46.5 369.9h4M128 451.5v-4M46.5 329h4M168.9 451.5v-4M46.5 288.1h4M209.8 451.5v-4M46.5 247.2h4M250.8 451.5v-4M46.5 206.3h4M291.6 451.5v-4M46.5 165.4h4M332.6 451.5v-4M46.5 124.5h4M373.5 451.5v-4M46.5 83.6h4M414.4 451.5v-4" stroke="#000" stroke-width="1"/><g class="tl"><text x="43.3" y="413.8" text-anchor="end">-0.8</text><text x="87.1" y="465.0" text-anchor="middle">-0.8</text><text x="43.3" y="372.9" text-anchor="end">-0.6</text><text x="128" y="465.0" text-anchor="middle">-0.6</text><text x="43.3" y="332" text-anchor="end">-0.4</text><text x="168.9" y="465.0" text-anchor="middle">-0.4</text><text x="43.3" y="291.1" text-anchor="end">-0.2</text><text x="209.8" y="465.0" text-anchor="middle">-0.2</text><text x="43.3" y="250.2" text-anchor="end">0</text><text x="250.8" y="465.0" text-anchor="middle">0</text><text x="43.3" y="209.3" text-anchor="end">0.2</text><text x="291.6" y="465.0" text-anchor="middle">0.2</text><text x="43.3" y="168.4" text-anchor="end">0.4</text><text x="332.6" y="465.0" text-anchor="middle">0.4</text><text x="43.3" y="127.5" text-anchor="end">0.6</text><text x="373.5" y="465.0" text-anchor="middle">0.6</text><text x="43.3" y="86.6" text-anchor="end">0.8</text><text x="414.4" y="465.0" text-anchor="middle">0.8</text></g>
<line x1="263.9" y1="43.1" x2="237.6" y2="43.1" stroke="#00b400" stroke-width="2.6"/><line x1="184.8" y1="53.6" x2="160.5" y2="63.7" stroke="#005a00" stroke-width="2.6"/><line x1="115.8" y1="93.6" x2="97.1" y2="112.2" stroke="#005a00" stroke-width="2.6"/><line x1="67.3" y1="156.9" x2="57.2" y2="181.3" stroke="#005a00" stroke-width="2.6"/><line x1="46.7" y1="234" x2="46.7" y2="260.4" stroke="#005a00" stroke-width="2.6"/><line x1="57.2" y1="313.1" x2="67.3" y2="337.5" stroke="#005a00" stroke-width="2.6"/><line x1="97.1" y1="382.2" x2="115.8" y2="400.8" stroke="#005a00" stroke-width="2.6"/><line x1="160.5" y1="430.7" x2="184.8" y2="440.8" stroke="#005a00" stroke-width="2.6"/><line x1="237.6" y1="451.3" x2="263.9" y2="451.3" stroke="#005a00" stroke-width="2.6"/><line x1="316.7" y1="440.8" x2="341" y2="430.7" stroke="#005a00" stroke-width="2.6"/><line x1="385.7" y1="400.8" x2="404.4" y2="382.2" stroke="#005a00" stroke-width="2.6"/><line x1="434.2" y1="337.5" x2="444.3" y2="313.1" stroke="#005a00" stroke-width="2.6"/><line x1="454.8" y1="260.4" x2="454.8" y2="234" stroke="#005a00" stroke-width="2.6"/><line x1="444.3" y1="181.3" x2="434.2" y2="156.9" stroke="#005a00" stroke-width="2.6"/><line x1="404.4" y1="112.2" x2="385.7" y2="93.6" stroke="#005a00" stroke-width="2.6"/><line x1="341" y1="63.7" x2="316.7" y2="53.6" stroke="#005a00" stroke-width="2.6"/>
<rect x="463.5" y="42.3" width="13.300000000000011" height="408.3" fill="url(#cb)" stroke="#000" stroke-width="0.8"/><path d="M476.8 134.7h-3M476.8 236h-3M476.8 335.7h-3M476.8 436h-3" stroke="#000" stroke-width="0.8"/><g class="tl cbl"><text x="480.8" y="137.7">0.045</text><text x="480.8" y="239">0.02</text><text x="480.8" y="338.7">-0.005</text><text x="480.8" y="439">-0.03</text></g>
</g>
<g transform="translate(850,0)">
<polygon points="238.7,235.1 238.7,259.3 250.8,247.2" fill="#5e0000" stroke="#5e0000"/>
<polygon points="262.8,235.1 238.7,235.1 250.8,247.2" fill="#5e0000" stroke="#5e0000"/>
<polygon points="46.7,260.6 63.9,263.9 46.7,233.8" fill="#00a6ff" stroke="#00a6ff"/>
<polygon points="46.7,260.6 50.2,287.1 63.9,263.9" fill="#00a9ff" stroke="#00a9ff"/>
<polygon points="166.6,261.9 166.3,232.8 148.5,257.3" fill="#ff8300" stroke="#ff8300"/>
<polygon points="200.9,236.1 213.4,210.9 194.6,207.7" fill="#be0000" stroke="#be0000"/>
<polygon points="220.5,231.7 213.4,210.9 200.9,236.1" fill="#9b0000" stroke="#9b0000"/>
<polygon points="438.6,257.7 454.8,260.6 454.8,233.8" fill="#00a5ff" stroke="#00a5ff"/>
<polygon points="451.3,287.1 454.8,260.6 438.6,257.7" fill="#00a8ff" stroke="#00a8ff"/>
<polygon points="311.7,144.9 336.7,166.2 340.6,143.9" fill="#ffff7a" stroke="#ffff7a"/>
<polygon points="419.9,237.3 417.1,207.3 402.3,232.6" fill="#71ffff" stroke="#71ffff"/>
<polygon points="358.9,138.9 377.2,158.4 378.8,133" fill="#91ffff" stroke="#91ffff"/>
<polygon points="361.5,117.9 358.9,138.9 378.8,133" fill="#6bffff" stroke="#6bffff"/>
<polygon points="311.5,164.8 336.7,166.2 311.7,144.9" fill="#ffff20" stroke="#ffff20"/>
<polygon points="57.1,312.9 67.3,337.6 73.7,310" fill="#00c5ff" stroke="#00c5ff"/>
<polygon points="101.7,362.4 120.2,356.2 104.1,335.1" fill="#26ffff" stroke="#26ffff"/>
<polygon points="101.7,362.4 80.7,360.8 97,382" fill="#00e4ff" stroke="#00e4ff"/>
<polygon points="115.9,401 137.1,417.2 141.1,400.1" fill="#00e4ff" stroke="#00e4ff"/>
<polygon points="117,379.5 115.9,401 141.1,400.1" fill="#00f4ff" stroke="#00f4ff"/>
<polygon points="115.9,401 117,379.5 97,382" fill="#00e9ff" stroke="#00e9ff"/>
<polygon points="117,379.5 101.7,362.4 97,382" fill="#00f4ff" stroke="#00f4ff"/>
<polygon points="101.7,362.4 117,379.5 120.2,356.2" fill="#10ffff" stroke="#10ffff"/>
<polygon points="162.2,123.4 182.7,110.6 160.2,104" fill="#9dffff" stroke="#9dffff"/>
<polygon points="143.6,116.2 162.2,123.4 160.2,104" fill="#73ffff" stroke="#73ffff"/>
<polygon points="126.5,159.2 118.9,137.6 107,156.2" fill="#6dffff" stroke="#6dffff"/>
<polygon points="118.9,137.6 102.8,131.8 107,156.2" fill="#26ffff" stroke="#26ffff"/>
<polygon points="102.8,131.8 97,112.4 80.7,133.6" fill="#00e5ff" stroke="#00e5ff"/>
<polygon points="169.4,186 148.3,186.4 157.4,205.1" fill="#fff800" stroke="#fff800"/>
<polygon points="260,198.2 288.4,211.9 286.8,189.5" fill="#ba0000" stroke="#ba0000"/>
<polygon points="133.6,232.7 136.8,211.3 119.8,207.1" fill="#ffff7e" stroke="#ffff7e"/>
<polygon points="148.3,186.4 136.8,211.3 157.4,205.1" fill="#ffff25" stroke="#ffff25"/>
<polygon points="136.8,211.3 129.9,184.5 119.8,207.1" fill="#ffffa5" stroke="#ffffa5"/>
<polygon points="136.8,211.3 148.3,186.4 129.9,184.5" fill="#ffff7d" stroke="#ffff7d"/>
<polygon points="290.6,447.8 266.2,434.4 264.1,451.3" fill="#00a9ff" stroke="#00a9ff"/>
<polygon points="266.2,434.4 261.3,416.6 240.5,418.5" fill="#0fffff" stroke="#0fffff"/>
<polygon points="266.2,434.4 237.4,451.3 264.1,451.3" fill="#00a6ff" stroke="#00a6ff"/>
<polygon points="335.8,261.5 318.5,256.8 326,286.6" fill="#ff2a00" stroke="#ff2a00"/>
<polygon points="318.5,256.8 318.1,232.5 299.3,233" fill="#d10000" stroke="#d10000"/>
<polygon points="339.6,351.6 357.8,356.3 356.9,334.3" fill="#ffffea" stroke="#ffffea"/>
<polygon points="316.5,386.4 315.2,368.4 288.3,379.1" fill="#ffffeb" stroke="#ffffeb"/>
<polygon points="315.2,368.4 339.6,351.6 313.7,349" fill="#ffffa8" stroke="#ffffa8"/>
<polygon points="316.5,386.4 316.5,404 342.2,391.5" fill="#6bffff" stroke="#6bffff"/>
<polygon points="311.9,328 293.1,340.3 313.7,349" fill="#fff800" stroke="#fff800"/>
<polygon points="264.3,364.6 264,383.1 288.3,379.1" fill="#ffffa4" stroke="#ffffa4"/>
<polygon points="166.3,232.8 176.1,205.1 157.4,205.1" fill="#ff8400" stroke="#ff8400"/>
<polygon points="176.1,205.1 169.4,186 157.4,205.1" fill="#ffad00" stroke="#ffad00"/>
<polygon points="157.1,286.1 166.6,261.9 148.5,257.3" fill="#ffaa00" stroke="#ffaa00"/>
<polygon points="183.4,231.9 200.9,236.1 194.6,207.7" fill="#d20000" stroke="#d20000"/>
<polygon points="176.1,205.1 183.4,231.9 194.6,207.7" fill="#ff0100" stroke="#ff0100"/>
<polygon points="183.4,231.9 176.1,205.1 166.3,232.8" fill="#ff2c00" stroke="#ff2c00"/>
<polygon points="213.4,210.9 215.3,189 194.6,207.7" fill="#d20000" stroke="#d20000"/>
<polygon points="215.3,189 213.4,210.9 239.1,197.9" fill="#bd0000" stroke="#bd0000"/>
<polygon points="202.9,261.7 217.7,257.5 200.9,236.1" fill="#9a0000" stroke="#9a0000"/>
<polygon points="217.7,257.5 220.5,231.7 200.9,236.1" fill="#8c0000" stroke="#8c0000"/>
<polygon points="212.6,280.8 217.7,257.5 202.9,261.7" fill="#9b0000" stroke="#9b0000"/>
<polygon points="238.7,235.1 217.7,257.5 238.7,259.3" fill="#6b0000" stroke="#6b0000"/>
<polygon points="220.5,231.7 217.7,257.5 238.7,235.1" fill="#760000" stroke="#760000"/>
<polygon points="262.8,259.3 262.8,235.1 250.8,247.2" fill="#5e0000" stroke="#5e0000"/>
<polygon points="238.7,259.3 262.8,259.3 250.8,247.2" fill="#5e0000" stroke="#5e0000"/>
<polygon points="264.8,295.6 264.4,278.3 240.8,297.8" fill="#990000" stroke="#990000"/>
<polygon points="261.9,315.5 264.8,295.6 240.8,297.8" fill="#be0000" stroke="#be0000"/>
<polygon points="264.8,295.6 261.9,315.5 286.8,306" fill="#d20000" stroke="#d20000"/>
<polygon points="261.9,348.4 237.7,331.4 235.8,347.5" fill="#ffa700" stroke="#ffa700"/>
<polygon points="163.7,373.2 162.6,350.2 139.8,354.2" fill="#f1ffff" stroke="#f1ffff"/>
<polygon points="161.2,411.5 158.9,391.7 141.1,400.1" fill="#0affff" stroke="#0affff"/>
<polygon points="161.2,411.5 137.1,417.2 160.3,430.6" fill="#00d8ff" stroke="#00d8ff"/>
<polygon points="137.1,417.2 161.2,411.5 141.1,400.1" fill="#00ebff" stroke="#00ebff"/>
<polygon points="390.8,310.4 374.4,336.3 393.5,338.3" fill="#9cffff" stroke="#9cffff"/>
<polygon points="374.4,336.3 377.2,359.8 393.5,338.3" fill="#73ffff" stroke="#73ffff"/>
<polygon points="357.8,356.3 374.4,336.3 356.9,334.3" fill="#f0ffff" stroke="#f0ffff"/>
<polygon points="374.4,336.3 357.8,356.3 377.2,359.8" fill="#9dffff" stroke="#9dffff"/>
<polygon points="408.4,313.6 390.8,310.4 393.5,338.3" fill="#6dffff" stroke="#6dffff"/>
<polygon points="377.2,359.8 403.4,357 393.5,338.3" fill="#2cffff" stroke="#2cffff"/>
<polygon points="420.8,360.8 403.4,357 404.5,382" fill="#00e4ff" stroke="#00e4ff"/>
<polygon points="403.4,357 381,380.5 404.5,382" fill="#00f6ff" stroke="#00f6ff"/>
<polygon points="381,380.5 403.4,357 377.2,359.8" fill="#13ffff" stroke="#13ffff"/>
<polygon points="408.4,313.6 414.6,340.7 427.2,309.8" fill="#01ffff" stroke="#01ffff"/>
<polygon points="414.6,340.7 408.4,313.6 393.5,338.3" fill="#22ffff" stroke="#22ffff"/>
<polygon points="403.4,357 414.6,340.7 393.5,338.3" fill="#0bffff" stroke="#0bffff"/>
<polygon points="414.6,340.7 403.4,357 420.8,360.8" fill="#00eaff" stroke="#00eaff"/>
<polygon points="212.4,63.4 185,53.6 188.5,69.6" fill="#00cbff" stroke="#00cbff"/>
<polygon points="212.4,63.4 210.9,46.6 185,53.6" fill="#00b4ff" stroke="#00b4ff"/>
<polygon points="185.4,147.4 188.4,166.9 212.8,152.3" fill="#fff600" stroke="#fff600"/>
<polygon points="210.5,117.8 238.9,128 237.1,112.3" fill="#ffffa2" stroke="#ffffa2"/>
<polygon points="182.7,110.6 188.6,89.1 160.2,104" fill="#72ffff" stroke="#72ffff"/>
<polygon points="159.3,84.5 188.6,89.1 188.5,69.6" fill="#02ffff" stroke="#02ffff"/>
<polygon points="188.6,89.1 159.3,84.5 160.2,104" fill="#29ffff" stroke="#29ffff"/>
<polygon points="382.9,114 404.5,112.4 385.6,93.4" fill="#00e9ff" stroke="#00e9ff"/>
<polygon points="382.9,114 361.5,117.9 378.8,133" fill="#28ffff" stroke="#28ffff"/>
<polygon points="377.2,158.4 401.3,135.5 378.8,133" fill="#46ffff" stroke="#46ffff"/>
<polygon points="401.3,135.5 382.9,114 378.8,133" fill="#11ffff" stroke="#11ffff"/>
<polygon points="382.9,114 401.3,135.5 404.5,112.4" fill="#00f5ff" stroke="#00f5ff"/>
<polygon points="361.9,206.1 346.4,211.1 351.9,235.1" fill="#fff500" stroke="#fff500"/>
<polygon points="387.9,180.6 377.2,158.4 372.6,185.2" fill="#edffff" stroke="#edffff"/>
<polygon points="377.2,158.4 355.3,159.7 372.6,185.2" fill="#ffffe9" stroke="#ffffe9"/>
<polygon points="358.9,138.9 355.3,159.7 377.2,158.4" fill="#edffff" stroke="#edffff"/>
<polygon points="336.7,166.2 355.3,159.7 340.6,143.9" fill="#ffffa4" stroke="#ffffa4"/>
<polygon points="355.3,159.7 358.9,138.9 340.6,143.9" fill="#ffffe9" stroke="#ffffe9"/>
<polygon points="436.7,231 417.1,207.3 419.9,237.3" fill="#18ffff" stroke="#18ffff"/>
<polygon points="436.7,231 438.6,257.7 454.8,233.8" fill="#00baff" stroke="#00baff"/>
<polygon points="436.7,231 419.9,237.3 438.6,257.7" fill="#00eeff" stroke="#00eeff"/>
<polygon points="358.9,138.9 337.5,119.8 340.6,143.9" fill="#edffff" stroke="#edffff"/>
<polygon points="361.5,117.9 337.5,119.8 358.9,138.9" fill="#96ffff" stroke="#96ffff"/>
<polygon points="337.5,119.8 361.5,117.9 338.9,102" fill="#6dffff" stroke="#6dffff"/>
<polygon points="317.2,110.1 337.5,119.8 338.9,102" fill="#97ffff" stroke="#97ffff"/>
<polygon points="286.5,170.7 286.8,189.5 312,189.4" fill="#ff2200" stroke="#ff2200"/>
<polygon points="311.5,164.8 286.5,170.7 312,189.4" fill="#ff7c00" stroke="#ff7c00"/>
<polygon points="288.4,211.9 282,236.5 299.3,233" fill="#9a0000" stroke="#9a0000"/>
<polygon points="262.8,259.3 282,236.5 262.8,235.1" fill="#6a0000" stroke="#6a0000"/>
<polygon points="286.8,189.5 306.3,207 312,189.4" fill="#fd0000" stroke="#fd0000"/>
<polygon points="288.4,211.9 306.3,207 286.8,189.5" fill="#d20000" stroke="#d20000"/>
<polygon points="306.3,207 288.4,211.9 299.3,233" fill="#be0000" stroke="#be0000"/>
<polygon points="318.1,232.5 306.3,207 299.3,233" fill="#d10000" stroke="#d10000"/>
<polygon points="112.7,311.1 93.2,313.6 104.1,335.1" fill="#6cffff" stroke="#6cffff"/>
<polygon points="93.2,313.6 86.2,287.5 73.7,310" fill="#1bffff" stroke="#1bffff"/>
<polygon points="85.3,335.4 93.2,313.6 73.7,310" fill="#00ffff" stroke="#00ffff"/>
<polygon points="67.3,337.6 85.3,335.4 73.7,310" fill="#00dcff" stroke="#00dcff"/>
<polygon points="93.2,313.6 85.3,335.4 104.1,335.1" fill="#20ffff" stroke="#20ffff"/>
<polygon points="85.3,335.4 67.3,337.6 80.7,360.8" fill="#00d7ff" stroke="#00d7ff"/>
<polygon points="85.3,335.4 101.7,362.4 104.1,335.1" fill="#0bffff" stroke="#0bffff"/>
<polygon points="101.7,362.4 85.3,335.4 80.7,360.8" fill="#00ecff" stroke="#00ecff"/>
<polygon points="138.9,375.3 117,379.5 141.1,400.1" fill="#11ffff" stroke="#11ffff"/>
<polygon points="138.9,375.3 163.7,373.2 139.8,354.2" fill="#97ffff" stroke="#97ffff"/>
<polygon points="120.2,356.2 138.9,375.3 139.8,354.2" fill="#6dffff" stroke="#6dffff"/>
<polygon points="117,379.5 138.9,375.3 120.2,356.2" fill="#2bffff" stroke="#2bffff"/>
<polygon points="158.9,391.7 138.9,375.3 141.1,400.1" fill="#26ffff" stroke="#26ffff"/>
<polygon points="163.7,373.2 138.9,375.3 158.9,391.7" fill="#6cffff" stroke="#6cffff"/>
<polygon points="237.4,451.3 234.3,434.2 210.9,447.8" fill="#00a9ff" stroke="#00a9ff"/>
<polygon points="234.3,434.2 266.2,434.4 240.5,418.5" fill="#00ebff" stroke="#00ebff"/>
<polygon points="266.2,434.4 234.3,434.2 237.4,451.3" fill="#00baff" stroke="#00baff"/>
<polygon points="63,230.1 50.2,207.3 46.7,233.8" fill="#00a8ff" stroke="#00a8ff"/>
<polygon points="63.9,263.9 63,230.1 46.7,233.8" fill="#00b9ff" stroke="#00b9ff"/>
<polygon points="50.2,207.3 69.2,205.8 57.1,181.5" fill="#00b6ff" stroke="#00b6ff"/>
<polygon points="69.2,205.8 63,230.1 84.6,207.6" fill="#00f1ff" stroke="#00f1ff"/>
<polygon points="63,230.1 69.2,205.8 50.2,207.3" fill="#00c1ff" stroke="#00c1ff"/>
<polygon points="85.9,159.1 91.6,183.8 107,156.2" fill="#23ffff" stroke="#23ffff"/>
<polygon points="102.8,131.8 85.9,159.1 107,156.2" fill="#0dffff" stroke="#0dffff"/>
<polygon points="85.9,159.1 102.8,131.8 80.7,133.6" fill="#00edff" stroke="#00edff"/>
<polygon points="91.6,183.8 112.3,182.3 107,156.2" fill="#6dffff" stroke="#6dffff"/>
<polygon points="112.3,182.3 126.5,159.2 107,156.2" fill="#9bffff" stroke="#9bffff"/>
<polygon points="126.5,159.2 112.3,182.3 129.9,184.5" fill="#f4ffff" stroke="#f4ffff"/>
<polygon points="129.9,184.5 112.3,182.3 119.8,207.1" fill="#ffffe7" stroke="#ffffe7"/>
<polygon points="141.4,96.3 137.1,77.2 115.9,93.4" fill="#00e5ff" stroke="#00e5ff"/>
<polygon points="141.4,96.3 143.6,116.2 160.2,104" fill="#2effff" stroke="#2effff"/>
<polygon points="159.3,84.5 141.4,96.3 160.2,104" fill="#0effff" stroke="#0effff"/>
<polygon points="141.4,96.3 159.3,84.5 137.1,77.2" fill="#00eeff" stroke="#00eeff"/>
<polygon points="126.5,159.2 143.2,136.6 118.9,137.6" fill="#94ffff" stroke="#94ffff"/>
<polygon points="143.2,136.6 143.6,116.2 118.9,137.6" fill="#6cffff" stroke="#6cffff"/>
<polygon points="162.2,123.4 143.2,136.6 164.1,143.1" fill="#f1ffff" stroke="#f1ffff"/>
<polygon points="143.6,116.2 143.2,136.6 162.2,123.4" fill="#99ffff" stroke="#99ffff"/>
<polygon points="97,112.4 117,115.8 115.9,93.4" fill="#00e9ff" stroke="#00e9ff"/>
<polygon points="143.6,116.2 117,115.8 118.9,137.6" fill="#2cffff" stroke="#2cffff"/>
<polygon points="117,115.8 102.8,131.8 118.9,137.6" fill="#10ffff" stroke="#10ffff"/>
<polygon points="102.8,131.8 117,115.8 97,112.4" fill="#00f5ff" stroke="#00f5ff"/>
<polygon points="117,115.8 141.4,96.3 115.9,93.4" fill="#00f6ff" stroke="#00f6ff"/>
<polygon points="141.4,96.3 117,115.8 143.6,116.2" fill="#14ffff" stroke="#14ffff"/>
<polygon points="169.4,186 168.3,160.9 148.3,186.4" fill="#ffff22" stroke="#ffff22"/>
<polygon points="168.3,160.9 169.4,186 188.4,166.9" fill="#fff600" stroke="#fff600"/>
<polygon points="168.3,160.9 185.4,147.4 164.1,143.1" fill="#ffff7d" stroke="#ffff7d"/>
<polygon points="185.4,147.4 168.3,160.9 188.4,166.9" fill="#ffff25" stroke="#ffff25"/>
<polygon points="267.4,180.1 260,198.2 286.8,189.5" fill="#d10000" stroke="#d10000"/>
<polygon points="267.4,180.1 286.5,170.7 265.5,164.2" fill="#ff2900" stroke="#ff2900"/>
<polygon points="286.5,170.7 267.4,180.1 286.8,189.5" fill="#ff0000" stroke="#ff0000"/>
<polygon points="260,198.2 263.5,214.8 288.4,211.9" fill="#990000" stroke="#990000"/>
<polygon points="282,236.5 263.5,214.8 262.8,235.1" fill="#760000" stroke="#760000"/>
<polygon points="263.5,214.8 282,236.5 288.4,211.9" fill="#8b0000" stroke="#8b0000"/>
<polygon points="149.6,233 136.8,211.3 133.6,232.7" fill="#ffff23" stroke="#ffff23"/>
<polygon points="149.6,233 133.6,232.7 148.5,257.3" fill="#fff600" stroke="#fff600"/>
<polygon points="166.3,232.8 149.6,233 148.5,257.3" fill="#ffac00" stroke="#ffac00"/>
<polygon points="149.6,233 166.3,232.8 157.4,205.1" fill="#ffab00" stroke="#ffab00"/>
<polygon points="136.8,211.3 149.6,233 157.4,205.1" fill="#fff800" stroke="#fff800"/>
<polygon points="101.9,211 91.6,183.8 84.6,207.6" fill="#69ffff" stroke="#69ffff"/>
<polygon points="112.3,182.3 101.9,211 119.8,207.1" fill="#f0ffff" stroke="#f0ffff"/>
<polygon points="101.9,211 112.3,182.3 91.6,183.8" fill="#96ffff" stroke="#96ffff"/>
<polygon points="131.7,262.1 115.6,261.7 120.6,288.3" fill="#ffffa5" stroke="#ffffa5"/>
<polygon points="133.6,232.7 131.7,262.1 148.5,257.3" fill="#ffff23" stroke="#ffff23"/>
<polygon points="346.4,211.1 335.2,231.4 351.9,235.1" fill="#ffac00" stroke="#ffac00"/>
<polygon points="335.2,231.4 335.8,261.5 351.9,235.1" fill="#ff8300" stroke="#ff8300"/>
<polygon points="335.2,231.4 318.5,256.8 335.8,261.5" fill="#ff2c00" stroke="#ff2c00"/>
<polygon points="318.5,256.8 335.2,231.4 318.1,232.5" fill="#ff0100" stroke="#ff0100"/>
<polygon points="318.5,256.8 308.9,284.9 326,286.6" fill="#fe0000" stroke="#fe0000"/>
<polygon points="311.8,305.6 308.9,284.9 286.8,306" fill="#fe0000" stroke="#fe0000"/>
<polygon points="308.9,284.9 311.8,305.6 326,286.6" fill="#ff2b00" stroke="#ff2b00"/>
<polygon points="361.9,375.5 381,380.5 377.2,359.8" fill="#30ffff" stroke="#30ffff"/>
<polygon points="357.8,356.3 361.9,375.5 377.2,359.8" fill="#71ffff" stroke="#71ffff"/>
<polygon points="361.9,375.5 361.4,397.3 381,380.5" fill="#14ffff" stroke="#14ffff"/>
<polygon points="361.4,397.3 361.9,375.5 342.2,391.5" fill="#2bffff" stroke="#2bffff"/>
<polygon points="315.2,368.4 340.6,372.7 339.6,351.6" fill="#ffffec" stroke="#ffffec"/>
<polygon points="361.9,375.5 340.6,372.7 342.2,391.5" fill="#6bffff" stroke="#6bffff"/>
<polygon points="340.6,372.7 316.5,386.4 342.2,391.5" fill="#91ffff" stroke="#91ffff"/>
<polygon points="340.6,372.7 315.2,368.4 316.5,386.4" fill="#e9ffff" stroke="#e9ffff"/>
<polygon points="340.6,372.7 357.8,356.3 339.6,351.6" fill="#ebffff" stroke="#ebffff"/>
<polygon points="340.6,372.7 361.9,375.5 357.8,356.3" fill="#96ffff" stroke="#96ffff"/>
<polygon points="264.3,364.6 291.5,360.2 261.9,348.4" fill="#ffff22" stroke="#ffff22"/>
<polygon points="291.5,360.2 293.1,340.3 261.9,348.4" fill="#fff700" stroke="#fff700"/>
<polygon points="291.5,360.2 264.3,364.6 288.3,379.1" fill="#ffff7f" stroke="#ffff7f"/>
<polygon points="315.2,368.4 291.5,360.2 288.3,379.1" fill="#ffffa9" stroke="#ffffa9"/>
<polygon points="291.5,360.2 315.2,368.4 313.7,349" fill="#ffff84" stroke="#ffff84"/>
<polygon points="293.1,340.3 291.5,360.2 313.7,349" fill="#ffff29" stroke="#ffff29"/>
<polygon points="289.1,322 293.1,340.3 311.9,328" fill="#ffa800" stroke="#ffa800"/>
<polygon points="289.1,322 311.8,305.6 286.8,306" fill="#ff2600" stroke="#ff2600"/>
<polygon points="311.8,305.6 289.1,322 311.9,328" fill="#ff7a00" stroke="#ff7a00"/>
<polygon points="261.9,315.5 289.1,322 286.8,306" fill="#fe0000" stroke="#fe0000"/>
<polygon points="157.1,286.1 174.5,286.2 166.6,261.9" fill="#ff8200" stroke="#ff8200"/>
<polygon points="174.5,286.2 183.6,259.7 166.6,261.9" fill="#ff2b00" stroke="#ff2b00"/>
<polygon points="166.6,261.9 183.6,259.7 166.3,232.8" fill="#ff2900" stroke="#ff2900"/>
<polygon points="183.6,259.7 183.4,231.9 166.3,232.8" fill="#ff0000" stroke="#ff0000"/>
<polygon points="183.6,259.7 202.9,261.7 200.9,236.1" fill="#bc0000" stroke="#bc0000"/>
<polygon points="183.4,231.9 183.6,259.7 200.9,236.1" fill="#d10000" stroke="#d10000"/>
<polygon points="237.9,278.5 212.6,280.8 240.8,297.8" fill="#990000" stroke="#990000"/>
<polygon points="264.4,278.3 237.9,278.5 240.8,297.8" fill="#8b0000" stroke="#8b0000"/>
<polygon points="217.7,257.5 237.9,278.5 238.7,259.3" fill="#770000" stroke="#770000"/>
<polygon points="237.9,278.5 217.7,257.5 212.6,280.8" fill="#8b0000" stroke="#8b0000"/>
<polygon points="237.9,278.5 262.8,259.3 238.7,259.3" fill="#6a0000" stroke="#6a0000"/>
<polygon points="262.8,259.3 237.9,278.5 264.4,278.3" fill="#750000" stroke="#750000"/>
<polygon points="212.6,280.8 215,304.3 240.8,297.8" fill="#ba0000" stroke="#ba0000"/>
<polygon points="215.3,189 190.7,187.7 194.6,207.7" fill="#fd0000" stroke="#fd0000"/>
<polygon points="169.4,186 190.7,187.7 188.4,166.9" fill="#ffa700" stroke="#ffa700"/>
<polygon points="190.7,187.7 176.1,205.1 194.6,207.7" fill="#ff2c00" stroke="#ff2c00"/>
<polygon points="176.1,205.1 190.7,187.7 169.4,186" fill="#ff8200" stroke="#ff8200"/>
<polygon points="188.4,166.9 210,171 212.8,152.3" fill="#ffac00" stroke="#ffac00"/>
<polygon points="190.7,187.7 210,171 188.4,166.9" fill="#ff8200" stroke="#ff8200"/>
<polygon points="210,171 190.7,187.7 215.3,189" fill="#ff2b00" stroke="#ff2b00"/>
<polygon points="237.9,314.8 261.9,315.5 240.8,297.8" fill="#d40000" stroke="#d40000"/>
<polygon points="237.9,314.8 237.7,331.4 261.9,315.5" fill="#ff0100" stroke="#ff0100"/>
<polygon points="215,304.3 237.9,314.8 240.8,297.8" fill="#d10000" stroke="#d10000"/>
<polygon points="186.9,326.5 209.4,321.7 188.7,305.8" fill="#ff8200" stroke="#ff8200"/>
<polygon points="209.4,321.7 215,304.3 188.7,305.8" fill="#ff2800" stroke="#ff2800"/>
<polygon points="237.9,314.8 209.4,321.7 237.7,331.4" fill="#ff2800" stroke="#ff2800"/>
<polygon points="209.4,321.7 237.9,314.8 215,304.3" fill="#fd0000" stroke="#fd0000"/>
<polygon points="163.7,373.2 189.5,367.7 162.6,350.2" fill="#ffffe2" stroke="#ffffe2"/>
<polygon points="371.5,311.2 374.4,336.3 390.8,310.4" fill="#f1ffff" stroke="#f1ffff"/>
<polygon points="374.4,336.3 371.5,311.2 356.9,334.3" fill="#ffffe8" stroke="#ffffe8"/>
<polygon points="371.5,311.2 352.4,307.6 356.9,334.3" fill="#ffffa5" stroke="#ffffa5"/>
<polygon points="345.2,289.5 335.8,261.5 326,286.6" fill="#ff8600" stroke="#ff8600"/>
<polygon points="334,307.2 311.8,305.6 311.9,328" fill="#ffa700" stroke="#ffa700"/>
<polygon points="311.8,305.6 334,307.2 326,286.6" fill="#ff8200" stroke="#ff8200"/>
<polygon points="334,307.2 345.2,289.5 326,286.6" fill="#ffb000" stroke="#ffb000"/>
<polygon points="345.2,289.5 334,307.2 352.4,307.6" fill="#fffb00" stroke="#fffb00"/>
<polygon points="404.6,256.9 419.9,237.3 402.3,232.6" fill="#9affff" stroke="#9affff"/>
<polygon points="434.2,337.6 444.4,312.9 427.2,309.8" fill="#00c5ff" stroke="#00c5ff"/>
<polygon points="414.6,340.7 434.2,337.6 427.2,309.8" fill="#00ddff" stroke="#00ddff"/>
<polygon points="434.2,337.6 414.6,340.7 420.8,360.8" fill="#00d7ff" stroke="#00d7ff"/>
<polygon points="210.5,117.8 209.5,135.6 238.9,128" fill="#ffff7b" stroke="#ffff7b"/>
<polygon points="239.3,144.8 209.5,135.6 212.8,152.3" fill="#fff800" stroke="#fff800"/>
<polygon points="238.9,128 209.5,135.6 239.3,144.8" fill="#ffff25" stroke="#ffff25"/>
<polygon points="209.5,135.6 185.4,147.4 212.8,152.3" fill="#ffff23" stroke="#ffff23"/>
<polygon points="213.1,98.4 210.5,117.8 237.1,112.3" fill="#ffffe4" stroke="#ffffe4"/>
<polygon points="210.5,117.8 213.1,98.4 182.7,110.6" fill="#f5ffff" stroke="#f5ffff"/>
<polygon points="213.1,98.4 188.6,89.1 182.7,110.6" fill="#9bffff" stroke="#9bffff"/>
<polygon points="185,53.6 160.3,63.8 188.5,69.6" fill="#00c5ff" stroke="#00c5ff"/>
<polygon points="160.3,63.8 159.3,84.5 188.5,69.6" fill="#00deff" stroke="#00deff"/>
<polygon points="159.3,84.5 160.3,63.8 137.1,77.2" fill="#00d9ff" stroke="#00d9ff"/>
<polygon points="434.2,156.8 420.8,133.6 416.2,157.9" fill="#00d7ff" stroke="#00d7ff"/>
<polygon points="420.8,133.6 401.3,135.5 416.2,157.9" fill="#00ecff" stroke="#00ecff"/>
<polygon points="401.3,135.5 420.8,133.6 404.5,112.4" fill="#00e5ff" stroke="#00e5ff"/>
<polygon points="368.1,233.3 361.9,206.1 351.9,235.1" fill="#ffff1d" stroke="#ffff1d"/>
<polygon points="361.9,206.1 352.5,182.9 346.4,211.1" fill="#ffff25" stroke="#ffff25"/>
<polygon points="352.5,182.9 361.9,206.1 372.6,185.2" fill="#ffff81" stroke="#ffff81"/>
<polygon points="355.3,159.7 352.5,182.9 372.6,185.2" fill="#ffffa7" stroke="#ffffa7"/>
<polygon points="352.5,182.9 355.3,159.7 336.7,166.2" fill="#ffff7f" stroke="#ffff7f"/>
<polygon points="387.9,180.6 398.4,160.8 377.2,158.4" fill="#93ffff" stroke="#93ffff"/>
<polygon points="401.3,135.5 398.4,160.8 416.2,157.9" fill="#0affff" stroke="#0affff"/>
<polygon points="398.4,160.8 401.3,135.5 377.2,158.4" fill="#45ffff" stroke="#45ffff"/>
<polygon points="398.4,160.8 407.6,181.1 416.2,157.9" fill="#20ffff" stroke="#20ffff"/>
<polygon points="407.6,181.1 398.4,160.8 387.9,180.6" fill="#6dffff" stroke="#6dffff"/>
<polygon points="417.1,207.3 399.2,210.4 402.3,232.6" fill="#98ffff" stroke="#98ffff"/>
<polygon points="407.6,181.1 399.2,210.4 417.1,207.3" fill="#6dffff" stroke="#6dffff"/>
<polygon points="399.2,210.4 407.6,181.1 387.9,180.6" fill="#9cffff" stroke="#9cffff"/>
<polygon points="436.7,231 433.7,208.1 417.1,207.3" fill="#00f2ff" stroke="#00f2ff"/>
<polygon points="341.2,63.8 316.5,53.6 319.6,73.2" fill="#00c7ff" stroke="#00c7ff"/>
<polygon points="344.3,83.5 341.2,63.8 319.6,73.2" fill="#00deff" stroke="#00deff"/>
<polygon points="341.2,63.8 344.3,83.5 364.4,77.2" fill="#00d7ff" stroke="#00d7ff"/>
<polygon points="344.3,83.5 360.6,95.1 364.4,77.2" fill="#00ebff" stroke="#00ebff"/>
<polygon points="364.4,77.2 360.6,95.1 385.6,93.4" fill="#00e4ff" stroke="#00e4ff"/>
<polygon points="361.5,117.9 360.6,95.1 338.9,102" fill="#2affff" stroke="#2affff"/>
<polygon points="360.6,95.1 344.3,83.5 338.9,102" fill="#0bffff" stroke="#0bffff"/>
<polygon points="360.6,95.1 382.9,114 385.6,93.4" fill="#00f5ff" stroke="#00f5ff"/>
<polygon points="382.9,114 360.6,95.1 361.5,117.9" fill="#11ffff" stroke="#11ffff"/>
<polygon points="235,61.4 237.4,43.1 210.9,46.6" fill="#00aaff" stroke="#00aaff"/>
<polygon points="212.4,63.4 235,61.4 210.9,46.6" fill="#00c1ff" stroke="#00c1ff"/>
<polygon points="289.8,116.7 315.8,126.5 317.2,110.1" fill="#ffffe6" stroke="#ffffe6"/>
<polygon points="315.8,126.5 337.5,119.8 317.2,110.1" fill="#edffff" stroke="#edffff"/>
<polygon points="315.8,126.5 311.7,144.9 340.6,143.9" fill="#ffffa6" stroke="#ffffa6"/>
<polygon points="337.5,119.8 315.8,126.5 340.6,143.9" fill="#ffffeb" stroke="#ffffeb"/>
<polygon points="238.9,128 261,111.8 237.1,112.3" fill="#ffffa3" stroke="#ffffa3"/>
<polygon points="290.7,98.2 289.8,116.7 317.2,110.1" fill="#f1ffff" stroke="#f1ffff"/>
<polygon points="290.7,98.2 261,111.8 289.8,116.7" fill="#ffffe7" stroke="#ffffe7"/>
<polygon points="286.5,170.7 287.7,150.7 265.5,164.2" fill="#ff8200" stroke="#ff8200"/>
<polygon points="287.7,150.7 311.5,164.8 311.7,144.9" fill="#fffa00" stroke="#fffa00"/>
<polygon points="287.7,150.7 286.5,170.7 311.5,164.8" fill="#ffac00" stroke="#ffac00"/>
<polygon points="50.2,287.1 66.7,285.4 63.9,263.9" fill="#00bfff" stroke="#00bfff"/>
<polygon points="86.2,287.5 66.7,285.4 73.7,310" fill="#00f6ff" stroke="#00f6ff"/>
<polygon points="66.7,285.4 57.1,312.9 73.7,310" fill="#00cbff" stroke="#00cbff"/>
<polygon points="66.7,285.4 50.2,287.1 57.1,312.9" fill="#00b4ff" stroke="#00b4ff"/>
<polygon points="91.6,183.8 76.3,179.5 84.6,207.6" fill="#19ffff" stroke="#19ffff"/>
<polygon points="76.3,179.5 69.2,205.8 84.6,207.6" fill="#00f8ff" stroke="#00f8ff"/>
<polygon points="69.2,205.8 76.3,179.5 57.1,181.5" fill="#00d0ff" stroke="#00d0ff"/>
<polygon points="85.9,159.1 76.3,179.5 91.6,183.8" fill="#01ffff" stroke="#01ffff"/>
<polygon points="67.3,156.8 85.9,159.1 80.7,133.6" fill="#00d8ff" stroke="#00d8ff"/>
<polygon points="76.3,179.5 67.3,156.8 57.1,181.5" fill="#00c7ff" stroke="#00c7ff"/>
<polygon points="67.3,156.8 76.3,179.5 85.9,159.1" fill="#00deff" stroke="#00deff"/>
<polygon points="168.3,160.9 146.2,158.2 148.3,186.4" fill="#ffff7f" stroke="#ffff7f"/>
<polygon points="148.3,186.4 146.2,158.2 129.9,184.5" fill="#ffffa5" stroke="#ffffa5"/>
<polygon points="146.2,158.2 126.5,159.2 129.9,184.5" fill="#ffffe6" stroke="#ffffe6"/>
<polygon points="146.2,158.2 143.2,136.6 126.5,159.2" fill="#edffff" stroke="#edffff"/>
<polygon points="143.2,136.6 146.2,158.2 164.1,143.1" fill="#ffffea" stroke="#ffffea"/>
<polygon points="146.2,158.2 168.3,160.9 164.1,143.1" fill="#ffffa5" stroke="#ffffa5"/>
<polygon points="238.6,216.4 260,198.2 239.1,197.9" fill="#980000" stroke="#980000"/>
<polygon points="238.6,216.4 263.5,214.8 260,198.2" fill="#8b0000" stroke="#8b0000"/>
<polygon points="238.6,216.4 220.5,231.7 238.7,235.1" fill="#770000" stroke="#770000"/>
<polygon points="238.6,216.4 238.7,235.1 262.8,235.1" fill="#6a0000" stroke="#6a0000"/>
<polygon points="263.5,214.8 238.6,216.4 262.8,235.1" fill="#750000" stroke="#750000"/>
<polygon points="213.4,210.9 238.6,216.4 239.1,197.9" fill="#9a0000" stroke="#9a0000"/>
<polygon points="220.5,231.7 238.6,216.4 213.4,210.9" fill="#8c0000" stroke="#8c0000"/>
<polygon points="364.4,417.2 342.9,411 341.2,430.6" fill="#00d8ff" stroke="#00d8ff"/>
<polygon points="316.5,404 342.9,411 342.2,391.5" fill="#22ffff" stroke="#22ffff"/>
<polygon points="342.9,411 361.4,397.3 342.2,391.5" fill="#0cffff" stroke="#0cffff"/>
<polygon points="361.4,397.3 342.9,411 364.4,417.2" fill="#00edff" stroke="#00edff"/>
<polygon points="342.9,411 315.4,422.9 341.2,430.6" fill="#00deff" stroke="#00deff"/>
<polygon points="315.4,422.9 342.9,411 316.5,404" fill="#02ffff" stroke="#02ffff"/>
<polygon points="326.2,209.9 306.3,207 318.1,232.5" fill="#fd0000" stroke="#fd0000"/>
<polygon points="335.2,231.4 326.2,209.9 318.1,232.5" fill="#ff2b00" stroke="#ff2b00"/>
<polygon points="326.2,209.9 335.2,231.4 346.4,211.1" fill="#ff8200" stroke="#ff8200"/>
<polygon points="306.3,207 326.2,209.9 312,189.4" fill="#ff2600" stroke="#ff2600"/>
<polygon points="284,257 262.8,259.3 264.4,278.3" fill="#770000" stroke="#770000"/>
<polygon points="284,257 282,236.5 262.8,259.3" fill="#760000" stroke="#760000"/>
<polygon points="282,236.5 284,257 299.3,233" fill="#8c0000" stroke="#8c0000"/>
<polygon points="361.4,397.3 385.6,401 381,380.5" fill="#00f7ff" stroke="#00f7ff"/>
<polygon points="385.6,401 361.4,397.3 364.4,417.2" fill="#00e5ff" stroke="#00e5ff"/>
<polygon points="381,380.5 385.6,401 404.5,382" fill="#00eaff" stroke="#00eaff"/>
<polygon points="315.4,422.9 316.5,440.8 341.2,430.6" fill="#00c6ff" stroke="#00c6ff"/>
<polygon points="291.1,412.7 315.4,422.9 316.5,404" fill="#1dffff" stroke="#1dffff"/>
<polygon points="291.1,412.7 262,399 261.3,416.6" fill="#72ffff" stroke="#72ffff"/>
<polygon points="293.1,340.3 263.3,332.2 261.9,348.4" fill="#ffa900" stroke="#ffa900"/>
<polygon points="289.1,322 263.3,332.2 293.1,340.3" fill="#ff8000" stroke="#ff8000"/>
<polygon points="263.3,332.2 289.1,322 261.9,315.5" fill="#ff2900" stroke="#ff2900"/>
<polygon points="263.3,332.2 237.7,331.4 261.9,348.4" fill="#ff8200" stroke="#ff8200"/>
<polygon points="237.7,331.4 263.3,332.2 261.9,315.5" fill="#ff2d00" stroke="#ff2d00"/>
<polygon points="192.5,283.2 212.6,280.8 202.9,261.7" fill="#bd0000" stroke="#bd0000"/>
<polygon points="183.6,259.7 192.5,283.2 202.9,261.7" fill="#d00000" stroke="#d00000"/>
<polygon points="192.5,283.2 183.6,259.7 174.5,286.2" fill="#ff0000" stroke="#ff0000"/>
<polygon points="192.5,283.2 174.5,286.2 188.7,305.8" fill="#ff2d00" stroke="#ff2d00"/>
<polygon points="215,304.3 192.5,283.2 188.7,305.8" fill="#fc0000" stroke="#fc0000"/>
<polygon points="192.5,283.2 215,304.3 212.6,280.8" fill="#cf0000" stroke="#cf0000"/>
<polygon points="125.4,336.3 112.7,311.1 104.1,335.1" fill="#97ffff" stroke="#97ffff"/>
<polygon points="125.4,336.3 120.2,356.2 139.8,354.2" fill="#93ffff" stroke="#93ffff"/>
<polygon points="120.2,356.2 125.4,336.3 104.1,335.1" fill="#6bffff" stroke="#6bffff"/>
<polygon points="138.5,287.9 149.8,312.4 157.1,286.1" fill="#ffff25" stroke="#ffff25"/>
<polygon points="138.5,287.9 131.7,262.1 120.6,288.3" fill="#ffff80" stroke="#ffff80"/>
<polygon points="138.5,287.9 157.1,286.1 148.5,257.3" fill="#fff600" stroke="#fff600"/>
<polygon points="131.7,262.1 138.5,287.9 148.5,257.3" fill="#ffff27" stroke="#ffff27"/>
<polygon points="238.1,179.3 215.3,189 239.1,197.9" fill="#d10000" stroke="#d10000"/>
<polygon points="238.1,179.3 210,171 215.3,189" fill="#ff0200" stroke="#ff0200"/>
<polygon points="238.1,179.3 267.4,180.1 265.5,164.2" fill="#fd0000" stroke="#fd0000"/>
<polygon points="260,198.2 238.1,179.3 239.1,197.9" fill="#bd0000" stroke="#bd0000"/>
<polygon points="267.4,180.1 238.1,179.3 260,198.2" fill="#d00000" stroke="#d00000"/>
<polygon points="182.6,420.9 161.2,411.5 160.3,430.6" fill="#00dfff" stroke="#00dfff"/>
<polygon points="189.5,367.7 185.9,347.8 162.6,350.2" fill="#ffffa0" stroke="#ffffa0"/>
<polygon points="185.9,347.8 166.7,332 162.6,350.2" fill="#ffff7e" stroke="#ffff7e"/>
<polygon points="166.7,332 185.9,347.8 186.9,326.5" fill="#ffff26" stroke="#ffff26"/>
<polygon points="188.9,386.3 163.7,373.2 158.9,391.7" fill="#98ffff" stroke="#98ffff"/>
<polygon points="188.9,386.3 189.5,367.7 163.7,373.2" fill="#f6ffff" stroke="#f6ffff"/>
<polygon points="398.1,288 404.6,256.9 387.8,257.4" fill="#eeffff" stroke="#eeffff"/>
<polygon points="408.4,313.6 398.1,288 390.8,310.4" fill="#95ffff" stroke="#95ffff"/>
<polygon points="345.2,289.5 352.6,257.5 335.8,261.5" fill="#ffae00" stroke="#ffae00"/>
<polygon points="335.8,261.5 352.6,257.5 351.9,235.1" fill="#ffac00" stroke="#ffac00"/>
<polygon points="352.6,257.5 368.1,233.3 351.9,235.1" fill="#fff500" stroke="#fff500"/>
<polygon points="336.1,330.1 334,307.2 311.9,328" fill="#fff500" stroke="#fff500"/>
<polygon points="339.6,351.6 336.1,330.1 313.7,349" fill="#ffff7f" stroke="#ffff7f"/>
<polygon points="336.1,330.1 311.9,328 313.7,349" fill="#ffff22" stroke="#ffff22"/>
<polygon points="336.1,330.1 339.6,351.6 356.9,334.3" fill="#ffffa8" stroke="#ffffa8"/>
<polygon points="352.4,307.6 336.1,330.1 356.9,334.3" fill="#ffff7d" stroke="#ffff7d"/>
<polygon points="334,307.2 336.1,330.1 352.4,307.6" fill="#ffff22" stroke="#ffff22"/>
<polygon points="419.9,237.3 419.6,264.1 438.6,257.7" fill="#15ffff" stroke="#15ffff"/>
<polygon points="404.6,256.9 419.6,264.1 419.9,237.3" fill="#6effff" stroke="#6effff"/>
<polygon points="398.1,288 419.6,264.1 404.6,256.9" fill="#99ffff" stroke="#99ffff"/>
<polygon points="209.5,135.6 183.3,127.6 185.4,147.4" fill="#ffff80" stroke="#ffff80"/>
<polygon points="162.2,123.4 183.3,127.6 182.7,110.6" fill="#f1ffff" stroke="#f1ffff"/>
<polygon points="183.3,127.6 210.5,117.8 182.7,110.6" fill="#ffffe5" stroke="#ffffe5"/>
<polygon points="183.3,127.6 209.5,135.6 210.5,117.8" fill="#ffffa4" stroke="#ffffa4"/>
<polygon points="183.3,127.6 162.2,123.4 164.1,143.1" fill="#ffffe5" stroke="#ffffe5"/>
<polygon points="185.4,147.4 183.3,127.6 164.1,143.1" fill="#ffffa5" stroke="#ffffa5"/>
<polygon points="425.2,180.1 407.6,181.1 417.1,207.3" fill="#1cffff" stroke="#1cffff"/>
<polygon points="433.7,208.1 425.2,180.1 417.1,207.3" fill="#00f7ff" stroke="#00f7ff"/>
<polygon points="425.2,180.1 433.7,208.1 444.4,181.5" fill="#00cfff" stroke="#00cfff"/>
<polygon points="407.6,181.1 425.2,180.1 416.2,157.9" fill="#02ffff" stroke="#02ffff"/>
<polygon points="425.2,180.1 434.2,156.8 416.2,157.9" fill="#00deff" stroke="#00deff"/>
<polygon points="425.2,180.1 444.4,181.5 434.2,156.8" fill="#00c7ff" stroke="#00c7ff"/>
<polygon points="368.1,233.3 380.9,208.7 361.9,206.1" fill="#ffff77" stroke="#ffff77"/>
<polygon points="361.9,206.1 380.9,208.7 372.6,185.2" fill="#ffffa3" stroke="#ffffa3"/>
<polygon points="380.9,208.7 387.9,180.6 372.6,185.2" fill="#ffffe5" stroke="#ffffe5"/>
<polygon points="380.9,208.7 399.2,210.4 387.9,180.6" fill="#f6ffff" stroke="#f6ffff"/>
<polygon points="433.7,208.1 451.3,207.3 444.4,181.5" fill="#00b5ff" stroke="#00b5ff"/>
<polygon points="451.3,207.3 436.7,231 454.8,233.8" fill="#00aaff" stroke="#00aaff"/>
<polygon points="451.3,207.3 433.7,208.1 436.7,231" fill="#00c2ff" stroke="#00c2ff"/>
<polygon points="237.4,43.1 263.6,59.7 264.1,43.1" fill="#00a5ff" stroke="#00a5ff"/>
<polygon points="235,61.4 263.6,59.7 237.4,43.1" fill="#00bbff" stroke="#00bbff"/>
<polygon points="263.6,59.7 290.6,46.6 264.1,43.1" fill="#00a9ff" stroke="#00a9ff"/>
<polygon points="240.3,76.2 235,61.4 212.4,63.4" fill="#00eeff" stroke="#00eeff"/>
<polygon points="263.6,59.7 240.3,76.2 266.8,76.7" fill="#0cffff" stroke="#0cffff"/>
<polygon points="240.3,76.2 263.6,59.7 235,61.4" fill="#00ecff" stroke="#00ecff"/>
<polygon points="315.4,90.3 290.7,98.2 317.2,110.1" fill="#99ffff" stroke="#99ffff"/>
<polygon points="315.4,90.3 317.2,110.1 338.9,102" fill="#71ffff" stroke="#71ffff"/>
<polygon points="315.4,90.3 344.3,83.5 319.6,73.2" fill="#03ffff" stroke="#03ffff"/>
<polygon points="344.3,83.5 315.4,90.3 338.9,102" fill="#24ffff" stroke="#24ffff"/>
<polygon points="290.7,80.5 315.4,90.3 319.6,73.2" fill="#1cffff" stroke="#1cffff"/>
<polygon points="315.4,90.3 290.7,80.5 290.7,98.2" fill="#69ffff" stroke="#69ffff"/>
<polygon points="261,111.8 265.9,129.1 289.8,116.7" fill="#ffffa2" stroke="#ffffa2"/>
<polygon points="265.9,129.1 261,111.8 238.9,128" fill="#ffff7d" stroke="#ffff7d"/>
<polygon points="288.7,134.8 287.7,150.7 311.7,144.9" fill="#ffff26" stroke="#ffff26"/>
<polygon points="315.8,126.5 288.7,134.8 311.7,144.9" fill="#ffff7e" stroke="#ffff7e"/>
<polygon points="288.7,134.8 315.8,126.5 289.8,116.7" fill="#ffffa4" stroke="#ffffa4"/>
<polygon points="265.9,129.1 288.7,134.8 289.8,116.7" fill="#ffff7c" stroke="#ffff7c"/>
<polygon points="99.4,263.9 80.6,257.2 86.2,287.5" fill="#72ffff" stroke="#72ffff"/>
<polygon points="66.7,285.4 80.6,257.2 63.9,263.9" fill="#00eeff" stroke="#00eeff"/>
<polygon points="80.6,257.2 66.7,285.4 86.2,287.5" fill="#17ffff" stroke="#17ffff"/>
<polygon points="103.5,288.5 99.4,263.9 86.2,287.5" fill="#9dffff" stroke="#9dffff"/>
<polygon points="103.5,288.5 112.7,311.1 120.6,288.3" fill="#f3ffff" stroke="#f3ffff"/>
<polygon points="115.6,261.7 103.5,288.5 120.6,288.3" fill="#ffffe6" stroke="#ffffe6"/>
<polygon points="99.4,263.9 103.5,288.5 115.6,261.7" fill="#f4ffff" stroke="#f4ffff"/>
<polygon points="112.7,311.1 103.5,288.5 93.2,313.6" fill="#99ffff" stroke="#99ffff"/>
<polygon points="103.5,288.5 86.2,287.5 93.2,313.6" fill="#6effff" stroke="#6effff"/>
<polygon points="352.5,182.9 329.9,182.2 346.4,211.1" fill="#fff800" stroke="#fff800"/>
<polygon points="329.9,182.2 326.2,209.9 346.4,211.1" fill="#ffa600" stroke="#ffa600"/>
<polygon points="326.2,209.9 329.9,182.2 312,189.4" fill="#ff7d00" stroke="#ff7d00"/>
<polygon points="329.9,182.2 352.5,182.9 336.7,166.2" fill="#ffff26" stroke="#ffff26"/>
<polygon points="329.9,182.2 311.5,164.8 312,189.4" fill="#ffaa00" stroke="#ffaa00"/>
<polygon points="311.5,164.8 329.9,182.2 336.7,166.2" fill="#fff600" stroke="#fff600"/>
<polygon points="287.9,281.6 284,257 264.4,278.3" fill="#8b0000" stroke="#8b0000"/>
<polygon points="308.9,284.9 287.9,281.6 286.8,306" fill="#d20000" stroke="#d20000"/>
<polygon points="287.9,281.6 264.8,295.6 286.8,306" fill="#bc0000" stroke="#bc0000"/>
<polygon points="264.8,295.6 287.9,281.6 264.4,278.3" fill="#990000" stroke="#990000"/>
<polygon points="291.1,412.7 290,431.6 315.4,422.9" fill="#00f5ff" stroke="#00f5ff"/>
<polygon points="316.5,440.8 290,431.6 290.6,447.8" fill="#00b4ff" stroke="#00b4ff"/>
<polygon points="290,431.6 316.5,440.8 315.4,422.9" fill="#00ccff" stroke="#00ccff"/>
<polygon points="290,431.6 266.2,434.4 290.6,447.8" fill="#00beff" stroke="#00beff"/>
<polygon points="266.2,434.4 290,431.6 261.3,416.6" fill="#00eeff" stroke="#00eeff"/>
<polygon points="290,431.6 291.1,412.7 261.3,416.6" fill="#15ffff" stroke="#15ffff"/>
<polygon points="291.1,412.7 288.5,395.4 262,399" fill="#9bffff" stroke="#9bffff"/>
<polygon points="264,383.1 288.5,395.4 288.3,379.1" fill="#ffffe8" stroke="#ffffe8"/>
<polygon points="262,399 288.5,395.4 264,383.1" fill="#f3ffff" stroke="#f3ffff"/>
<polygon points="288.5,395.4 316.5,386.4 288.3,379.1" fill="#eeffff" stroke="#eeffff"/>
<polygon points="288.5,395.4 316.5,404 316.5,386.4" fill="#98ffff" stroke="#98ffff"/>
<polygon points="288.5,395.4 291.1,412.7 316.5,404" fill="#6fffff" stroke="#6fffff"/>
<polygon points="162.6,350.2 147.7,336.2 139.8,354.2" fill="#ffffe8" stroke="#ffffe8"/>
<polygon points="166.7,332 147.7,336.2 162.6,350.2" fill="#ffffa4" stroke="#ffffa4"/>
<polygon points="147.7,336.2 125.4,336.3 139.8,354.2" fill="#ecffff" stroke="#ecffff"/>
<polygon points="147.7,336.2 166.7,332 149.8,312.4" fill="#ffff81" stroke="#ffff81"/>
<polygon points="166.7,332 170.6,310.3 149.8,312.4" fill="#ffff27" stroke="#ffff27"/>
<polygon points="174.5,286.2 170.6,310.3 188.7,305.8" fill="#ff8400" stroke="#ff8400"/>
<polygon points="170.6,310.3 186.9,326.5 188.7,305.8" fill="#ffab00" stroke="#ffab00"/>
<polygon points="170.6,310.3 166.7,332 186.9,326.5" fill="#fff800" stroke="#fff800"/>
<polygon points="170.6,310.3 174.5,286.2 157.1,286.1" fill="#ffa900" stroke="#ffa900"/>
<polygon points="149.8,312.4 170.6,310.3 157.1,286.1" fill="#fff700" stroke="#fff700"/>
<polygon points="125.4,336.3 129.9,310.3 112.7,311.1" fill="#f2ffff" stroke="#f2ffff"/>
<polygon points="138.5,287.9 129.9,310.3 149.8,312.4" fill="#ffff81" stroke="#ffff81"/>
<polygon points="129.9,310.3 147.7,336.2 149.8,312.4" fill="#ffffa5" stroke="#ffffa5"/>
<polygon points="147.7,336.2 129.9,310.3 125.4,336.3" fill="#ffffe7" stroke="#ffffe7"/>
<polygon points="112.7,311.1 129.9,310.3 120.6,288.3" fill="#ffffe6" stroke="#ffffe6"/>
<polygon points="129.9,310.3 138.5,287.9 120.6,288.3" fill="#ffffa6" stroke="#ffffa6"/>
<polygon points="210,171 234.7,163.5 212.8,152.3" fill="#ff8500" stroke="#ff8500"/>
<polygon points="238.1,179.3 234.7,163.5 210,171" fill="#ff2e00" stroke="#ff2e00"/>
<polygon points="234.7,163.5 239.3,144.8 212.8,152.3" fill="#ffac00" stroke="#ffac00"/>
<polygon points="239.3,144.8 234.7,163.5 265.5,164.2" fill="#ff7f00" stroke="#ff7f00"/>
<polygon points="234.7,163.5 238.1,179.3 265.5,164.2" fill="#ff2600" stroke="#ff2600"/>
<polygon points="237.2,366.4 261.9,348.4 235.8,347.5" fill="#fff600" stroke="#fff600"/>
<polygon points="237.2,366.4 264.3,364.6 261.9,348.4" fill="#ffff22" stroke="#ffff22"/>
<polygon points="237.2,366.4 264,383.1 264.3,364.6" fill="#ffff7d" stroke="#ffff7d"/>
<polygon points="237.2,366.4 235,382 264,383.1" fill="#ffffa4" stroke="#ffffa4"/>
<polygon points="238.6,399.4 235,382 209.1,394.6" fill="#f4ffff" stroke="#f4ffff"/>
<polygon points="261.3,416.6 238.6,399.4 240.5,418.5" fill="#6cffff" stroke="#6cffff"/>
<polygon points="262,399 238.6,399.4 261.3,416.6" fill="#9cffff" stroke="#9cffff"/>
<polygon points="238.6,399.4 262,399 264,383.1" fill="#f4ffff" stroke="#f4ffff"/>
<polygon points="235,382 238.6,399.4 264,383.1" fill="#ffffe4" stroke="#ffffe4"/>
<polygon points="209.8,412.4 234.3,434.2 240.5,418.5" fill="#12ffff" stroke="#12ffff"/>
<polygon points="238.6,399.4 209.8,412.4 240.5,418.5" fill="#6cffff" stroke="#6cffff"/>
<polygon points="209.8,412.4 238.6,399.4 209.1,394.6" fill="#9affff" stroke="#9affff"/>
<polygon points="185,440.8 182.6,420.9 160.3,430.6" fill="#00c7ff" stroke="#00c7ff"/>
<polygon points="209.3,341.8 209.4,321.7 186.9,326.5" fill="#ffac00" stroke="#ffac00"/>
<polygon points="185.9,347.8 209.3,341.8 186.9,326.5" fill="#fffa00" stroke="#fffa00"/>
<polygon points="237.7,331.4 209.3,341.8 235.8,347.5" fill="#ffaa00" stroke="#ffaa00"/>
<polygon points="209.4,321.7 209.3,341.8 237.7,331.4" fill="#ff8300" stroke="#ff8300"/>
<polygon points="380.5,286.5 371.5,311.2 390.8,310.4" fill="#ffffe7" stroke="#ffffe7"/>
<polygon points="398.1,288 380.5,286.5 390.8,310.4" fill="#f1ffff" stroke="#f1ffff"/>
<polygon points="380.5,286.5 398.1,288 387.8,257.4" fill="#ffffe5" stroke="#ffffe5"/>
<polygon points="416.3,287.4 419.6,264.1 398.1,288" fill="#6fffff" stroke="#6fffff"/>
<polygon points="416.3,287.4 408.4,313.6 427.2,309.8" fill="#1affff" stroke="#1affff"/>
<polygon points="416.3,287.4 398.1,288 408.4,313.6" fill="#6cffff" stroke="#6cffff"/>
<polygon points="387.5,234.5 380.9,208.7 368.1,233.3" fill="#ffffa3" stroke="#ffffa3"/>
<polygon points="387.5,234.5 368.1,233.3 387.8,257.4" fill="#ffffa6" stroke="#ffffa6"/>
<polygon points="399.2,210.4 387.5,234.5 402.3,232.6" fill="#f0ffff" stroke="#f0ffff"/>
<polygon points="380.9,208.7 387.5,234.5 399.2,210.4" fill="#ffffe7" stroke="#ffffe7"/>
<polygon points="387.5,234.5 404.6,256.9 402.3,232.6" fill="#eeffff" stroke="#eeffff"/>
<polygon points="404.6,256.9 387.5,234.5 387.8,257.4" fill="#ffffed" stroke="#ffffed"/>
<polygon points="209.4,82.6 240.3,76.2 212.4,63.4" fill="#15ffff" stroke="#15ffff"/>
<polygon points="213.1,98.4 209.4,82.6 188.6,89.1" fill="#6effff" stroke="#6effff"/>
<polygon points="209.4,82.6 212.4,63.4 188.5,69.6" fill="#00f5ff" stroke="#00f5ff"/>
<polygon points="188.6,89.1 209.4,82.6 188.5,69.6" fill="#1bffff" stroke="#1bffff"/>
<polygon points="235.5,94.3 213.1,98.4 237.1,112.3" fill="#efffff" stroke="#efffff"/>
<polygon points="235.5,94.3 209.4,82.6 213.1,98.4" fill="#97ffff" stroke="#97ffff"/>
<polygon points="209.4,82.6 235.5,94.3 240.3,76.2" fill="#6bffff" stroke="#6bffff"/>
<polygon points="316.5,53.6 288.2,63.8 319.6,73.2" fill="#00cfff" stroke="#00cfff"/>
<polygon points="288.2,63.8 290.7,80.5 319.6,73.2" fill="#00f7ff" stroke="#00f7ff"/>
<polygon points="290.6,46.6 288.2,63.8 316.5,53.6" fill="#00b5ff" stroke="#00b5ff"/>
<polygon points="263.6,59.7 288.2,63.8 290.6,46.6" fill="#00bfff" stroke="#00bfff"/>
<polygon points="288.2,63.8 263.6,59.7 266.8,76.7" fill="#00edff" stroke="#00edff"/>
<polygon points="290.7,80.5 288.2,63.8 266.8,76.7" fill="#11ffff" stroke="#11ffff"/>
<polygon points="287.7,150.7 261.7,144.9 265.5,164.2" fill="#ffad00" stroke="#ffad00"/>
<polygon points="261.7,144.9 239.3,144.8 265.5,164.2" fill="#ffab00" stroke="#ffab00"/>
<polygon points="288.7,134.8 261.7,144.9 287.7,150.7" fill="#fffa00" stroke="#fffa00"/>
<polygon points="261.7,144.9 288.7,134.8 265.9,129.1" fill="#ffff24" stroke="#ffff24"/>
<polygon points="261.7,144.9 238.9,128 239.3,144.8" fill="#fffd00" stroke="#fffd00"/>
<polygon points="261.7,144.9 265.9,129.1 238.9,128" fill="#ffff26" stroke="#ffff26"/>
<polygon points="98.6,237.4 80.6,257.2 99.4,263.9" fill="#9bffff" stroke="#9bffff"/>
<polygon points="98.6,237.4 99.4,263.9 115.6,261.7" fill="#f6ffff" stroke="#f6ffff"/>
<polygon points="98.6,237.4 101.9,211 84.6,207.6" fill="#99ffff" stroke="#99ffff"/>
<polygon points="300,262.8 287.9,281.6 308.9,284.9" fill="#bf0000" stroke="#bf0000"/>
<polygon points="287.9,281.6 300,262.8 284,257" fill="#9c0000" stroke="#9c0000"/>
<polygon points="300,262.8 308.9,284.9 318.5,256.8" fill="#d30000" stroke="#d30000"/>
<polygon points="300,262.8 318.5,256.8 299.3,233" fill="#bc0000" stroke="#bc0000"/>
<polygon points="284,257 300,262.8 299.3,233" fill="#9a0000" stroke="#9a0000"/>
<polygon points="235,382 208.8,378.2 209.1,394.6" fill="#ffffe8" stroke="#ffffe8"/>
<polygon points="237.2,366.4 208.8,378.2 235,382" fill="#ffffa6" stroke="#ffffa6"/>
<polygon points="208.8,378.2 188.9,386.3 209.1,394.6" fill="#efffff" stroke="#efffff"/>
<polygon points="188.9,386.3 208.8,378.2 189.5,367.7" fill="#ffffe6" stroke="#ffffe6"/>
<polygon points="209.8,412.4 187.4,404.6 182.6,420.9" fill="#20ffff" stroke="#20ffff"/>
<polygon points="182.6,420.9 187.4,404.6 161.2,411.5" fill="#04ffff" stroke="#04ffff"/>
<polygon points="188.9,386.3 187.4,404.6 209.1,394.6" fill="#9bffff" stroke="#9bffff"/>
<polygon points="187.4,404.6 209.8,412.4 209.1,394.6" fill="#6effff" stroke="#6effff"/>
<polygon points="161.2,411.5 187.4,404.6 158.9,391.7" fill="#24ffff" stroke="#24ffff"/>
<polygon points="187.4,404.6 188.9,386.3 158.9,391.7" fill="#70ffff" stroke="#70ffff"/>
<polygon points="207.3,430.1 209.8,412.4 182.6,420.9" fill="#00f8ff" stroke="#00f8ff"/>
<polygon points="185,440.8 207.3,430.1 182.6,420.9" fill="#00cfff" stroke="#00cfff"/>
<polygon points="207.3,430.1 185,440.8 210.9,447.8" fill="#00b5ff" stroke="#00b5ff"/>
<polygon points="234.3,434.2 207.3,430.1 210.9,447.8" fill="#00c0ff" stroke="#00c0ff"/>
<polygon points="209.8,412.4 207.3,430.1 234.3,434.2" fill="#00f1ff" stroke="#00f1ff"/>
<polygon points="212.1,360.5 185.9,347.8 189.5,367.7" fill="#ffff7d" stroke="#ffff7d"/>
<polygon points="212.1,360.5 209.3,341.8 185.9,347.8" fill="#ffff29" stroke="#ffff29"/>
<polygon points="208.8,378.2 212.1,360.5 189.5,367.7" fill="#ffffa6" stroke="#ffffa6"/>
<polygon points="212.1,360.5 208.8,378.2 237.2,366.4" fill="#ffff84" stroke="#ffff84"/>
<polygon points="212.1,360.5 237.2,366.4 235.8,347.5" fill="#ffff26" stroke="#ffff26"/>
<polygon points="209.3,341.8 212.1,360.5 235.8,347.5" fill="#fff900" stroke="#fff900"/>
<polygon points="365.4,283.4 352.6,257.5 345.2,289.5" fill="#fffb00" stroke="#fffb00"/>
<polygon points="365.4,283.4 345.2,289.5 352.4,307.6" fill="#ffff28" stroke="#ffff28"/>
<polygon points="371.5,311.2 365.4,283.4 352.4,307.6" fill="#ffff7e" stroke="#ffff7e"/>
<polygon points="380.5,286.5 365.4,283.4 371.5,311.2" fill="#ffffa5" stroke="#ffffa5"/>
<polygon points="433.7,288.2 416.3,287.4 427.2,309.8" fill="#00f6ff" stroke="#00f6ff"/>
<polygon points="444.4,312.9 433.7,288.2 427.2,309.8" fill="#00cdff" stroke="#00cdff"/>
<polygon points="451.3,287.1 433.7,288.2 444.4,312.9" fill="#00b5ff" stroke="#00b5ff"/>
<polygon points="416.3,287.4 433.7,288.2 419.6,264.1" fill="#17ffff" stroke="#17ffff"/>
<polygon points="433.7,288.2 451.3,287.1 438.6,257.7" fill="#00bfff" stroke="#00bfff"/>
<polygon points="419.6,264.1 433.7,288.2 438.6,257.7" fill="#00efff" stroke="#00efff"/>
<polygon points="240.3,76.2 261.9,93.8 266.8,76.7" fill="#66ffff" stroke="#66ffff"/>
<polygon points="235.5,94.3 261.9,93.8 240.3,76.2" fill="#92ffff" stroke="#92ffff"/>
<polygon points="290.7,98.2 261.9,93.8 261,111.8" fill="#efffff" stroke="#efffff"/>
<polygon points="261,111.8 261.9,93.8 237.1,112.3" fill="#ffffe5" stroke="#ffffe5"/>
<polygon points="261.9,93.8 235.5,94.3 237.1,112.3" fill="#f0ffff" stroke="#f0ffff"/>
<polygon points="261.9,93.8 290.7,80.5 266.8,76.7" fill="#66ffff" stroke="#66ffff"/>
<polygon points="290.7,80.5 261.9,93.8 290.7,98.2" fill="#91ffff" stroke="#91ffff"/>
<polygon points="114.6,235.2 98.6,237.4 115.6,261.7" fill="#ffffe5" stroke="#ffffe5"/>
<polygon points="114.6,235.2 131.7,262.1 133.6,232.7" fill="#ffff7c" stroke="#ffff7c"/>
<polygon points="131.7,262.1 114.6,235.2 115.6,261.7" fill="#ffffa5" stroke="#ffffa5"/>
<polygon points="114.6,235.2 133.6,232.7 119.8,207.1" fill="#ffffa3" stroke="#ffffa3"/>
<polygon points="101.9,211 114.6,235.2 119.8,207.1" fill="#ffffe8" stroke="#ffffe8"/>
<polygon points="98.6,237.4 114.6,235.2 101.9,211" fill="#f1ffff" stroke="#f1ffff"/>
<polygon points="98.6,237.4 80.5,237.7 80.6,257.2" fill="#6dffff" stroke="#6dffff"/>
<polygon points="80.5,237.7 63,230.1 63.9,263.9" fill="#00ecff" stroke="#00ecff"/>
<polygon points="80.6,257.2 80.5,237.7 63.9,263.9" fill="#11ffff" stroke="#11ffff"/>
<polygon points="63,230.1 80.5,237.7 84.6,207.6" fill="#11ffff" stroke="#11ffff"/>
<polygon points="80.5,237.7 98.6,237.4 84.6,207.6" fill="#6effff" stroke="#6effff"/>
<polygon points="365.4,283.4 368,263.5 352.6,257.5" fill="#ffff26" stroke="#ffff26"/>
<polygon points="368.1,233.3 368,263.5 387.8,257.4" fill="#ffff7a" stroke="#ffff7a"/>
<polygon points="352.6,257.5 368,263.5 368.1,233.3" fill="#ffff1e" stroke="#ffff1e"/>
<polygon points="368,263.5 380.5,286.5 387.8,257.4" fill="#ffffa3" stroke="#ffffa3"/>
<polygon points="368,263.5 365.4,283.4 380.5,286.5" fill="#ffff7e" stroke="#ffff7e"/>
<use href="#mesh"/>
<circle cx="250.75" cy="247.2" r="204.5" fill="none" stroke="#000" stroke-width="0.6"/>
<path d="M46.5 42.3 V451.5 H456" fill="none" stroke="#000" stroke-width="1"/><path d="M46.5 410.8h4M87.1 451.5v-4M46.5 369.9h4M128 451.5v-4M46.5 329h4M168.9 451.5v-4M46.5 288.1h4M209.8 451.5v-4M46.5 247.2h4M250.8 451.5v-4M46.5 206.3h4M291.6 451.5v-4M46.5 165.4h4M332.6 451.5v-4M46.5 124.5h4M373.5 451.5v-4M46.5 83.6h4M414.4 451.5v-4" stroke="#000" stroke-width="1"/><g class="tl"><text x="43.3" y="413.8" text-anchor="end">-0.8</text><text x="87.1" y="465.0" text-anchor="middle">-0.8</text><text x="43.3" y="372.9" text-anchor="end">-0.6</text><text x="128" y="465.0" text-anchor="middle">-0.6</text><text x="43.3" y="332" text-anchor="end">-0.4</text><text x="168.9" y="465.0" text-anchor="middle">-0.4</text><text x="43.3" y="291.1" text-anchor="end">-0.2</text><text x="209.8" y="465.0" text-anchor="middle">-0.2</text><text x="43.3" y="250.2" text-anchor="end">0</text><text x="250.8" y="465.0" text-anchor="middle">0</text><text x="43.3" y="209.3" text-anchor="end">0.2</text><text x="291.6" y="465.0" text-anchor="middle">0.2</text><text x="43.3" y="168.4" text-anchor="end">0.4</text><text x="332.6" y="465.0" text-anchor="middle">0.4</text><text x="43.3" y="127.5" text-anchor="end">0.6</text><text x="373.5" y="465.0" text-anchor="middle">0.6</text><text x="43.3" y="86.6" text-anchor="end">0.8</text><text x="414.4" y="465.0" text-anchor="middle">0.8</text></g>
<line x1="263.9" y1="43.1" x2="237.6" y2="43.1" stroke="#00b400" stroke-width="2.6"/><line x1="184.8" y1="53.6" x2="160.5" y2="63.7" stroke="#005a00" stroke-width="2.6"/><line x1="115.8" y1="93.6" x2="97.1" y2="112.2" stroke="#005a00" stroke-width="2.6"/><line x1="67.3" y1="156.9" x2="57.2" y2="181.3" stroke="#005a00" stroke-width="2.6"/><line x1="46.7" y1="234" x2="46.7" y2="260.4" stroke="#005a00" stroke-width="2.6"/><line x1="57.2" y1="313.1" x2="67.3" y2="337.5" stroke="#005a00" stroke-width="2.6"/><line x1="97.1" y1="382.2" x2="115.8" y2="400.8" stroke="#005a00" stroke-width="2.6"/><line x1="160.5" y1="430.7" x2="184.8" y2="440.8" stroke="#005a00" stroke-width="2.6"/><line x1="237.6" y1="451.3" x2="263.9" y2="451.3" stroke="#005a00" stroke-width="2.6"/><line x1="316.7" y1="440.8" x2="341" y2="430.7" stroke="#005a00" stroke-width="2.6"/><line x1="385.7" y1="400.8" x2="404.4" y2="382.2" stroke="#005a00" stroke-width="2.6"/><line x1="434.2" y1="337.5" x2="444.3" y2="313.1" stroke="#005a00" stroke-width="2.6"/><line x1="454.8" y1="260.4" x2="454.8" y2="234" stroke="#005a00" stroke-width="2.6"/><line x1="444.3" y1="181.3" x2="434.2" y2="156.9" stroke="#005a00" stroke-width="2.6"/><line x1="404.4" y1="112.2" x2="385.7" y2="93.6" stroke="#005a00" stroke-width="2.6"/><line x1="341" y1="63.7" x2="316.7" y2="53.6" stroke="#005a00" stroke-width="2.6"/>
<rect x="463.5" y="42.3" width="13.300000000000011" height="408.3" fill="url(#cb)" stroke="#000" stroke-width="0.8"/><path d="M476.8 50h-3M476.8 120.7h-3M476.8 191h-3M476.8 261h-3M476.8 330h-3M476.8 400.5h-3" stroke="#000" stroke-width="0.8"/><g class="tl cbl"><text x="480.8" y="53">0.035</text><text x="480.8" y="123.7">0.03</text><text x="480.8" y="194">0.025</text><text x="480.8" y="264">0.02</text><text x="480.8" y="333">0.015</text><text x="480.8" y="403.5">0.01</text></g>
</g>
<g transform="translate(0,631)">
<polygon points="238.7,235.1 238.7,259.3 250.8,247.2" fill="#ffffe0" stroke="#ffffe0"/>
<polygon points="262.8,235.1 238.7,235.1 250.8,247.2" fill="#ffffea" stroke="#ffffea"/>
<polygon points="46.7,260.6 63.9,263.9 46.7,233.8" fill="#fcffff" stroke="#fcffff"/>
<polygon points="46.7,260.6 50.2,287.1 63.9,263.9" fill="#feffff" stroke="#feffff"/>
<polygon points="166.6,261.9 166.3,232.8 148.5,257.3" fill="#d0ffff" stroke="#d0ffff"/>
<polygon points="200.9,236.1 213.4,210.9 194.6,207.7" fill="#ffffe2" stroke="#ffffe2"/>
<polygon points="220.5,231.7 213.4,210.9 200.9,236.1" fill="#ffffe0" stroke="#ffffe0"/>
<polygon points="438.6,257.7 454.8,260.6 454.8,233.8" fill="#fffff3" stroke="#fffff3"/>
<polygon points="451.3,287.1 454.8,260.6 438.6,257.7" fill="#fffff4" stroke="#fffff4"/>
<polygon points="311.7,144.9 336.7,166.2 340.6,143.9" fill="#ffff13" stroke="#ffff13"/>
<polygon points="419.9,237.3 417.1,207.3 402.3,232.6" fill="#fffff3" stroke="#fffff3"/>
<polygon points="358.9,138.9 377.2,158.4 378.8,133" fill="#a4ffff" stroke="#a4ffff"/>
<polygon points="361.5,117.9 358.9,138.9 378.8,133" fill="#d5ffff" stroke="#d5ffff"/>
<polygon points="311.5,164.8 336.7,166.2 311.7,144.9" fill="#ffff09" stroke="#ffff09"/>
<polygon points="57.1,312.9 67.3,337.6 73.7,310" fill="#fffff0" stroke="#fffff0"/>
<polygon points="101.7,362.4 120.2,356.2 104.1,335.1" fill="#e4ffff" stroke="#e4ffff"/>
<polygon points="101.7,362.4 80.7,360.8 97,382" fill="#e5ffff" stroke="#e5ffff"/>
<polygon points="115.9,401 137.1,417.2 141.1,400.1" fill="#eeffff" stroke="#eeffff"/>
<polygon points="117,379.5 115.9,401 141.1,400.1" fill="#dfffff" stroke="#dfffff"/>
<polygon points="115.9,401 117,379.5 97,382" fill="#deffff" stroke="#deffff"/>
<polygon points="117,379.5 101.7,362.4 97,382" fill="#d9ffff" stroke="#d9ffff"/>
<polygon points="101.7,362.4 117,379.5 120.2,356.2" fill="#d3ffff" stroke="#d3ffff"/>
<polygon points="162.2,123.4 182.7,110.6 160.2,104" fill="#cdffff" stroke="#cdffff"/>
<polygon points="143.6,116.2 162.2,123.4 160.2,104" fill="#deffff" stroke="#deffff"/>
<polygon points="126.5,159.2 118.9,137.6 107,156.2" fill="#fffff0" stroke="#fffff0"/>
<polygon points="118.9,137.6 102.8,131.8 107,156.2" fill="#fffff8" stroke="#fffff8"/>
<polygon points="102.8,131.8 97,112.4 80.7,133.6" fill="#fffffe" stroke="#fffffe"/>
<polygon points="169.4,186 148.3,186.4 157.4,205.1" fill="#ffffc7" stroke="#ffffc7"/>
<polygon points="260,198.2 288.4,211.9 286.8,189.5" fill="#e6ffff" stroke="#e6ffff"/>
<polygon points="133.6,232.7 136.8,211.3 119.8,207.1" fill="#fffff5" stroke="#fffff5"/>
<polygon points="148.3,186.4 136.8,211.3 157.4,205.1" fill="#ffffd2" stroke="#ffffd2"/>
<polygon points="136.8,211.3 129.9,184.5 119.8,207.1" fill="#ffffd8" stroke="#ffffd8"/>
<polygon points="136.8,211.3 148.3,186.4 129.9,184.5" fill="#ffffcc" stroke="#ffffcc"/>
<polygon points="290.6,447.8 266.2,434.4 264.1,451.3" fill="#fffff9" stroke="#fffff9"/>
<polygon points="266.2,434.4 261.3,416.6 240.5,418.5" fill="#ffffd0" stroke="#ffffd0"/>
<polygon points="266.2,434.4 237.4,451.3 264.1,451.3" fill="#ffffe5" stroke="#ffffe5"/>
<polygon points="335.8,261.5 318.5,256.8 326,286.6" fill="#90ffff" stroke="#90ffff"/>
<polygon points="318.5,256.8 318.1,232.5 299.3,233" fill="#85ffff" stroke="#85ffff"/>
<polygon points="339.6,351.6 357.8,356.3 356.9,334.3" fill="#ffffcd" stroke="#ffffcd"/>
<polygon points="316.5,386.4 315.2,368.4 288.3,379.1" fill="#c1ffff" stroke="#c1ffff"/>
<polygon points="315.2,368.4 339.6,351.6 313.7,349" fill="#feffff" stroke="#feffff"/>
<polygon points="316.5,386.4 316.5,404 342.2,391.5" fill="#e5ffff" stroke="#e5ffff"/>
<polygon points="311.9,328 293.1,340.3 313.7,349" fill="#f1ffff" stroke="#f1ffff"/>
<polygon points="264.3,364.6 264,383.1 288.3,379.1" fill="#c8ffff" stroke="#c8ffff"/>
<polygon points="166.3,232.8 176.1,205.1 157.4,205.1" fill="#ffffed" stroke="#ffffed"/>
<polygon points="176.1,205.1 169.4,186 157.4,205.1" fill="#ffffce" stroke="#ffffce"/>
<polygon points="157.1,286.1 166.6,261.9 148.5,257.3" fill="#e1ffff" stroke="#e1ffff"/>
<polygon points="183.4,231.9 200.9,236.1 194.6,207.7" fill="#fffffa" stroke="#fffffa"/>
<polygon points="176.1,205.1 183.4,231.9 194.6,207.7" fill="#ffffeb" stroke="#ffffeb"/>
<polygon points="183.4,231.9 176.1,205.1 166.3,232.8" fill="#fbffff" stroke="#fbffff"/>
<polygon points="213.4,210.9 215.3,189 194.6,207.7" fill="#ffffcd" stroke="#ffffcd"/>
<polygon points="215.3,189 213.4,210.9 239.1,197.9" fill="#ffffbf" stroke="#ffffbf"/>
<polygon points="202.9,261.7 217.7,257.5 200.9,236.1" fill="#feffff" stroke="#feffff"/>
<polygon points="217.7,257.5 220.5,231.7 200.9,236.1" fill="#ffffee" stroke="#ffffee"/>
<polygon points="212.6,280.8 217.7,257.5 202.9,261.7" fill="#fffff5" stroke="#fffff5"/>
<polygon points="238.7,235.1 217.7,257.5 238.7,259.3" fill="#ffffdb" stroke="#ffffdb"/>
<polygon points="220.5,231.7 217.7,257.5 238.7,235.1" fill="#ffffdb" stroke="#ffffdb"/>
<polygon points="262.8,259.3 262.8,235.1 250.8,247.2" fill="#fffffd" stroke="#fffffd"/>
<polygon points="238.7,259.3 262.8,259.3 250.8,247.2" fill="#ffffee" stroke="#ffffee"/>
<polygon points="264.8,295.6 264.4,278.3 240.8,297.8" fill="#fffff9" stroke="#fffff9"/>
<polygon points="261.9,315.5 264.8,295.6 240.8,297.8" fill="#fffff8" stroke="#fffff8"/>
<polygon points="264.8,295.6 261.9,315.5 286.8,306" fill="#f4ffff" stroke="#f4ffff"/>
<polygon points="261.9,348.4 237.7,331.4 235.8,347.5" fill="#feffff" stroke="#feffff"/>
<polygon points="163.7,373.2 162.6,350.2 139.8,354.2" fill="#d4ffff" stroke="#d4ffff"/>
<polygon points="161.2,411.5 158.9,391.7 141.1,400.1" fill="#eeffff" stroke="#eeffff"/>
<polygon points="161.2,411.5 137.1,417.2 160.3,430.6" fill="#faffff" stroke="#faffff"/>
<polygon points="137.1,417.2 161.2,411.5 141.1,400.1" fill="#f3ffff" stroke="#f3ffff"/>
<polygon points="390.8,310.4 374.4,336.3 393.5,338.3" fill="#daffff" stroke="#daffff"/>
<polygon points="374.4,336.3 377.2,359.8 393.5,338.3" fill="#faffff" stroke="#faffff"/>
<polygon points="357.8,356.3 374.4,336.3 356.9,334.3" fill="#ffffde" stroke="#ffffde"/>
<polygon points="374.4,336.3 357.8,356.3 377.2,359.8" fill="#ffffe1" stroke="#ffffe1"/>
<polygon points="408.4,313.6 390.8,310.4 393.5,338.3" fill="#d1ffff" stroke="#d1ffff"/>
<polygon points="377.2,359.8 403.4,357 393.5,338.3" fill="#f6ffff" stroke="#f6ffff"/>
<polygon points="420.8,360.8 403.4,357 404.5,382" fill="#fdffff" stroke="#fdffff"/>
<polygon points="403.4,357 381,380.5 404.5,382" fill="#fffffd" stroke="#fffffd"/>
<polygon points="381,380.5 403.4,357 377.2,359.8" fill="#fffff8" stroke="#fffff8"/>
<polygon points="408.4,313.6 414.6,340.7 427.2,309.8" fill="#e9ffff" stroke="#e9ffff"/>
<polygon points="414.6,340.7 408.4,313.6 393.5,338.3" fill="#ddffff" stroke="#ddffff"/>
<polygon points="403.4,357 414.6,340.7 393.5,338.3" fill="#ebffff" stroke="#ebffff"/>
<polygon points="414.6,340.7 403.4,357 420.8,360.8" fill="#f6ffff" stroke="#f6ffff"/>
<polygon points="212.4,63.4 185,53.6 188.5,69.6" fill="#f0ffff" stroke="#f0ffff"/>
<polygon points="212.4,63.4 210.9,46.6 185,53.6" fill="#f8ffff" stroke="#f8ffff"/>
<polygon points="185.4,147.4 188.4,166.9 212.8,152.3" fill="#ffffee" stroke="#ffffee"/>
<polygon points="210.5,117.8 238.9,128 237.1,112.3" fill="#ffff21" stroke="#ffff21"/>
<polygon points="182.7,110.6 188.6,89.1 160.2,104" fill="#c1ffff" stroke="#c1ffff"/>
<polygon points="159.3,84.5 188.6,89.1 188.5,69.6" fill="#d6ffff" stroke="#d6ffff"/>
<polygon points="188.6,89.1 159.3,84.5 160.2,104" fill="#ceffff" stroke="#ceffff"/>
<polygon points="382.9,114 404.5,112.4 385.6,93.4" fill="#d9ffff" stroke="#d9ffff"/>
<polygon points="382.9,114 361.5,117.9 378.8,133" fill="#c3ffff" stroke="#c3ffff"/>
<polygon points="377.2,158.4 401.3,135.5 378.8,133" fill="#b1ffff" stroke="#b1ffff"/>
<polygon points="401.3,135.5 382.9,114 378.8,133" fill="#bfffff" stroke="#bfffff"/>
<polygon points="382.9,114 401.3,135.5 404.5,112.4" fill="#dbffff" stroke="#dbffff"/>
<polygon points="361.9,206.1 346.4,211.1 351.9,235.1" fill="#8effff" stroke="#8effff"/>
<polygon points="387.9,180.6 377.2,158.4 372.6,185.2" fill="#a6ffff" stroke="#a6ffff"/>
<polygon points="377.2,158.4 355.3,159.7 372.6,185.2" fill="#8effff" stroke="#8effff"/>
<polygon points="358.9,138.9 355.3,159.7 377.2,158.4" fill="#b1ffff" stroke="#b1ffff"/>
<polygon points="336.7,166.2 355.3,159.7 340.6,143.9" fill="#ffffd3" stroke="#ffffd3"/>
<polygon points="355.3,159.7 358.9,138.9 340.6,143.9" fill="#ffffea" stroke="#ffffea"/>
<polygon points="436.7,231 417.1,207.3 419.9,237.3" fill="#ffffea" stroke="#ffffea"/>
<polygon points="436.7,231 438.6,257.7 454.8,233.8" fill="#ffffef" stroke="#ffffef"/>
<polygon points="436.7,231 419.9,237.3 438.6,257.7" fill="#ffffe9" stroke="#ffffe9"/>
<polygon points="358.9,138.9 337.5,119.8 340.6,143.9" fill="#ffff62" stroke="#ffff62"/>
<polygon points="361.5,117.9 337.5,119.8 358.9,138.9" fill="#ffff9a" stroke="#ffff9a"/>
<polygon points="337.5,119.8 361.5,117.9 338.9,102" fill="#ffff2b" stroke="#ffff2b"/>
<polygon points="317.2,110.1 337.5,119.8 338.9,102" fill="#ff3300" stroke="#ff3300"/>
<polygon points="286.5,170.7 286.8,189.5 312,189.4" fill="#ffffd1" stroke="#ffffd1"/>
<polygon points="311.5,164.8 286.5,170.7 312,189.4" fill="#ffff85" stroke="#ffff85"/>
<polygon points="288.4,211.9 282,236.5 299.3,233" fill="#b8ffff" stroke="#b8ffff"/>
<polygon points="262.8,259.3 282,236.5 262.8,235.1" fill="#e9ffff" stroke="#e9ffff"/>
<polygon points="286.8,189.5 306.3,207 312,189.4" fill="#d8ffff" stroke="#d8ffff"/>
<polygon points="288.4,211.9 306.3,207 286.8,189.5" fill="#c0ffff" stroke="#c0ffff"/>
<polygon points="306.3,207 288.4,211.9 299.3,233" fill="#aaffff" stroke="#aaffff"/>
<polygon points="318.1,232.5 306.3,207 299.3,233" fill="#90ffff" stroke="#90ffff"/>
<polygon points="112.7,311.1 93.2,313.6 104.1,335.1" fill="#ffffe1" stroke="#ffffe1"/>
<polygon points="93.2,313.6 86.2,287.5 73.7,310" fill="#ffffdc" stroke="#ffffdc"/>
<polygon points="85.3,335.4 93.2,313.6 73.7,310" fill="#ffffe2" stroke="#ffffe2"/>
<polygon points="67.3,337.6 85.3,335.4 73.7,310" fill="#ffffef" stroke="#ffffef"/>
<polygon points="93.2,313.6 85.3,335.4 104.1,335.1" fill="#ffffeb" stroke="#ffffeb"/>
<polygon points="85.3,335.4 67.3,337.6 80.7,360.8" fill="#feffff" stroke="#feffff"/>
<polygon points="85.3,335.4 101.7,362.4 104.1,335.1" fill="#f6ffff" stroke="#f6ffff"/>
<polygon points="101.7,362.4 85.3,335.4 80.7,360.8" fill="#f1ffff" stroke="#f1ffff"/>
<polygon points="138.9,375.3 117,379.5 141.1,400.1" fill="#d4ffff" stroke="#d4ffff"/>
<polygon points="138.9,375.3 163.7,373.2 139.8,354.2" fill="#d0ffff" stroke="#d0ffff"/>
<polygon points="120.2,356.2 138.9,375.3 139.8,354.2" fill="#cdffff" stroke="#cdffff"/>
<polygon points="117,379.5 138.9,375.3 120.2,356.2" fill="#ccffff" stroke="#ccffff"/>
<polygon points="158.9,391.7 138.9,375.3 141.1,400.1" fill="#deffff" stroke="#deffff"/>
<polygon points="163.7,373.2 138.9,375.3 158.9,391.7" fill="#daffff" stroke="#daffff"/>
<polygon points="237.4,451.3 234.3,434.2 210.9,447.8" fill="#ffffeb" stroke="#ffffeb"/>
<polygon points="234.3,434.2 266.2,434.4 240.5,418.5" fill="#ffffc3" stroke="#ffffc3"/>
<polygon points="266.2,434.4 234.3,434.2 237.4,451.3" fill="#ffffd3" stroke="#ffffd3"/>
<polygon points="63,230.1 50.2,207.3 46.7,233.8" fill="#ffffff" stroke="#ffffff"/>
<polygon points="63.9,263.9 63,230.1 46.7,233.8" fill="#fbffff" stroke="#fbffff"/>
<polygon points="50.2,207.3 69.2,205.8 57.1,181.5" fill="#fffff8" stroke="#fffff8"/>
<polygon points="69.2,205.8 63,230.1 84.6,207.6" fill="#fffffa" stroke="#fffffa"/>
<polygon points="63,230.1 69.2,205.8 50.2,207.3" fill="#fffffc" stroke="#fffffc"/>
<polygon points="85.9,159.1 91.6,183.8 107,156.2" fill="#ffffeb" stroke="#ffffeb"/>
<polygon points="102.8,131.8 85.9,159.1 107,156.2" fill="#fffff5" stroke="#fffff5"/>
<polygon points="85.9,159.1 102.8,131.8 80.7,133.6" fill="#fffffa" stroke="#fffffa"/>
<polygon points="91.6,183.8 112.3,182.3 107,156.2" fill="#ffffe1" stroke="#ffffe1"/>
<polygon points="112.3,182.3 126.5,159.2 107,156.2" fill="#ffffe1" stroke="#ffffe1"/>
<polygon points="126.5,159.2 112.3,182.3 129.9,184.5" fill="#ffffd5" stroke="#ffffd5"/>
<polygon points="129.9,184.5 112.3,182.3 119.8,207.1" fill="#ffffd4" stroke="#ffffd4"/>
<polygon points="141.4,96.3 137.1,77.2 115.9,93.4" fill="#f6ffff" stroke="#f6ffff"/>
<polygon points="141.4,96.3 143.6,116.2 160.2,104" fill="#e3ffff" stroke="#e3ffff"/>
<polygon points="159.3,84.5 141.4,96.3 160.2,104" fill="#dfffff" stroke="#dfffff"/>
<polygon points="141.4,96.3 159.3,84.5 137.1,77.2" fill="#ecffff" stroke="#ecffff"/>
<polygon points="126.5,159.2 143.2,136.6 118.9,137.6" fill="#fffff5" stroke="#fffff5"/>
<polygon points="143.2,136.6 143.6,116.2 118.9,137.6" fill="#fbffff" stroke="#fbffff"/>
<polygon points="162.2,123.4 143.2,136.6 164.1,143.1" fill="#f4ffff" stroke="#f4ffff"/>
<polygon points="143.6,116.2 143.2,136.6 162.2,123.4" fill="#eeffff" stroke="#eeffff"/>
<polygon points="97,112.4 117,115.8 115.9,93.4" fill="#fdffff" stroke="#fdffff"/>
<polygon points="143.6,116.2 117,115.8 118.9,137.6" fill="#fbffff" stroke="#fbffff"/>
<polygon points="117,115.8 102.8,131.8 118.9,137.6" fill="#fffffe" stroke="#fffffe"/>
<polygon points="102.8,131.8 117,115.8 97,112.4" fill="#ffffff" stroke="#ffffff"/>
<polygon points="117,115.8 141.4,96.3 115.9,93.4" fill="#f8ffff" stroke="#f8ffff"/>
<polygon points="141.4,96.3 117,115.8 143.6,116.2" fill="#f2ffff" stroke="#f2ffff"/>
<polygon points="169.4,186 168.3,160.9 148.3,186.4" fill="#ffffc7" stroke="#ffffc7"/>
<polygon points="168.3,160.9 169.4,186 188.4,166.9" fill="#ffffd1" stroke="#ffffd1"/>
<polygon points="168.3,160.9 185.4,147.4 164.1,143.1" fill="#fffff4" stroke="#fffff4"/>
<polygon points="185.4,147.4 168.3,160.9 188.4,166.9" fill="#ffffe7" stroke="#ffffe7"/>
<polygon points="267.4,180.1 260,198.2 286.8,189.5" fill="#ffffde" stroke="#ffffde"/>
<polygon points="267.4,180.1 286.5,170.7 265.5,164.2" fill="#ffff5f" stroke="#ffff5f"/>
<polygon points="286.5,170.7 267.4,180.1 286.8,189.5" fill="#ffffaa" stroke="#ffffaa"/>
<polygon points="260,198.2 263.5,214.8 288.4,211.9" fill="#efffff" stroke="#efffff"/>
<polygon points="282,236.5 263.5,214.8 262.8,235.1" fill="#ecffff" stroke="#ecffff"/>
<polygon points="263.5,214.8 282,236.5 288.4,211.9" fill="#d9ffff" stroke="#d9ffff"/>
<polygon points="149.6,233 136.8,211.3 133.6,232.7" fill="#f5ffff" stroke="#f5ffff"/>
<polygon points="149.6,233 133.6,232.7 148.5,257.3" fill="#d8ffff" stroke="#d8ffff"/>
<polygon points="166.3,232.8 149.6,233 148.5,257.3" fill="#d5ffff" stroke="#d5ffff"/>
<polygon points="149.6,233 166.3,232.8 157.4,205.1" fill="#f8ffff" stroke="#f8ffff"/>
<polygon points="136.8,211.3 149.6,233 157.4,205.1" fill="#fffff3" stroke="#fffff3"/>
<polygon points="101.9,211 91.6,183.8 84.6,207.6" fill="#ffffeb" stroke="#ffffeb"/>
<polygon points="112.3,182.3 101.9,211 119.8,207.1" fill="#ffffe0" stroke="#ffffe0"/>
<polygon points="101.9,211 112.3,182.3 91.6,183.8" fill="#ffffe1" stroke="#ffffe1"/>
<polygon points="131.7,262.1 115.6,261.7 120.6,288.3" fill="#f2ffff" stroke="#f2ffff"/>
<polygon points="133.6,232.7 131.7,262.1 148.5,257.3" fill="#d7ffff" stroke="#d7ffff"/>
<polygon points="346.4,211.1 335.2,231.4 351.9,235.1" fill="#81ffff" stroke="#81ffff"/>
<polygon points="335.2,231.4 335.8,261.5 351.9,235.1" fill="#7effff" stroke="#7effff"/>
<polygon points="335.2,231.4 318.5,256.8 335.8,261.5" fill="#7bffff" stroke="#7bffff"/>
<polygon points="318.5,256.8 335.2,231.4 318.1,232.5" fill="#77ffff" stroke="#77ffff"/>
<polygon points="318.5,256.8 308.9,284.9 326,286.6" fill="#a1ffff" stroke="#a1ffff"/>
<polygon points="311.8,305.6 308.9,284.9 286.8,306" fill="#d1ffff" stroke="#d1ffff"/>
<polygon points="308.9,284.9 311.8,305.6 326,286.6" fill="#bdffff" stroke="#bdffff"/>
<polygon points="361.9,375.5 381,380.5 377.2,359.8" fill="#ffffe3" stroke="#ffffe3"/>
<polygon points="357.8,356.3 361.9,375.5 377.2,359.8" fill="#ffffd4" stroke="#ffffd4"/>
<polygon points="361.9,375.5 361.4,397.3 381,380.5" fill="#ffffe6" stroke="#ffffe6"/>
<polygon points="361.4,397.3 361.9,375.5 342.2,391.5" fill="#ffffe6" stroke="#ffffe6"/>
<polygon points="315.2,368.4 340.6,372.7 339.6,351.6" fill="#fffff1" stroke="#fffff1"/>
<polygon points="361.9,375.5 340.6,372.7 342.2,391.5" fill="#ffffe0" stroke="#ffffe0"/>
<polygon points="340.6,372.7 316.5,386.4 342.2,391.5" fill="#fbffff" stroke="#fbffff"/>
<polygon points="340.6,372.7 315.2,368.4 316.5,386.4" fill="#eaffff" stroke="#eaffff"/>
<polygon points="340.6,372.7 357.8,356.3 339.6,351.6" fill="#ffffce" stroke="#ffffce"/>
<polygon points="340.6,372.7 361.9,375.5 357.8,356.3" fill="#ffffcd" stroke="#ffffcd"/>
<polygon points="264.3,364.6 291.5,360.2 261.9,348.4" fill="#e2ffff" stroke="#e2ffff"/>
<polygon points="291.5,360.2 293.1,340.3 261.9,348.4" fill="#e9ffff" stroke="#e9ffff"/>
<polygon points="291.5,360.2 264.3,364.6 288.3,379.1" fill="#c9ffff" stroke="#c9ffff"/>
<polygon points="315.2,368.4 291.5,360.2 288.3,379.1" fill="#c5ffff" stroke="#c5ffff"/>
<polygon points="291.5,360.2 315.2,368.4 313.7,349" fill="#e0ffff" stroke="#e0ffff"/>
<polygon points="293.1,340.3 291.5,360.2 313.7,349" fill="#e8ffff" stroke="#e8ffff"/>
<polygon points="289.1,322 293.1,340.3 311.9,328" fill="#efffff" stroke="#efffff"/>
<polygon points="289.1,322 311.8,305.6 286.8,306" fill="#e3ffff" stroke="#e3ffff"/>
<polygon points="311.8,305.6 289.1,322 311.9,328" fill="#e6ffff" stroke="#e6ffff"/>
<polygon points="261.9,315.5 289.1,322 286.8,306" fill="#f0ffff" stroke="#f0ffff"/>
<polygon points="157.1,286.1 174.5,286.2 166.6,261.9" fill="#ebffff" stroke="#ebffff"/>
<polygon points="174.5,286.2 183.6,259.7 166.6,261.9" fill="#e2ffff" stroke="#e2ffff"/>
<polygon points="166.6,261.9 183.6,259.7 166.3,232.8" fill="#d1ffff" stroke="#d1ffff"/>
<polygon points="183.6,259.7 183.4,231.9 166.3,232.8" fill="#d9ffff" stroke="#d9ffff"/>
<polygon points="183.6,259.7 202.9,261.7 200.9,236.1" fill="#e9ffff" stroke="#e9ffff"/>
<polygon points="183.4,231.9 183.6,259.7 200.9,236.1" fill="#e3ffff" stroke="#e3ffff"/>
<polygon points="237.9,278.5 212.6,280.8 240.8,297.8" fill="#ffffd6" stroke="#ffffd6"/>
<polygon points="264.4,278.3 237.9,278.5 240.8,297.8" fill="#ffffe8" stroke="#ffffe8"/>
<polygon points="217.7,257.5 237.9,278.5 238.7,259.3" fill="#ffffda" stroke="#ffffda"/>
<polygon points="237.9,278.5 217.7,257.5 212.6,280.8" fill="#ffffde" stroke="#ffffde"/>
<polygon points="237.9,278.5 262.8,259.3 238.7,259.3" fill="#ffffe7" stroke="#ffffe7"/>
<polygon points="262.8,259.3 237.9,278.5 264.4,278.3" fill="#fffff7" stroke="#fffff7"/>
<polygon points="212.6,280.8 215,304.3 240.8,297.8" fill="#ffffe0" stroke="#ffffe0"/>
<polygon points="215.3,189 190.7,187.7 194.6,207.7" fill="#ffffcc" stroke="#ffffcc"/>
<polygon points="169.4,186 190.7,187.7 188.4,166.9" fill="#ffffca" stroke="#ffffca"/>
<polygon points="190.7,187.7 176.1,205.1 194.6,207.7" fill="#ffffd1" stroke="#ffffd1"/>
<polygon points="176.1,205.1 190.7,187.7 169.4,186" fill="#ffffc9" stroke="#ffffc9"/>
<polygon points="188.4,166.9 210,171 212.8,152.3" fill="#ffffdd" stroke="#ffffdd"/>
<polygon points="190.7,187.7 210,171 188.4,166.9" fill="#ffffd2" stroke="#ffffd2"/>
<polygon points="210,171 190.7,187.7 215.3,189" fill="#ffffcb" stroke="#ffffcb"/>
<polygon points="237.9,314.8 261.9,315.5 240.8,297.8" fill="#ffffeb" stroke="#ffffeb"/>
<polygon points="237.9,314.8 237.7,331.4 261.9,315.5" fill="#fffff0" stroke="#fffff0"/>
<polygon points="215,304.3 237.9,314.8 240.8,297.8" fill="#ffffdd" stroke="#ffffdd"/>
<polygon points="186.9,326.5 209.4,321.7 188.7,305.8" fill="#d1ffff" stroke="#d1ffff"/>
<polygon points="209.4,321.7 215,304.3 188.7,305.8" fill="#e4ffff" stroke="#e4ffff"/>
<polygon points="237.9,314.8 209.4,321.7 237.7,331.4" fill="#fffff2" stroke="#fffff2"/>
<polygon points="209.4,321.7 237.9,314.8 215,304.3" fill="#fffff7" stroke="#fffff7"/>
<polygon points="163.7,373.2 189.5,367.7 162.6,350.2" fill="#d8ffff" stroke="#d8ffff"/>
<polygon points="371.5,311.2 374.4,336.3 390.8,310.4" fill="#d9ffff" stroke="#d9ffff"/>
<polygon points="374.4,336.3 371.5,311.2 356.9,334.3" fill="#f9ffff" stroke="#f9ffff"/>
<polygon points="371.5,311.2 352.4,307.6 356.9,334.3" fill="#f1ffff" stroke="#f1ffff"/>
<polygon points="345.2,289.5 335.8,261.5 326,286.6" fill="#a4ffff" stroke="#a4ffff"/>
<polygon points="334,307.2 311.8,305.6 311.9,328" fill="#deffff" stroke="#deffff"/>
<polygon points="311.8,305.6 334,307.2 326,286.6" fill="#c7ffff" stroke="#c7ffff"/>
<polygon points="334,307.2 345.2,289.5 326,286.6" fill="#bfffff" stroke="#bfffff"/>
<polygon points="345.2,289.5 334,307.2 352.4,307.6" fill="#d2ffff" stroke="#d2ffff"/>
<polygon points="404.6,256.9 419.9,237.3 402.3,232.6" fill="#fffff7" stroke="#fffff7"/>
<polygon points="434.2,337.6 444.4,312.9 427.2,309.8" fill="#fdffff" stroke="#fdffff"/>
<polygon points="414.6,340.7 434.2,337.6 427.2,309.8" fill="#f5ffff" stroke="#f5ffff"/>
<polygon points="434.2,337.6 414.6,340.7 420.8,360.8" fill="#f8ffff" stroke="#f8ffff"/>
<polygon points="210.5,117.8 209.5,135.6 238.9,128" fill="#ffff8f" stroke="#ffff8f"/>
<polygon points="239.3,144.8 209.5,135.6 212.8,152.3" fill="#ffff83" stroke="#ffff83"/>
<polygon points="238.9,128 209.5,135.6 239.3,144.8" fill="#ffff14" stroke="#ffff14"/>
<polygon points="209.5,135.6 185.4,147.4 212.8,152.3" fill="#fffff9" stroke="#fffff9"/>
<polygon points="213.1,98.4 210.5,117.8 237.1,112.3" fill="#ffffaa" stroke="#ffffaa"/>
<polygon points="210.5,117.8 213.1,98.4 182.7,110.6" fill="#caffff" stroke="#caffff"/>
<polygon points="213.1,98.4 188.6,89.1 182.7,110.6" fill="#bfffff" stroke="#bfffff"/>
<polygon points="185,53.6 160.3,63.8 188.5,69.6" fill="#f0ffff" stroke="#f0ffff"/>
<polygon points="160.3,63.8 159.3,84.5 188.5,69.6" fill="#e7ffff" stroke="#e7ffff"/>
<polygon points="159.3,84.5 160.3,63.8 137.1,77.2" fill="#efffff" stroke="#efffff"/>
<polygon points="434.2,156.8 420.8,133.6 416.2,157.9" fill="#fffffb" stroke="#fffffb"/>
<polygon points="420.8,133.6 401.3,135.5 416.2,157.9" fill="#f8ffff" stroke="#f8ffff"/>
<polygon points="401.3,135.5 420.8,133.6 404.5,112.4" fill="#f3ffff" stroke="#f3ffff"/>
<polygon points="368.1,233.3 361.9,206.1 351.9,235.1" fill="#9bffff" stroke="#9bffff"/>
<polygon points="361.9,206.1 352.5,182.9 346.4,211.1" fill="#92ffff" stroke="#92ffff"/>
<polygon points="352.5,182.9 361.9,206.1 372.6,185.2" fill="#96ffff" stroke="#96ffff"/>
<polygon points="355.3,159.7 352.5,182.9 372.6,185.2" fill="#91ffff" stroke="#91ffff"/>
<polygon points="352.5,182.9 355.3,159.7 336.7,166.2" fill="#d0ffff" stroke="#d0ffff"/>
<polygon points="387.9,180.6 398.4,160.8 377.2,158.4" fill="#bbffff" stroke="#bbffff"/>
<polygon points="401.3,135.5 398.4,160.8 416.2,157.9" fill="#ecffff" stroke="#ecffff"/>
<polygon points="398.4,160.8 401.3,135.5 377.2,158.4" fill="#c6ffff" stroke="#c6ffff"/>
<polygon points="398.4,160.8 407.6,181.1 416.2,157.9" fill="#f3ffff" stroke="#f3ffff"/>
<polygon points="407.6,181.1 398.4,160.8 387.9,180.6" fill="#dfffff" stroke="#dfffff"/>
<polygon points="417.1,207.3 399.2,210.4 402.3,232.6" fill="#ffffff" stroke="#ffffff"/>
<polygon points="407.6,181.1 399.2,210.4 417.1,207.3" fill="#feffff" stroke="#feffff"/>
<polygon points="399.2,210.4 407.6,181.1 387.9,180.6" fill="#e7ffff" stroke="#e7ffff"/>
<polygon points="436.7,231 433.7,208.1 417.1,207.3" fill="#ffffeb" stroke="#ffffeb"/>
<polygon points="341.2,63.8 316.5,53.6 319.6,73.2" fill="#ffff6d" stroke="#ffff6d"/>
<polygon points="344.3,83.5 341.2,63.8 319.6,73.2" fill="#ffff59" stroke="#ffff59"/>
<polygon points="341.2,63.8 344.3,83.5 364.4,77.2" fill="#ffffc1" stroke="#ffffc1"/>
<polygon points="344.3,83.5 360.6,95.1 364.4,77.2" fill="#ffffcf" stroke="#ffffcf"/>
<polygon points="364.4,77.2 360.6,95.1 385.6,93.4" fill="#f0ffff" stroke="#f0ffff"/>
<polygon points="361.5,117.9 360.6,95.1 338.9,102" fill="#ffff91" stroke="#ffff91"/>
<polygon points="360.6,95.1 344.3,83.5 338.9,102" fill="#ffff66" stroke="#ffff66"/>
<polygon points="360.6,95.1 382.9,114 385.6,93.4" fill="#d5ffff" stroke="#d5ffff"/>
<polygon points="382.9,114 360.6,95.1 361.5,117.9" fill="#efffff" stroke="#efffff"/>
<polygon points="235,61.4 237.4,43.1 210.9,46.6" fill="#fffffc" stroke="#fffffc"/>
<polygon points="212.4,63.4 235,61.4 210.9,46.6" fill="#feffff" stroke="#feffff"/>
<polygon points="289.8,116.7 315.8,126.5 317.2,110.1" fill="#680000" stroke="#680000"/>
<polygon points="315.8,126.5 337.5,119.8 317.2,110.1" fill="#d50000" stroke="#d50000"/>
<polygon points="315.8,126.5 311.7,144.9 340.6,143.9" fill="#ff2800" stroke="#ff2800"/>
<polygon points="337.5,119.8 315.8,126.5 340.6,143.9" fill="#ff6100" stroke="#ff6100"/>
<polygon points="238.9,128 261,111.8 237.1,112.3" fill="#ff6200" stroke="#ff6200"/>
<polygon points="290.7,98.2 289.8,116.7 317.2,110.1" fill="#5e0000" stroke="#5e0000"/>
<polygon points="290.7,98.2 261,111.8 289.8,116.7" fill="#6c0000" stroke="#6c0000"/>
<polygon points="286.5,170.7 287.7,150.7 265.5,164.2" fill="#ffd500" stroke="#ffd500"/>
<polygon points="287.7,150.7 311.5,164.8 311.7,144.9" fill="#ff4e00" stroke="#ff4e00"/>
<polygon points="287.7,150.7 286.5,170.7 311.5,164.8" fill="#ffc300" stroke="#ffc300"/>
<polygon points="50.2,287.1 66.7,285.4 63.9,263.9" fill="#fffffc" stroke="#fffffc"/>
<polygon points="86.2,287.5 66.7,285.4 73.7,310" fill="#ffffe9" stroke="#ffffe9"/>
<polygon points="66.7,285.4 57.1,312.9 73.7,310" fill="#ffffed" stroke="#ffffed"/>
<polygon points="66.7,285.4 50.2,287.1 57.1,312.9" fill="#fffff6" stroke="#fffff6"/>
<polygon points="91.6,183.8 76.3,179.5 84.6,207.6" fill="#ffffeb" stroke="#ffffeb"/>
<polygon points="76.3,179.5 69.2,205.8 84.6,207.6" fill="#fffff1" stroke="#fffff1"/>
<polygon points="69.2,205.8 76.3,179.5 57.1,181.5" fill="#fffff3" stroke="#fffff3"/>
<polygon points="85.9,159.1 76.3,179.5 91.6,183.8" fill="#ffffec" stroke="#ffffec"/>
<polygon points="67.3,156.8 85.9,159.1 80.7,133.6" fill="#fffff9" stroke="#fffff9"/>
<polygon points="76.3,179.5 67.3,156.8 57.1,181.5" fill="#fffff5" stroke="#fffff5"/>
<polygon points="67.3,156.8 76.3,179.5 85.9,159.1" fill="#fffff4" stroke="#fffff4"/>
<polygon points="168.3,160.9 146.2,158.2 148.3,186.4" fill="#ffffd2" stroke="#ffffd2"/>
<polygon points="148.3,186.4 146.2,158.2 129.9,184.5" fill="#ffffcb" stroke="#ffffcb"/>
<polygon points="146.2,158.2 126.5,159.2 129.9,184.5" fill="#ffffd8" stroke="#ffffd8"/>
<polygon points="146.2,158.2 143.2,136.6 126.5,159.2" fill="#ffffed" stroke="#ffffed"/>
<polygon points="143.2,136.6 146.2,158.2 164.1,143.1" fill="#fffff7" stroke="#fffff7"/>
<polygon points="146.2,158.2 168.3,160.9 164.1,143.1" fill="#ffffeb" stroke="#ffffeb"/>
<polygon points="238.6,216.4 260,198.2 239.1,197.9" fill="#ffffd1" stroke="#ffffd1"/>
<polygon points="238.6,216.4 263.5,214.8 260,198.2" fill="#ffffe7" stroke="#ffffe7"/>
<polygon points="238.6,216.4 220.5,231.7 238.7,235.1" fill="#ffffcf" stroke="#ffffcf"/>
<polygon points="238.6,216.4 238.7,235.1 262.8,235.1" fill="#ffffde" stroke="#ffffde"/>
<polygon points="263.5,214.8 238.6,216.4 262.8,235.1" fill="#ffffed" stroke="#ffffed"/>
<polygon points="213.4,210.9 238.6,216.4 239.1,197.9" fill="#ffffc2" stroke="#ffffc2"/>
<polygon points="220.5,231.7 238.6,216.4 213.4,210.9" fill="#ffffcb" stroke="#ffffcb"/>
<polygon points="364.4,417.2 342.9,411 341.2,430.6" fill="#fffffd" stroke="#fffffd"/>
<polygon points="316.5,404 342.9,411 342.2,391.5" fill="#f7ffff" stroke="#f7ffff"/>
<polygon points="342.9,411 361.4,397.3 342.2,391.5" fill="#fffff5" stroke="#fffff5"/>
<polygon points="361.4,397.3 342.9,411 364.4,417.2" fill="#fffff8" stroke="#fffff8"/>
<polygon points="342.9,411 315.4,422.9 341.2,430.6" fill="#fcffff" stroke="#fcffff"/>
<polygon points="315.4,422.9 342.9,411 316.5,404" fill="#f3ffff" stroke="#f3ffff"/>
<polygon points="326.2,209.9 306.3,207 318.1,232.5" fill="#88ffff" stroke="#88ffff"/>
<polygon points="335.2,231.4 326.2,209.9 318.1,232.5" fill="#7affff" stroke="#7affff"/>
<polygon points="326.2,209.9 335.2,231.4 346.4,211.1" fill="#7fffff" stroke="#7fffff"/>
<polygon points="306.3,207 326.2,209.9 312,189.4" fill="#9dffff" stroke="#9dffff"/>
<polygon points="284,257 262.8,259.3 264.4,278.3" fill="#e9ffff" stroke="#e9ffff"/>
<polygon points="284,257 282,236.5 262.8,259.3" fill="#d9ffff" stroke="#d9ffff"/>
<polygon points="282,236.5 284,257 299.3,233" fill="#baffff" stroke="#baffff"/>
<polygon points="361.4,397.3 385.6,401 381,380.5" fill="#fffff3" stroke="#fffff3"/>
<polygon points="385.6,401 361.4,397.3 364.4,417.2" fill="#fffff7" stroke="#fffff7"/>
<polygon points="381,380.5 385.6,401 404.5,382" fill="#fffffa" stroke="#fffffa"/>
<polygon points="315.4,422.9 316.5,440.8 341.2,430.6" fill="#fdffff" stroke="#fdffff"/>
<polygon points="291.1,412.7 315.4,422.9 316.5,404" fill="#e8ffff" stroke="#e8ffff"/>
<polygon points="291.1,412.7 262,399 261.3,416.6" fill="#f2ffff" stroke="#f2ffff"/>
<polygon points="293.1,340.3 263.3,332.2 261.9,348.4" fill="#f4ffff" stroke="#f4ffff"/>
<polygon points="289.1,322 263.3,332.2 293.1,340.3" fill="#f3ffff" stroke="#f3ffff"/>
<polygon points="263.3,332.2 289.1,322 261.9,315.5" fill="#f7ffff" stroke="#f7ffff"/>
<polygon points="263.3,332.2 237.7,331.4 261.9,348.4" fill="#fdffff" stroke="#fdffff"/>
<polygon points="237.7,331.4 263.3,332.2 261.9,315.5" fill="#fffffc" stroke="#fffffc"/>
<polygon points="192.5,283.2 212.6,280.8 202.9,261.7" fill="#fcffff" stroke="#fcffff"/>
<polygon points="183.6,259.7 192.5,283.2 202.9,261.7" fill="#edffff" stroke="#edffff"/>
<polygon points="192.5,283.2 183.6,259.7 174.5,286.2" fill="#ebffff" stroke="#ebffff"/>
<polygon points="192.5,283.2 174.5,286.2 188.7,305.8" fill="#ebffff" stroke="#ebffff"/>
<polygon points="215,304.3 192.5,283.2 188.7,305.8" fill="#ecffff" stroke="#ecffff"/>
<polygon points="192.5,283.2 215,304.3 212.6,280.8" fill="#fffffe" stroke="#fffffe"/>
<polygon points="125.4,336.3 112.7,311.1 104.1,335.1" fill="#fffff4" stroke="#fffff4"/>
<polygon points="125.4,336.3 120.2,356.2 139.8,354.2" fill="#dcffff" stroke="#dcffff"/>
<polygon points="120.2,356.2 125.4,336.3 104.1,335.1" fill="#ecffff" stroke="#ecffff"/>
<polygon points="138.5,287.9 149.8,312.4 157.1,286.1" fill="#fbffff" stroke="#fbffff"/>
<polygon points="138.5,287.9 131.7,262.1 120.6,288.3" fill="#faffff" stroke="#faffff"/>
<polygon points="138.5,287.9 157.1,286.1 148.5,257.3" fill="#efffff" stroke="#efffff"/>
<polygon points="131.7,262.1 138.5,287.9 148.5,257.3" fill="#e8ffff" stroke="#e8ffff"/>
<polygon points="238.1,179.3 215.3,189 239.1,197.9" fill="#ffffae" stroke="#ffffae"/>
<polygon points="238.1,179.3 210,171 215.3,189" fill="#ffffb2" stroke="#ffffb2"/>
<polygon points="238.1,179.3 267.4,180.1 265.5,164.2" fill="#ffff8e" stroke="#ffff8e"/>
<polygon points="260,198.2 238.1,179.3 239.1,197.9" fill="#ffffc6" stroke="#ffffc6"/>
<polygon points="267.4,180.1 238.1,179.3 260,198.2" fill="#ffffc2" stroke="#ffffc2"/>
<polygon points="182.6,420.9 161.2,411.5 160.3,430.6" fill="#fcffff" stroke="#fcffff"/>
<polygon points="189.5,367.7 185.9,347.8 162.6,350.2" fill="#d2ffff" stroke="#d2ffff"/>
<polygon points="185.9,347.8 166.7,332 162.6,350.2" fill="#d2ffff" stroke="#d2ffff"/>
<polygon points="166.7,332 185.9,347.8 186.9,326.5" fill="#ccffff" stroke="#ccffff"/>
<polygon points="188.9,386.3 163.7,373.2 158.9,391.7" fill="#e7ffff" stroke="#e7ffff"/>
<polygon points="188.9,386.3 189.5,367.7 163.7,373.2" fill="#e4ffff" stroke="#e4ffff"/>
<polygon points="398.1,288 404.6,256.9 387.8,257.4" fill="#f2ffff" stroke="#f2ffff"/>
<polygon points="408.4,313.6 398.1,288 390.8,310.4" fill="#d7ffff" stroke="#d7ffff"/>
<polygon points="345.2,289.5 352.6,257.5 335.8,261.5" fill="#9cffff" stroke="#9cffff"/>
<polygon points="335.8,261.5 352.6,257.5 351.9,235.1" fill="#8cffff" stroke="#8cffff"/>
<polygon points="352.6,257.5 368.1,233.3 351.9,235.1" fill="#9affff" stroke="#9affff"/>
<polygon points="336.1,330.1 334,307.2 311.9,328" fill="#f0ffff" stroke="#f0ffff"/>
<polygon points="339.6,351.6 336.1,330.1 313.7,349" fill="#fffff0" stroke="#fffff0"/>
<polygon points="336.1,330.1 311.9,328 313.7,349" fill="#faffff" stroke="#faffff"/>
<polygon points="336.1,330.1 339.6,351.6 356.9,334.3" fill="#ffffdd" stroke="#ffffdd"/>
<polygon points="352.4,307.6 336.1,330.1 356.9,334.3" fill="#fffff9" stroke="#fffff9"/>
<polygon points="334,307.2 336.1,330.1 352.4,307.6" fill="#edffff" stroke="#edffff"/>
<polygon points="419.9,237.3 419.6,264.1 438.6,257.7" fill="#ffffe9" stroke="#ffffe9"/>
<polygon points="404.6,256.9 419.6,264.1 419.9,237.3" fill="#fffff0" stroke="#fffff0"/>
<polygon points="398.1,288 419.6,264.1 404.6,256.9" fill="#fffffd" stroke="#fffffd"/>
<polygon points="209.5,135.6 183.3,127.6 185.4,147.4" fill="#ecffff" stroke="#ecffff"/>
<polygon points="162.2,123.4 183.3,127.6 182.7,110.6" fill="#cfffff" stroke="#cfffff"/>
<polygon points="183.3,127.6 210.5,117.8 182.7,110.6" fill="#c9ffff" stroke="#c9ffff"/>
<polygon points="183.3,127.6 209.5,135.6 210.5,117.8" fill="#e1ffff" stroke="#e1ffff"/>
<polygon points="183.3,127.6 162.2,123.4 164.1,143.1" fill="#e6ffff" stroke="#e6ffff"/>
<polygon points="185.4,147.4 183.3,127.6 164.1,143.1" fill="#f2ffff" stroke="#f2ffff"/>
<polygon points="425.2,180.1 407.6,181.1 417.1,207.3" fill="#fffff7" stroke="#fffff7"/>
<polygon points="433.7,208.1 425.2,180.1 417.1,207.3" fill="#ffffef" stroke="#ffffef"/>
<polygon points="425.2,180.1 433.7,208.1 444.4,181.5" fill="#fffff2" stroke="#fffff2"/>
<polygon points="407.6,181.1 425.2,180.1 416.2,157.9" fill="#fffffc" stroke="#fffffc"/>
<polygon points="425.2,180.1 434.2,156.8 416.2,157.9" fill="#fffff8" stroke="#fffff8"/>
<polygon points="425.2,180.1 444.4,181.5 434.2,156.8" fill="#fffff5" stroke="#fffff5"/>
<polygon points="368.1,233.3 380.9,208.7 361.9,206.1" fill="#adffff" stroke="#adffff"/>
<polygon points="361.9,206.1 380.9,208.7 372.6,185.2" fill="#a8ffff" stroke="#a8ffff"/>
<polygon points="380.9,208.7 387.9,180.6 372.6,185.2" fill="#b6ffff" stroke="#b6ffff"/>
<polygon points="380.9,208.7 399.2,210.4 387.9,180.6" fill="#d4ffff" stroke="#d4ffff"/>
<polygon points="433.7,208.1 451.3,207.3 444.4,181.5" fill="#fffff3" stroke="#fffff3"/>
<polygon points="451.3,207.3 436.7,231 454.8,233.8" fill="#fffff3" stroke="#fffff3"/>
<polygon points="451.3,207.3 433.7,208.1 436.7,231" fill="#ffffef" stroke="#ffffef"/>
<polygon points="237.4,43.1 263.6,59.7 264.1,43.1" fill="#ffffdb" stroke="#ffffdb"/>
<polygon points="235,61.4 263.6,59.7 237.4,43.1" fill="#ffffd9" stroke="#ffffd9"/>
<polygon points="263.6,59.7 290.6,46.6 264.1,43.1" fill="#ffffb6" stroke="#ffffb6"/>
<polygon points="240.3,76.2 235,61.4 212.4,63.4" fill="#ffffe3" stroke="#ffffe3"/>
<polygon points="263.6,59.7 240.3,76.2 266.8,76.7" fill="#ffff4e" stroke="#ffff4e"/>
<polygon points="240.3,76.2 263.6,59.7 235,61.4" fill="#ffffa9" stroke="#ffffa9"/>
<polygon points="315.4,90.3 290.7,98.2 317.2,110.1" fill="#930000" stroke="#930000"/>
<polygon points="315.4,90.3 317.2,110.1 338.9,102" fill="#f40000" stroke="#f40000"/>
<polygon points="315.4,90.3 344.3,83.5 319.6,73.2" fill="#ffb900" stroke="#ffb900"/>
<polygon points="344.3,83.5 315.4,90.3 338.9,102" fill="#ffad00" stroke="#ffad00"/>
<polygon points="290.7,80.5 315.4,90.3 319.6,73.2" fill="#ff2e00" stroke="#ff2e00"/>
<polygon points="315.4,90.3 290.7,80.5 290.7,98.2" fill="#be0000" stroke="#be0000"/>
<polygon points="261,111.8 265.9,129.1 289.8,116.7" fill="#9a0000" stroke="#9a0000"/>
<polygon points="265.9,129.1 261,111.8 238.9,128" fill="#ff0e00" stroke="#ff0e00"/>
<polygon points="288.7,134.8 287.7,150.7 311.7,144.9" fill="#c70000" stroke="#c70000"/>
<polygon points="315.8,126.5 288.7,134.8 311.7,144.9" fill="#9e0000" stroke="#9e0000"/>
<polygon points="288.7,134.8 315.8,126.5 289.8,116.7" fill="#620000" stroke="#620000"/>
<polygon points="265.9,129.1 288.7,134.8 289.8,116.7" fill="#720000" stroke="#720000"/>
<polygon points="99.4,263.9 80.6,257.2 86.2,287.5" fill="#fdffff" stroke="#fdffff"/>
<polygon points="66.7,285.4 80.6,257.2 63.9,263.9" fill="#feffff" stroke="#feffff"/>
<polygon points="80.6,257.2 66.7,285.4 86.2,287.5" fill="#fffff9" stroke="#fffff9"/>
<polygon points="103.5,288.5 99.4,263.9 86.2,287.5" fill="#fffff4" stroke="#fffff4"/>
<polygon points="103.5,288.5 112.7,311.1 120.6,288.3" fill="#ffffe4" stroke="#ffffe4"/>
<polygon points="115.6,261.7 103.5,288.5 120.6,288.3" fill="#fffffb" stroke="#fffffb"/>
<polygon points="99.4,263.9 103.5,288.5 115.6,261.7" fill="#fbffff" stroke="#fbffff"/>
<polygon points="112.7,311.1 103.5,288.5 93.2,313.6" fill="#ffffd8" stroke="#ffffd8"/>
<polygon points="103.5,288.5 86.2,287.5 93.2,313.6" fill="#ffffdd" stroke="#ffffdd"/>
<polygon points="352.5,182.9 329.9,182.2 346.4,211.1" fill="#96ffff" stroke="#96ffff"/>
<polygon points="329.9,182.2 326.2,209.9 346.4,211.1" fill="#8fffff" stroke="#8fffff"/>
<polygon points="326.2,209.9 329.9,182.2 312,189.4" fill="#b0ffff" stroke="#b0ffff"/>
<polygon points="329.9,182.2 352.5,182.9 336.7,166.2" fill="#d7ffff" stroke="#d7ffff"/>
<polygon points="329.9,182.2 311.5,164.8 312,189.4" fill="#ffffe4" stroke="#ffffe4"/>
<polygon points="311.5,164.8 329.9,182.2 336.7,166.2" fill="#ffffbd" stroke="#ffffbd"/>
<polygon points="287.9,281.6 284,257 264.4,278.3" fill="#dbffff" stroke="#dbffff"/>
<polygon points="308.9,284.9 287.9,281.6 286.8,306" fill="#d1ffff" stroke="#d1ffff"/>
<polygon points="287.9,281.6 264.8,295.6 286.8,306" fill="#e6ffff" stroke="#e6ffff"/>
<polygon points="264.8,295.6 287.9,281.6 264.4,278.3" fill="#ecffff" stroke="#ecffff"/>
<polygon points="291.1,412.7 290,431.6 315.4,422.9" fill="#f2ffff" stroke="#f2ffff"/>
<polygon points="316.5,440.8 290,431.6 290.6,447.8" fill="#fdffff" stroke="#fdffff"/>
<polygon points="290,431.6 316.5,440.8 315.4,422.9" fill="#fbffff" stroke="#fbffff"/>
<polygon points="290,431.6 266.2,434.4 290.6,447.8" fill="#fffffe" stroke="#fffffe"/>
<polygon points="266.2,434.4 290,431.6 261.3,416.6" fill="#fffff6" stroke="#fffff6"/>
<polygon points="290,431.6 291.1,412.7 261.3,416.6" fill="#f6ffff" stroke="#f6ffff"/>
<polygon points="291.1,412.7 288.5,395.4 262,399" fill="#d3ffff" stroke="#d3ffff"/>
<polygon points="264,383.1 288.5,395.4 288.3,379.1" fill="#b9ffff" stroke="#b9ffff"/>
<polygon points="262,399 288.5,395.4 264,383.1" fill="#ceffff" stroke="#ceffff"/>
<polygon points="288.5,395.4 316.5,386.4 288.3,379.1" fill="#b5ffff" stroke="#b5ffff"/>
<polygon points="288.5,395.4 316.5,404 316.5,386.4" fill="#c7ffff" stroke="#c7ffff"/>
<polygon points="288.5,395.4 291.1,412.7 316.5,404" fill="#d1ffff" stroke="#d1ffff"/>
<polygon points="162.6,350.2 147.7,336.2 139.8,354.2" fill="#dbffff" stroke="#dbffff"/>
<polygon points="166.7,332 147.7,336.2 162.6,350.2" fill="#dcffff" stroke="#dcffff"/>
<polygon points="147.7,336.2 125.4,336.3 139.8,354.2" fill="#e3ffff" stroke="#e3ffff"/>
<polygon points="147.7,336.2 166.7,332 149.8,312.4" fill="#e8ffff" stroke="#e8ffff"/>
<polygon points="166.7,332 170.6,310.3 149.8,312.4" fill="#e7ffff" stroke="#e7ffff"/>
<polygon points="174.5,286.2 170.6,310.3 188.7,305.8" fill="#e7ffff" stroke="#e7ffff"/>
<polygon points="170.6,310.3 186.9,326.5 188.7,305.8" fill="#d7ffff" stroke="#d7ffff"/>
<polygon points="170.6,310.3 166.7,332 186.9,326.5" fill="#d7ffff" stroke="#d7ffff"/>
<polygon points="170.6,310.3 174.5,286.2 157.1,286.1" fill="#f0ffff" stroke="#f0ffff"/>
<polygon points="149.8,312.4 170.6,310.3 157.1,286.1" fill="#f2ffff" stroke="#f2ffff"/>
<polygon points="125.4,336.3 129.9,310.3 112.7,311.1" fill="#fffff1" stroke="#fffff1"/>
<polygon points="138.5,287.9 129.9,310.3 149.8,312.4" fill="#fffffb" stroke="#fffffb"/>
<polygon points="129.9,310.3 147.7,336.2 149.8,312.4" fill="#f9ffff" stroke="#f9ffff"/>
<polygon points="147.7,336.2 129.9,310.3 125.4,336.3" fill="#f8ffff" stroke="#f8ffff"/>
<polygon points="112.7,311.1 129.9,310.3 120.6,288.3" fill="#ffffe8" stroke="#ffffe8"/>
<polygon points="129.9,310.3 138.5,287.9 120.6,288.3" fill="#fffff4" stroke="#fffff4"/>
<polygon points="210,171 234.7,163.5 212.8,152.3" fill="#ffffad" stroke="#ffffad"/>
<polygon points="238.1,179.3 234.7,163.5 210,171" fill="#ffff94" stroke="#ffff94"/>
<polygon points="234.7,163.5 239.3,144.8 212.8,152.3" fill="#ffff3f" stroke="#ffff3f"/>
<polygon points="239.3,144.8 234.7,163.5 265.5,164.2" fill="#ffff09" stroke="#ffff09"/>
<polygon points="234.7,163.5 238.1,179.3 265.5,164.2" fill="#ffff5c" stroke="#ffff5c"/>
<polygon points="237.2,366.4 261.9,348.4 235.8,347.5" fill="#f6ffff" stroke="#f6ffff"/>
<polygon points="237.2,366.4 264.3,364.6 261.9,348.4" fill="#edffff" stroke="#edffff"/>
<polygon points="237.2,366.4 264,383.1 264.3,364.6" fill="#e4ffff" stroke="#e4ffff"/>
<polygon points="237.2,366.4 235,382 264,383.1" fill="#f0ffff" stroke="#f0ffff"/>
<polygon points="238.6,399.4 235,382 209.1,394.6" fill="#fffffa" stroke="#fffffa"/>
<polygon points="261.3,416.6 238.6,399.4 240.5,418.5" fill="#ffffcc" stroke="#ffffcc"/>
<polygon points="262,399 238.6,399.4 261.3,416.6" fill="#ffffe8" stroke="#ffffe8"/>
<polygon points="238.6,399.4 262,399 264,383.1" fill="#f7ffff" stroke="#f7ffff"/>
<polygon points="235,382 238.6,399.4 264,383.1" fill="#fbffff" stroke="#fbffff"/>
<polygon points="209.8,412.4 234.3,434.2 240.5,418.5" fill="#ffffd7" stroke="#ffffd7"/>
<polygon points="238.6,399.4 209.8,412.4 240.5,418.5" fill="#ffffdc" stroke="#ffffdc"/>
<polygon points="209.8,412.4 238.6,399.4 209.1,394.6" fill="#fffff6" stroke="#fffff6"/>
<polygon points="185,440.8 182.6,420.9 160.3,430.6" fill="#feffff" stroke="#feffff"/>
<polygon points="209.3,341.8 209.4,321.7 186.9,326.5" fill="#ccffff" stroke="#ccffff"/>
<polygon points="185.9,347.8 209.3,341.8 186.9,326.5" fill="#c6ffff" stroke="#c6ffff"/>
<polygon points="237.7,331.4 209.3,341.8 235.8,347.5" fill="#f8ffff" stroke="#f8ffff"/>
<polygon points="209.4,321.7 209.3,341.8 237.7,331.4" fill="#eeffff" stroke="#eeffff"/>
<polygon points="380.5,286.5 371.5,311.2 390.8,310.4" fill="#d1ffff" stroke="#d1ffff"/>
<polygon points="398.1,288 380.5,286.5 390.8,310.4" fill="#d7ffff" stroke="#d7ffff"/>
<polygon points="380.5,286.5 398.1,288 387.8,257.4" fill="#e2ffff" stroke="#e2ffff"/>
<polygon points="416.3,287.4 419.6,264.1 398.1,288" fill="#fffffe" stroke="#fffffe"/>
<polygon points="416.3,287.4 408.4,313.6 427.2,309.8" fill="#f2ffff" stroke="#f2ffff"/>
<polygon points="416.3,287.4 398.1,288 408.4,313.6" fill="#ebffff" stroke="#ebffff"/>
<polygon points="387.5,234.5 380.9,208.7 368.1,233.3" fill="#c5ffff" stroke="#c5ffff"/>
<polygon points="387.5,234.5 368.1,233.3 387.8,257.4" fill="#d1ffff" stroke="#d1ffff"/>
<polygon points="399.2,210.4 387.5,234.5 402.3,232.6" fill="#eeffff" stroke="#eeffff"/>
<polygon points="380.9,208.7 387.5,234.5 399.2,210.4" fill="#dcffff" stroke="#dcffff"/>
<polygon points="387.5,234.5 404.6,256.9 402.3,232.6" fill="#f5ffff" stroke="#f5ffff"/>
<polygon points="404.6,256.9 387.5,234.5 387.8,257.4" fill="#edffff" stroke="#edffff"/>
<polygon points="209.4,82.6 240.3,76.2 212.4,63.4" fill="#fffffd" stroke="#fffffd"/>
<polygon points="213.1,98.4 209.4,82.6 188.6,89.1" fill="#d1ffff" stroke="#d1ffff"/>
<polygon points="209.4,82.6 212.4,63.4 188.5,69.6" fill="#e7ffff" stroke="#e7ffff"/>
<polygon points="188.6,89.1 209.4,82.6 188.5,69.6" fill="#d6ffff" stroke="#d6ffff"/>
<polygon points="235.5,94.3 213.1,98.4 237.1,112.3" fill="#ffff69" stroke="#ffff69"/>
<polygon points="235.5,94.3 209.4,82.6 213.1,98.4" fill="#ffffdf" stroke="#ffffdf"/>
<polygon points="209.4,82.6 235.5,94.3 240.3,76.2" fill="#ffffab" stroke="#ffffab"/>
<polygon points="316.5,53.6 288.2,63.8 319.6,73.2" fill="#ffff27" stroke="#ffff27"/>
<polygon points="288.2,63.8 290.7,80.5 319.6,73.2" fill="#ff9100" stroke="#ff9100"/>
<polygon points="290.6,46.6 288.2,63.8 316.5,53.6" fill="#ffff70" stroke="#ffff70"/>
<polygon points="263.6,59.7 288.2,63.8 290.6,46.6" fill="#ffff6b" stroke="#ffff6b"/>
<polygon points="288.2,63.8 263.6,59.7 266.8,76.7" fill="#ffff23" stroke="#ffff23"/>
<polygon points="290.7,80.5 288.2,63.8 266.8,76.7" fill="#ff9700" stroke="#ff9700"/>
<polygon points="287.7,150.7 261.7,144.9 265.5,164.2" fill="#ff8700" stroke="#ff8700"/>
<polygon points="261.7,144.9 239.3,144.8 265.5,164.2" fill="#ffcc00" stroke="#ffcc00"/>
<polygon points="288.7,134.8 261.7,144.9 287.7,150.7" fill="#e40000" stroke="#e40000"/>
<polygon points="261.7,144.9 288.7,134.8 265.9,129.1" fill="#d60000" stroke="#d60000"/>
<polygon points="261.7,144.9 238.9,128 239.3,144.8" fill="#ff8d00" stroke="#ff8d00"/>
<polygon points="261.7,144.9 265.9,129.1 238.9,128" fill="#ff3700" stroke="#ff3700"/>
<polygon points="98.6,237.4 80.6,257.2 99.4,263.9" fill="#f0ffff" stroke="#f0ffff"/>
<polygon points="98.6,237.4 99.4,263.9 115.6,261.7" fill="#ebffff" stroke="#ebffff"/>
<polygon points="98.6,237.4 101.9,211 84.6,207.6" fill="#fffffb" stroke="#fffffb"/>
<polygon points="300,262.8 287.9,281.6 308.9,284.9" fill="#baffff" stroke="#baffff"/>
<polygon points="287.9,281.6 300,262.8 284,257" fill="#c1ffff" stroke="#c1ffff"/>
<polygon points="300,262.8 308.9,284.9 318.5,256.8" fill="#9fffff" stroke="#9fffff"/>
<polygon points="300,262.8 318.5,256.8 299.3,233" fill="#94ffff" stroke="#94ffff"/>
<polygon points="284,257 300,262.8 299.3,233" fill="#adffff" stroke="#adffff"/>
<polygon points="235,382 208.8,378.2 209.1,394.6" fill="#f8ffff" stroke="#f8ffff"/>
<polygon points="237.2,366.4 208.8,378.2 235,382" fill="#f4ffff" stroke="#f4ffff"/>
<polygon points="208.8,378.2 188.9,386.3 209.1,394.6" fill="#f3ffff" stroke="#f3ffff"/>
<polygon points="188.9,386.3 208.8,378.2 189.5,367.7" fill="#e9ffff" stroke="#e9ffff"/>
<polygon points="209.8,412.4 187.4,404.6 182.6,420.9" fill="#fdffff" stroke="#fdffff"/>
<polygon points="182.6,420.9 187.4,404.6 161.2,411.5" fill="#fbffff" stroke="#fbffff"/>
<polygon points="188.9,386.3 187.4,404.6 209.1,394.6" fill="#f7ffff" stroke="#f7ffff"/>
<polygon points="187.4,404.6 209.8,412.4 209.1,394.6" fill="#fdffff" stroke="#fdffff"/>
<polygon points="161.2,411.5 187.4,404.6 158.9,391.7" fill="#f5ffff" stroke="#f5ffff"/>
<polygon points="187.4,404.6 188.9,386.3 158.9,391.7" fill="#f2ffff" stroke="#f2ffff"/>
<polygon points="207.3,430.1 209.8,412.4 182.6,420.9" fill="#fffffe" stroke="#fffffe"/>
<polygon points="185,440.8 207.3,430.1 182.6,420.9" fill="#ffffff" stroke="#ffffff"/>
<polygon points="207.3,430.1 185,440.8 210.9,447.8" fill="#fffffe" stroke="#fffffe"/>
<polygon points="234.3,434.2 207.3,430.1 210.9,447.8" fill="#fffff3" stroke="#fffff3"/>
<polygon points="209.8,412.4 207.3,430.1 234.3,434.2" fill="#ffffef" stroke="#ffffef"/>
<polygon points="212.1,360.5 185.9,347.8 189.5,367.7" fill="#d5ffff" stroke="#d5ffff"/>
<polygon points="212.1,360.5 209.3,341.8 185.9,347.8" fill="#d0ffff" stroke="#d0ffff"/>
<polygon points="208.8,378.2 212.1,360.5 189.5,367.7" fill="#e3ffff" stroke="#e3ffff"/>
<polygon points="212.1,360.5 208.8,378.2 237.2,366.4" fill="#edffff" stroke="#edffff"/>
<polygon points="212.1,360.5 237.2,366.4 235.8,347.5" fill="#f1ffff" stroke="#f1ffff"/>
<polygon points="209.3,341.8 212.1,360.5 235.8,347.5" fill="#e6ffff" stroke="#e6ffff"/>
<polygon points="365.4,283.4 352.6,257.5 345.2,289.5" fill="#b3ffff" stroke="#b3ffff"/>
<polygon points="365.4,283.4 345.2,289.5 352.4,307.6" fill="#c9ffff" stroke="#c9ffff"/>
<polygon points="371.5,311.2 365.4,283.4 352.4,307.6" fill="#d5ffff" stroke="#d5ffff"/>
<polygon points="380.5,286.5 365.4,283.4 371.5,311.2" fill="#d1ffff" stroke="#d1ffff"/>
<polygon points="433.7,288.2 416.3,287.4 427.2,309.8" fill="#fffffb" stroke="#fffffb"/>
<polygon points="444.4,312.9 433.7,288.2 427.2,309.8" fill="#fffffb" stroke="#fffffb"/>
<polygon points="451.3,287.1 433.7,288.2 444.4,312.9" fill="#fffff7" stroke="#fffff7"/>
<polygon points="416.3,287.4 433.7,288.2 419.6,264.1" fill="#fffff2" stroke="#fffff2"/>
<polygon points="433.7,288.2 451.3,287.1 438.6,257.7" fill="#fffff1" stroke="#fffff1"/>
<polygon points="419.6,264.1 433.7,288.2 438.6,257.7" fill="#ffffec" stroke="#ffffec"/>
<polygon points="240.3,76.2 261.9,93.8 266.8,76.7" fill="#ffee00" stroke="#ffee00"/>
<polygon points="235.5,94.3 261.9,93.8 240.3,76.2" fill="#ffff0e" stroke="#ffff0e"/>
<polygon points="290.7,98.2 261.9,93.8 261,111.8" fill="#c40000" stroke="#c40000"/>
<polygon points="261,111.8 261.9,93.8 237.1,112.3" fill="#ff4400" stroke="#ff4400"/>
<polygon points="261.9,93.8 235.5,94.3 237.1,112.3" fill="#ffc100" stroke="#ffc100"/>
<polygon points="261.9,93.8 290.7,80.5 266.8,76.7" fill="#ff4300" stroke="#ff4300"/>
<polygon points="290.7,80.5 261.9,93.8 290.7,98.2" fill="#ce0000" stroke="#ce0000"/>
<polygon points="114.6,235.2 98.6,237.4 115.6,261.7" fill="#e8ffff" stroke="#e8ffff"/>
<polygon points="114.6,235.2 131.7,262.1 133.6,232.7" fill="#dfffff" stroke="#dfffff"/>
<polygon points="131.7,262.1 114.6,235.2 115.6,261.7" fill="#e1ffff" stroke="#e1ffff"/>
<polygon points="114.6,235.2 133.6,232.7 119.8,207.1" fill="#f9ffff" stroke="#f9ffff"/>
<polygon points="101.9,211 114.6,235.2 119.8,207.1" fill="#fffff8" stroke="#fffff8"/>
<polygon points="98.6,237.4 114.6,235.2 101.9,211" fill="#f8ffff" stroke="#f8ffff"/>
<polygon points="98.6,237.4 80.5,237.7 80.6,257.2" fill="#f3ffff" stroke="#f3ffff"/>
<polygon points="80.5,237.7 63,230.1 63.9,263.9" fill="#f8ffff" stroke="#f8ffff"/>
<polygon points="80.6,257.2 80.5,237.7 63.9,263.9" fill="#f7ffff" stroke="#f7ffff"/>
<polygon points="63,230.1 80.5,237.7 84.6,207.6" fill="#feffff" stroke="#feffff"/>
<polygon points="80.5,237.7 98.6,237.4 84.6,207.6" fill="#fbffff" stroke="#fbffff"/>
<polygon points="365.4,283.4 368,263.5 352.6,257.5" fill="#b6ffff" stroke="#b6ffff"/>
<polygon points="368.1,233.3 368,263.5 387.8,257.4" fill="#c6ffff" stroke="#c6ffff"/>
<polygon points="352.6,257.5 368,263.5 368.1,233.3" fill="#acffff" stroke="#acffff"/>
<polygon points="368,263.5 380.5,286.5 387.8,257.4" fill="#d4ffff" stroke="#d4ffff"/>
<polygon points="368,263.5 365.4,283.4 380.5,286.5" fill="#cbffff" stroke="#cbffff"/>
<use href="#mesh"/>
<circle cx="250.75" cy="247.2" r="204.5" fill="none" stroke="#000" stroke-width="0.6"/>
<path d="M46.5 42.3 V451.5 H456" fill="none" stroke="#000" stroke-width="1"/><path d="M46.5 410.8h4M87.1 451.5v-4M46.5 369.9h4M128 451.5v-4M46.5 329h4M168.9 451.5v-4M46.5 288.1h4M209.8 451.5v-4M46.5 247.2h4M250.8 451.5v-4M46.5 206.3h4M291.6 451.5v-4M46.5 165.4h4M332.6 451.5v-4M46.5 124.5h4M373.5 451.5v-4M46.5 83.6h4M414.4 451.5v-4" stroke="#000" stroke-width="1"/><g class="tl"><text x="43.3" y="413.8" text-anchor="end">-0.8</text><text x="87.1" y="465.0" text-anchor="middle">-0.8</text><text x="43.3" y="372.9" text-anchor="end">-0.6</text><text x="128" y="465.0" text-anchor="middle">-0.6</text><text x="43.3" y="332" text-anchor="end">-0.4</text><text x="168.9" y="465.0" text-anchor="middle">-0.4</text><text x="43.3" y="291.1" text-anchor="end">-0.2</text><text x="209.8" y="465.0" text-anchor="middle">-0.2</text><text x="43.3" y="250.2" text-anchor="end">0</text><text x="250.8" y="465.0" text-anchor="middle">0</text><text x="43.3" y="209.3" text-anchor="end">0.2</text><text x="291.6" y="465.0" text-anchor="middle">0.2</text><text x="43.3" y="168.4" text-anchor="end">0.4</text><text x="332.6" y="465.0" text-anchor="middle">0.4</text><text x="43.3" y="127.5" text-anchor="end">0.6</text><text x="373.5" y="465.0" text-anchor="middle">0.6</text><text x="43.3" y="86.6" text-anchor="end">0.8</text><text x="414.4" y="465.0" text-anchor="middle">0.8</text></g>
<line x1="263.9" y1="43.1" x2="237.6" y2="43.1" stroke="#00b400" stroke-width="2.6"/><line x1="184.8" y1="53.6" x2="160.5" y2="63.7" stroke="#005a00" stroke-width="2.6"/><line x1="115.8" y1="93.6" x2="97.1" y2="112.2" stroke="#005a00" stroke-width="2.6"/><line x1="67.3" y1="156.9" x2="57.2" y2="181.3" stroke="#005a00" stroke-width="2.6"/><line x1="46.7" y1="234" x2="46.7" y2="260.4" stroke="#005a00" stroke-width="2.6"/><line x1="57.2" y1="313.1" x2="67.3" y2="337.5" stroke="#005a00" stroke-width="2.6"/><line x1="97.1" y1="382.2" x2="115.8" y2="400.8" stroke="#005a00" stroke-width="2.6"/><line x1="160.5" y1="430.7" x2="184.8" y2="440.8" stroke="#005a00" stroke-width="2.6"/><line x1="237.6" y1="451.3" x2="263.9" y2="451.3" stroke="#005a00" stroke-width="2.6"/><line x1="316.7" y1="440.8" x2="341" y2="430.7" stroke="#005a00" stroke-width="2.6"/><line x1="385.7" y1="400.8" x2="404.4" y2="382.2" stroke="#005a00" stroke-width="2.6"/><line x1="434.2" y1="337.5" x2="444.3" y2="313.1" stroke="#005a00" stroke-width="2.6"/><line x1="454.8" y1="260.4" x2="454.8" y2="234" stroke="#005a00" stroke-width="2.6"/><line x1="444.3" y1="181.3" x2="434.2" y2="156.9" stroke="#005a00" stroke-width="2.6"/><line x1="404.4" y1="112.2" x2="385.7" y2="93.6" stroke="#005a00" stroke-width="2.6"/><line x1="341" y1="63.7" x2="316.7" y2="53.6" stroke="#005a00" stroke-width="2.6"/>
<rect x="463.5" y="42.3" width="13.300000000000011" height="408.3" fill="url(#cb)" stroke="#000" stroke-width="0.8"/><path d="M476.8 81.5h-3M476.8 143.6h-3M476.8 206.8h-3M476.8 269.2h-3M476.8 331.3h-3M476.8 393.8h-3" stroke="#000" stroke-width="0.8"/><g class="tl cbl"><text x="480.8" y="84.5">0.15</text><text x="480.8" y="146.6">0.1</text><text x="480.8" y="209.8">0.05</text><text x="480.8" y="272.2">0</text><text x="480.8" y="334.3">-0.05</text><text x="480.8" y="396.8">-0.1</text></g>
</g>
<g transform="translate(850,631)">
<polygon points="238.7,235.1 238.7,259.3 250.8,247.2" fill="#610000" stroke="#610000"/>
<polygon points="262.8,235.1 238.7,235.1 250.8,247.2" fill="#610000" stroke="#610000"/>
<polygon points="46.7,260.6 63.9,263.9 46.7,233.8" fill="#0091ff" stroke="#0091ff"/>
<polygon points="46.7,260.6 50.2,287.1 63.9,263.9" fill="#0094ff" stroke="#0094ff"/>
<polygon points="166.6,261.9 166.3,232.8 148.5,257.3" fill="#ff4800" stroke="#ff4800"/>
<polygon points="200.9,236.1 213.4,210.9 194.6,207.7" fill="#ab0000" stroke="#ab0000"/>
<polygon points="220.5,231.7 213.4,210.9 200.9,236.1" fill="#9b0000" stroke="#9b0000"/>
<polygon points="438.6,257.7 454.8,260.6 454.8,233.8" fill="#0090ff" stroke="#0090ff"/>
<polygon points="451.3,287.1 454.8,260.6 438.6,257.7" fill="#0093ff" stroke="#0093ff"/>
<polygon points="311.7,144.9 336.7,166.2 340.6,143.9" fill="#ffff55" stroke="#ffff55"/>
<polygon points="419.9,237.3 417.1,207.3 402.3,232.6" fill="#6fffff" stroke="#6fffff"/>
<polygon points="358.9,138.9 377.2,158.4 378.8,133" fill="#91ffff" stroke="#91ffff"/>
<polygon points="361.5,117.9 358.9,138.9 378.8,133" fill="#6affff" stroke="#6affff"/>
<polygon points="311.5,164.8 336.7,166.2 311.7,144.9" fill="#ffef00" stroke="#ffef00"/>
<polygon points="57.1,312.9 67.3,337.6 73.7,310" fill="#00b4ff" stroke="#00b4ff"/>
<polygon points="101.7,362.4 120.2,356.2 104.1,335.1" fill="#21ffff" stroke="#21ffff"/>
<polygon points="101.7,362.4 80.7,360.8 97,382" fill="#00d7ff" stroke="#00d7ff"/>
<polygon points="115.9,401 137.1,417.2 141.1,400.1" fill="#00d6ff" stroke="#00d6ff"/>
<polygon points="117,379.5 115.9,401 141.1,400.1" fill="#00e8ff" stroke="#00e8ff"/>
<polygon points="115.9,401 117,379.5 97,382" fill="#00dcff" stroke="#00dcff"/>
<polygon points="117,379.5 101.7,362.4 97,382" fill="#00e8ff" stroke="#00e8ff"/>
<polygon points="101.7,362.4 117,379.5 120.2,356.2" fill="#09ffff" stroke="#09ffff"/>
<polygon points="162.2,123.4 182.7,110.6 160.2,104" fill="#9dffff" stroke="#9dffff"/>
<polygon points="143.6,116.2 162.2,123.4 160.2,104" fill="#72ffff" stroke="#72ffff"/>
<polygon points="126.5,159.2 118.9,137.6 107,156.2" fill="#6bffff" stroke="#6bffff"/>
<polygon points="118.9,137.6 102.8,131.8 107,156.2" fill="#21ffff" stroke="#21ffff"/>
<polygon points="102.8,131.8 97,112.4 80.7,133.6" fill="#00d8ff" stroke="#00d8ff"/>
<polygon points="169.4,186 148.3,186.4 157.4,205.1" fill="#ffc500" stroke="#ffc500"/>
<polygon points="260,198.2 288.4,211.9 286.8,189.5" fill="#a90000" stroke="#a90000"/>
<polygon points="133.6,232.7 136.8,211.3 119.8,207.1" fill="#ffff59" stroke="#ffff59"/>
<polygon points="148.3,186.4 136.8,211.3 157.4,205.1" fill="#fff600" stroke="#fff600"/>
<polygon points="136.8,211.3 129.9,184.5 119.8,207.1" fill="#ffff8b" stroke="#ffff8b"/>
<polygon points="136.8,211.3 148.3,186.4 129.9,184.5" fill="#ffff59" stroke="#ffff59"/>
<polygon points="290.6,447.8 266.2,434.4 264.1,451.3" fill="#0094ff" stroke="#0094ff"/>
<polygon points="266.2,434.4 261.3,416.6 240.5,418.5" fill="#07ffff" stroke="#07ffff"/>
<polygon points="266.2,434.4 237.4,451.3 264.1,451.3" fill="#0090ff" stroke="#0090ff"/>
<polygon points="335.8,261.5 318.5,256.8 326,286.6" fill="#f60000" stroke="#f60000"/>
<polygon points="318.5,256.8 318.1,232.5 299.3,233" fill="#ba0000" stroke="#ba0000"/>
<polygon points="339.6,351.6 357.8,356.3 356.9,334.3" fill="#ffffe6" stroke="#ffffe6"/>
<polygon points="316.5,386.4 315.2,368.4 288.3,379.1" fill="#ffffe8" stroke="#ffffe8"/>
<polygon points="315.2,368.4 339.6,351.6 313.7,349" fill="#ffff8e" stroke="#ffff8e"/>
<polygon points="316.5,386.4 316.5,404 342.2,391.5" fill="#6affff" stroke="#6affff"/>
<polygon points="311.9,328 293.1,340.3 313.7,349" fill="#ffc500" stroke="#ffc500"/>
<polygon points="264.3,364.6 264,383.1 288.3,379.1" fill="#ffff89" stroke="#ffff89"/>
<polygon points="166.3,232.8 176.1,205.1 157.4,205.1" fill="#ff4800" stroke="#ff4800"/>
<polygon points="176.1,205.1 169.4,186 157.4,205.1" fill="#ff7400" stroke="#ff7400"/>
<polygon points="157.1,286.1 166.6,261.9 148.5,257.3" fill="#ff7000" stroke="#ff7000"/>
<polygon points="183.4,231.9 200.9,236.1 194.6,207.7" fill="#bb0000" stroke="#bb0000"/>
<polygon points="176.1,205.1 183.4,231.9 194.6,207.7" fill="#e10000" stroke="#e10000"/>
<polygon points="183.4,231.9 176.1,205.1 166.3,232.8" fill="#f70000" stroke="#f70000"/>
<polygon points="213.4,210.9 215.3,189 194.6,207.7" fill="#bc0000" stroke="#bc0000"/>
<polygon points="215.3,189 213.4,210.9 239.1,197.9" fill="#aa0000" stroke="#aa0000"/>
<polygon points="202.9,261.7 217.7,257.5 200.9,236.1" fill="#9a0000" stroke="#9a0000"/>
<polygon points="217.7,257.5 220.5,231.7 200.9,236.1" fill="#930000" stroke="#930000"/>
<polygon points="212.6,280.8 217.7,257.5 202.9,261.7" fill="#9b0000" stroke="#9b0000"/>
<polygon points="238.7,235.1 217.7,257.5 238.7,259.3" fill="#730000" stroke="#730000"/>
<polygon points="220.5,231.7 217.7,257.5 238.7,235.1" fill="#7e0000" stroke="#7e0000"/>
<polygon points="262.8,259.3 262.8,235.1 250.8,247.2" fill="#610000" stroke="#610000"/>
<polygon points="238.7,259.3 262.8,259.3 250.8,247.2" fill="#610000" stroke="#610000"/>
<polygon points="264.8,295.6 264.4,278.3 240.8,297.8" fill="#9a0000" stroke="#9a0000"/>
<polygon points="261.9,315.5 264.8,295.6 240.8,297.8" fill="#ab0000" stroke="#ab0000"/>
<polygon points="264.8,295.6 261.9,315.5 286.8,306" fill="#bc0000" stroke="#bc0000"/>
<polygon points="261.9,348.4 237.7,331.4 235.8,347.5" fill="#ff6d00" stroke="#ff6d00"/>
<polygon points="163.7,373.2 162.6,350.2 139.8,354.2" fill="#f0ffff" stroke="#f0ffff"/>
<polygon points="161.2,411.5 158.9,391.7 141.1,400.1" fill="#02ffff" stroke="#02ffff"/>
<polygon points="161.2,411.5 137.1,417.2 160.3,430.6" fill="#00c9ff" stroke="#00c9ff"/>
<polygon points="137.1,417.2 161.2,411.5 141.1,400.1" fill="#00deff" stroke="#00deff"/>
<polygon points="390.8,310.4 374.4,336.3 393.5,338.3" fill="#9cffff" stroke="#9cffff"/>
<polygon points="374.4,336.3 377.2,359.8 393.5,338.3" fill="#72ffff" stroke="#72ffff"/>
<polygon points="357.8,356.3 374.4,336.3 356.9,334.3" fill="#f0ffff" stroke="#f0ffff"/>
<polygon points="374.4,336.3 357.8,356.3 377.2,359.8" fill="#9cffff" stroke="#9cffff"/>
<polygon points="408.4,313.6 390.8,310.4 393.5,338.3" fill="#6cffff" stroke="#6cffff"/>
<polygon points="377.2,359.8 403.4,357 393.5,338.3" fill="#27ffff" stroke="#27ffff"/>
<polygon points="420.8,360.8 403.4,357 404.5,382" fill="#00d6ff" stroke="#00d6ff"/>
<polygon points="403.4,357 381,380.5 404.5,382" fill="#00eaff" stroke="#00eaff"/>
<polygon points="381,380.5 403.4,357 377.2,359.8" fill="#0cffff" stroke="#0cffff"/>
<polygon points="408.4,313.6 414.6,340.7 427.2,309.8" fill="#00f6ff" stroke="#00f6ff"/>
<polygon points="414.6,340.7 408.4,313.6 393.5,338.3" fill="#1cffff" stroke="#1cffff"/>
<polygon points="403.4,357 414.6,340.7 393.5,338.3" fill="#03ffff" stroke="#03ffff"/>
<polygon points="414.6,340.7 403.4,357 420.8,360.8" fill="#00ddff" stroke="#00ddff"/>
<polygon points="212.4,63.4 185,53.6 188.5,69.6" fill="#00baff" stroke="#00baff"/>
<polygon points="212.4,63.4 210.9,46.6 185,53.6" fill="#00a1ff" stroke="#00a1ff"/>
<polygon points="185.4,147.4 188.4,166.9 212.8,152.3" fill="#ffc200" stroke="#ffc200"/>
<polygon points="210.5,117.8 238.9,128 237.1,112.3" fill="#ffff85" stroke="#ffff85"/>
<polygon points="182.7,110.6 188.6,89.1 160.2,104" fill="#71ffff" stroke="#71ffff"/>
<polygon points="159.3,84.5 188.6,89.1 188.5,69.6" fill="#00f8ff" stroke="#00f8ff"/>
<polygon points="188.6,89.1 159.3,84.5 160.2,104" fill="#23ffff" stroke="#23ffff"/>
<polygon points="382.9,114 404.5,112.4 385.6,93.4" fill="#00ddff" stroke="#00ddff"/>
<polygon points="382.9,114 361.5,117.9 378.8,133" fill="#23ffff" stroke="#23ffff"/>
<polygon points="377.2,158.4 401.3,135.5 378.8,133" fill="#42ffff" stroke="#42ffff"/>
<polygon points="401.3,135.5 382.9,114 378.8,133" fill="#09ffff" stroke="#09ffff"/>
<polygon points="382.9,114 401.3,135.5 404.5,112.4" fill="#00e9ff" stroke="#00e9ff"/>
<polygon points="361.9,206.1 346.4,211.1 351.9,235.1" fill="#ffc100" stroke="#ffc100"/>
<polygon points="387.9,180.6 377.2,158.4 372.6,185.2" fill="#edffff" stroke="#edffff"/>
<polygon points="377.2,158.4 355.3,159.7 372.6,185.2" fill="#ffffe5" stroke="#ffffe5"/>
<polygon points="358.9,138.9 355.3,159.7 377.2,158.4" fill="#ecffff" stroke="#ecffff"/>
<polygon points="336.7,166.2 355.3,159.7 340.6,143.9" fill="#ffff89" stroke="#ffff89"/>
<polygon points="355.3,159.7 358.9,138.9 340.6,143.9" fill="#ffffe4" stroke="#ffffe4"/>
<polygon points="436.7,231 417.1,207.3 419.9,237.3" fill="#10ffff" stroke="#10ffff"/>
<polygon points="436.7,231 438.6,257.7 454.8,233.8" fill="#00a7ff" stroke="#00a7ff"/>
<polygon points="436.7,231 419.9,237.3 438.6,257.7" fill="#00e2ff" stroke="#00e2ff"/>
<polygon points="358.9,138.9 337.5,119.8 340.6,143.9" fill="#ecffff" stroke="#ecffff"/>
<polygon points="361.5,117.9 337.5,119.8 358.9,138.9" fill="#96ffff" stroke="#96ffff"/>
<polygon points="337.5,119.8 361.5,117.9 338.9,102" fill="#6cffff" stroke="#6cffff"/>
<polygon points="317.2,110.1 337.5,119.8 338.9,102" fill="#97ffff" stroke="#97ffff"/>
<polygon points="286.5,170.7 286.8,189.5 312,189.4" fill="#f10000" stroke="#f10000"/>
<polygon points="311.5,164.8 286.5,170.7 312,189.4" fill="#ff4000" stroke="#ff4000"/>
<polygon points="288.4,211.9 282,236.5 299.3,233" fill="#9b0000" stroke="#9b0000"/>
<polygon points="262.8,259.3 282,236.5 262.8,235.1" fill="#730000" stroke="#730000"/>
<polygon points="286.8,189.5 306.3,207 312,189.4" fill="#df0000" stroke="#df0000"/>
<polygon points="288.4,211.9 306.3,207 286.8,189.5" fill="#bb0000" stroke="#bb0000"/>
<polygon points="306.3,207 288.4,211.9 299.3,233" fill="#ab0000" stroke="#ab0000"/>
<polygon points="318.1,232.5 306.3,207 299.3,233" fill="#bb0000" stroke="#bb0000"/>
<polygon points="112.7,311.1 93.2,313.6 104.1,335.1" fill="#6bffff" stroke="#6bffff"/>
<polygon points="93.2,313.6 86.2,287.5 73.7,310" fill="#14ffff" stroke="#14ffff"/>
<polygon points="85.3,335.4 93.2,313.6 73.7,310" fill="#00f6ff" stroke="#00f6ff"/>
<polygon points="67.3,337.6 85.3,335.4 73.7,310" fill="#00ceff" stroke="#00ceff"/>
<polygon points="93.2,313.6 85.3,335.4 104.1,335.1" fill="#19ffff" stroke="#19ffff"/>
<polygon points="85.3,335.4 67.3,337.6 80.7,360.8" fill="#00c8ff" stroke="#00c8ff"/>
<polygon points="85.3,335.4 101.7,362.4 104.1,335.1" fill="#02ffff" stroke="#02ffff"/>
<polygon points="101.7,362.4 85.3,335.4 80.7,360.8" fill="#00dfff" stroke="#00dfff"/>
<polygon points="138.9,375.3 117,379.5 141.1,400.1" fill="#09ffff" stroke="#09ffff"/>
<polygon points="138.9,375.3 163.7,373.2 139.8,354.2" fill="#96ffff" stroke="#96ffff"/>
<polygon points="120.2,356.2 138.9,375.3 139.8,354.2" fill="#6bffff" stroke="#6bffff"/>
<polygon points="117,379.5 138.9,375.3 120.2,356.2" fill="#26ffff" stroke="#26ffff"/>
<polygon points="158.9,391.7 138.9,375.3 141.1,400.1" fill="#20ffff" stroke="#20ffff"/>
<polygon points="163.7,373.2 138.9,375.3 158.9,391.7" fill="#6bffff" stroke="#6bffff"/>
<polygon points="237.4,451.3 234.3,434.2 210.9,447.8" fill="#0094ff" stroke="#0094ff"/>
<polygon points="234.3,434.2 266.2,434.4 240.5,418.5" fill="#00deff" stroke="#00deff"/>
<polygon points="266.2,434.4 234.3,434.2 237.4,451.3" fill="#00a7ff" stroke="#00a7ff"/>
<polygon points="63,230.1 50.2,207.3 46.7,233.8" fill="#0094ff" stroke="#0094ff"/>
<polygon points="63.9,263.9 63,230.1 46.7,233.8" fill="#00a6ff" stroke="#00a6ff"/>
<polygon points="50.2,207.3 69.2,205.8 57.1,181.5" fill="#00a3ff" stroke="#00a3ff"/>
<polygon points="69.2,205.8 63,230.1 84.6,207.6" fill="#00e5ff" stroke="#00e5ff"/>
<polygon points="63,230.1 69.2,205.8 50.2,207.3" fill="#00aeff" stroke="#00aeff"/>
<polygon points="85.9,159.1 91.6,183.8 107,156.2" fill="#1dffff" stroke="#1dffff"/>
<polygon points="102.8,131.8 85.9,159.1 107,156.2" fill="#05ffff" stroke="#05ffff"/>
<polygon points="85.9,159.1 102.8,131.8 80.7,133.6" fill="#00e1ff" stroke="#00e1ff"/>
<polygon points="91.6,183.8 112.3,182.3 107,156.2" fill="#6cffff" stroke="#6cffff"/>
<polygon points="112.3,182.3 126.5,159.2 107,156.2" fill="#9bffff" stroke="#9bffff"/>
<polygon points="126.5,159.2 112.3,182.3 129.9,184.5" fill="#f3ffff" stroke="#f3ffff"/>
<polygon points="129.9,184.5 112.3,182.3 119.8,207.1" fill="#ffffe3" stroke="#ffffe3"/>
<polygon points="141.4,96.3 137.1,77.2 115.9,93.4" fill="#00d8ff" stroke="#00d8ff"/>
<polygon points="141.4,96.3 143.6,116.2 160.2,104" fill="#29ffff" stroke="#29ffff"/>
<polygon points="159.3,84.5 141.4,96.3 160.2,104" fill="#06ffff" stroke="#06ffff"/>
<polygon points="141.4,96.3 159.3,84.5 137.1,77.2" fill="#00e1ff" stroke="#00e1ff"/>
<polygon points="126.5,159.2 143.2,136.6 118.9,137.6" fill="#94ffff" stroke="#94ffff"/>
<polygon points="143.2,136.6 143.6,116.2 118.9,137.6" fill="#6bffff" stroke="#6bffff"/>
<polygon points="162.2,123.4 143.2,136.6 164.1,143.1" fill="#f1ffff" stroke="#f1ffff"/>
<polygon points="143.6,116.2 143.2,136.6 162.2,123.4" fill="#99ffff" stroke="#99ffff"/>
<polygon points="97,112.4 117,115.8 115.9,93.4" fill="#00ddff" stroke="#00ddff"/>
<polygon points="143.6,116.2 117,115.8 118.9,137.6" fill="#27ffff" stroke="#27ffff"/>
<polygon points="117,115.8 102.8,131.8 118.9,137.6" fill="#09ffff" stroke="#09ffff"/>
<polygon points="102.8,131.8 117,115.8 97,112.4" fill="#00e9ff" stroke="#00e9ff"/>
<polygon points="117,115.8 141.4,96.3 115.9,93.4" fill="#00ebff" stroke="#00ebff"/>
<polygon points="141.4,96.3 117,115.8 143.6,116.2" fill="#0cffff" stroke="#0cffff"/>
<polygon points="169.4,186 168.3,160.9 148.3,186.4" fill="#fff200" stroke="#fff200"/>
<polygon points="168.3,160.9 169.4,186 188.4,166.9" fill="#ffc200" stroke="#ffc200"/>
<polygon points="168.3,160.9 185.4,147.4 164.1,143.1" fill="#ffff59" stroke="#ffff59"/>
<polygon points="185.4,147.4 168.3,160.9 188.4,166.9" fill="#fff500" stroke="#fff500"/>
<polygon points="267.4,180.1 260,198.2 286.8,189.5" fill="#ba0000" stroke="#ba0000"/>
<polygon points="267.4,180.1 286.5,170.7 265.5,164.2" fill="#f50000" stroke="#f50000"/>
<polygon points="286.5,170.7 267.4,180.1 286.8,189.5" fill="#e00000" stroke="#e00000"/>
<polygon points="260,198.2 263.5,214.8 288.4,211.9" fill="#9a0000" stroke="#9a0000"/>
<polygon points="282,236.5 263.5,214.8 262.8,235.1" fill="#7f0000" stroke="#7f0000"/>
<polygon points="263.5,214.8 282,236.5 288.4,211.9" fill="#920000" stroke="#920000"/>
<polygon points="149.6,233 136.8,211.3 133.6,232.7" fill="#fff300" stroke="#fff300"/>
<polygon points="149.6,233 133.6,232.7 148.5,257.3" fill="#ffc200" stroke="#ffc200"/>
<polygon points="166.3,232.8 149.6,233 148.5,257.3" fill="#ff7300" stroke="#ff7300"/>
<polygon points="149.6,233 166.3,232.8 157.4,205.1" fill="#ff7100" stroke="#ff7100"/>
<polygon points="136.8,211.3 149.6,233 157.4,205.1" fill="#ffc400" stroke="#ffc400"/>
<polygon points="101.9,211 91.6,183.8 84.6,207.6" fill="#68ffff" stroke="#68ffff"/>
<polygon points="112.3,182.3 101.9,211 119.8,207.1" fill="#f0ffff" stroke="#f0ffff"/>
<polygon points="101.9,211 112.3,182.3 91.6,183.8" fill="#96ffff" stroke="#96ffff"/>
<polygon points="131.7,262.1 115.6,261.7 120.6,288.3" fill="#ffff8a" stroke="#ffff8a"/>
<polygon points="133.6,232.7 131.7,262.1 148.5,257.3" fill="#fff300" stroke="#fff300"/>
<polygon points="346.4,211.1 335.2,231.4 351.9,235.1" fill="#ff7300" stroke="#ff7300"/>
<polygon points="335.2,231.4 335.8,261.5 351.9,235.1" fill="#ff4800" stroke="#ff4800"/>
<polygon points="335.2,231.4 318.5,256.8 335.8,261.5" fill="#f70000" stroke="#f70000"/>
<polygon points="318.5,256.8 335.2,231.4 318.1,232.5" fill="#e10000" stroke="#e10000"/>
<polygon points="318.5,256.8 308.9,284.9 326,286.6" fill="#df0000" stroke="#df0000"/>
<polygon points="311.8,305.6 308.9,284.9 286.8,306" fill="#e00000" stroke="#e00000"/>
<polygon points="308.9,284.9 311.8,305.6 326,286.6" fill="#f60000" stroke="#f60000"/>
<polygon points="361.9,375.5 381,380.5 377.2,359.8" fill="#2bffff" stroke="#2bffff"/>
<polygon points="357.8,356.3 361.9,375.5 377.2,359.8" fill="#70ffff" stroke="#70ffff"/>
<polygon points="361.9,375.5 361.4,397.3 381,380.5" fill="#0cffff" stroke="#0cffff"/>
<polygon points="361.4,397.3 361.9,375.5 342.2,391.5" fill="#25ffff" stroke="#25ffff"/>
<polygon points="315.2,368.4 340.6,372.7 339.6,351.6" fill="#ffffe9" stroke="#ffffe9"/>
<polygon points="361.9,375.5 340.6,372.7 342.2,391.5" fill="#6affff" stroke="#6affff"/>
<polygon points="340.6,372.7 316.5,386.4 342.2,391.5" fill="#91ffff" stroke="#91ffff"/>
<polygon points="340.6,372.7 315.2,368.4 316.5,386.4" fill="#e9ffff" stroke="#e9ffff"/>
<polygon points="340.6,372.7 357.8,356.3 339.6,351.6" fill="#ebffff" stroke="#ebffff"/>
<polygon points="340.6,372.7 361.9,375.5 357.8,356.3" fill="#96ffff" stroke="#96ffff"/>
<polygon points="264.3,364.6 291.5,360.2 261.9,348.4" fill="#fff200" stroke="#fff200"/>
<polygon points="291.5,360.2 293.1,340.3 261.9,348.4" fill="#ffc300" stroke="#ffc300"/>
<polygon points="291.5,360.2 264.3,364.6 288.3,379.1" fill="#ffff5b" stroke="#ffff5b"/>
<polygon points="315.2,368.4 291.5,360.2 288.3,379.1" fill="#ffff8f" stroke="#ffff8f"/>
<polygon points="291.5,360.2 315.2,368.4 313.7,349" fill="#ffff61" stroke="#ffff61"/>
<polygon points="293.1,340.3 291.5,360.2 313.7,349" fill="#fffa00" stroke="#fffa00"/>
<polygon points="289.1,322 293.1,340.3 311.9,328" fill="#ff6e00" stroke="#ff6e00"/>
<polygon points="289.1,322 311.8,305.6 286.8,306" fill="#f30000" stroke="#f30000"/>
<polygon points="311.8,305.6 289.1,322 311.9,328" fill="#ff3f00" stroke="#ff3f00"/>
<polygon points="261.9,315.5 289.1,322 286.8,306" fill="#e00000" stroke="#e00000"/>
<polygon points="157.1,286.1 174.5,286.2 166.6,261.9" fill="#ff4600" stroke="#ff4600"/>
<polygon points="174.5,286.2 183.6,259.7 166.6,261.9" fill="#f60000" stroke="#f60000"/>
<polygon points="166.6,261.9 183.6,259.7 166.3,232.8" fill="#f50000" stroke="#f50000"/>
<polygon points="183.6,259.7 183.4,231.9 166.3,232.8" fill="#e00000" stroke="#e00000"/>
<polygon points="183.6,259.7 202.9,261.7 200.9,236.1" fill="#aa0000" stroke="#aa0000"/>
<polygon points="183.4,231.9 183.6,259.7 200.9,236.1" fill="#bb0000" stroke="#bb0000"/>
<polygon points="237.9,278.5 212.6,280.8 240.8,297.8" fill="#9a0000" stroke="#9a0000"/>
<polygon points="264.4,278.3 237.9,278.5 240.8,297.8" fill="#920000" stroke="#920000"/>
<polygon points="217.7,257.5 237.9,278.5 238.7,259.3" fill="#7f0000" stroke="#7f0000"/>
<polygon points="237.9,278.5 217.7,257.5 212.6,280.8" fill="#920000" stroke="#920000"/>
<polygon points="237.9,278.5 262.8,259.3 238.7,259.3" fill="#730000" stroke="#730000"/>
<polygon points="262.8,259.3 237.9,278.5 264.4,278.3" fill="#7d0000" stroke="#7d0000"/>
<polygon points="212.6,280.8 215,304.3 240.8,297.8" fill="#a90000" stroke="#a90000"/>
<polygon points="215.3,189 190.7,187.7 194.6,207.7" fill="#df0000" stroke="#df0000"/>
<polygon points="169.4,186 190.7,187.7 188.4,166.9" fill="#ff6e00" stroke="#ff6e00"/>
<polygon points="190.7,187.7 176.1,205.1 194.6,207.7" fill="#f70000" stroke="#f70000"/>
<polygon points="176.1,205.1 190.7,187.7 169.4,186" fill="#ff4700" stroke="#ff4700"/>
<polygon points="188.4,166.9 210,171 212.8,152.3" fill="#ff7200" stroke="#ff7200"/>
<polygon points="190.7,187.7 210,171 188.4,166.9" fill="#ff4700" stroke="#ff4700"/>
<polygon points="210,171 190.7,187.7 215.3,189" fill="#f60000" stroke="#f60000"/>
<polygon points="237.9,314.8 261.9,315.5 240.8,297.8" fill="#bd0000" stroke="#bd0000"/>
<polygon points="237.9,314.8 237.7,331.4 261.9,315.5" fill="#e10000" stroke="#e10000"/>
<polygon points="215,304.3 237.9,314.8 240.8,297.8" fill="#ba0000" stroke="#ba0000"/>
<polygon points="186.9,326.5 209.4,321.7 188.7,305.8" fill="#ff4600" stroke="#ff4600"/>
<polygon points="209.4,321.7 215,304.3 188.7,305.8" fill="#f40000" stroke="#f40000"/>
<polygon points="237.9,314.8 209.4,321.7 237.7,331.4" fill="#f50000" stroke="#f50000"/>
<polygon points="209.4,321.7 237.9,314.8 215,304.3" fill="#df0000" stroke="#df0000"/>
<polygon points="163.7,373.2 189.5,367.7 162.6,350.2" fill="#ffffdb" stroke="#ffffdb"/>
<polygon points="371.5,311.2 374.4,336.3 390.8,310.4" fill="#f1ffff" stroke="#f1ffff"/>
<polygon points="374.4,336.3 371.5,311.2 356.9,334.3" fill="#ffffe3" stroke="#ffffe3"/>
<polygon points="371.5,311.2 352.4,307.6 356.9,334.3" fill="#ffff8a" stroke="#ffff8a"/>
<polygon points="345.2,289.5 335.8,261.5 326,286.6" fill="#ff4b00" stroke="#ff4b00"/>
<polygon points="334,307.2 311.8,305.6 311.9,328" fill="#ff6e00" stroke="#ff6e00"/>
<polygon points="311.8,305.6 334,307.2 326,286.6" fill="#ff4600" stroke="#ff4600"/>
<polygon points="334,307.2 345.2,289.5 326,286.6" fill="#ff7700" stroke="#ff7700"/>
<polygon points="345.2,289.5 334,307.2 352.4,307.6" fill="#ffc800" stroke="#ffc800"/>
<polygon points="404.6,256.9 419.9,237.3 402.3,232.6" fill="#9affff" stroke="#9affff"/>
<polygon points="434.2,337.6 444.4,312.9 427.2,309.8" fill="#00b4ff" stroke="#00b4ff"/>
<polygon points="414.6,340.7 434.2,337.6 427.2,309.8" fill="#00cfff" stroke="#00cfff"/>
<polygon points="434.2,337.6 414.6,340.7 420.8,360.8" fill="#00c8ff" stroke="#00c8ff"/>
<polygon points="210.5,117.8 209.5,135.6 238.9,128" fill="#ffff56" stroke="#ffff56"/>
<polygon points="239.3,144.8 209.5,135.6 212.8,152.3" fill="#ffc400" stroke="#ffc400"/>
<polygon points="238.9,128 209.5,135.6 239.3,144.8" fill="#fff600" stroke="#fff600"/>
<polygon points="209.5,135.6 185.4,147.4 212.8,152.3" fill="#fff400" stroke="#fff400"/>
<polygon points="213.1,98.4 210.5,117.8 237.1,112.3" fill="#ffffde" stroke="#ffffde"/>
<polygon points="210.5,117.8 213.1,98.4 182.7,110.6" fill="#f4ffff" stroke="#f4ffff"/>
<polygon points="213.1,98.4 188.6,89.1 182.7,110.6" fill="#9bffff" stroke="#9bffff"/>
<polygon points="185,53.6 160.3,63.8 188.5,69.6" fill="#00b3ff" stroke="#00b3ff"/>
<polygon points="160.3,63.8 159.3,84.5 188.5,69.6" fill="#00cfff" stroke="#00cfff"/>
<polygon points="159.3,84.5 160.3,63.8 137.1,77.2" fill="#00caff" stroke="#00caff"/>
<polygon points="434.2,156.8 420.8,133.6 416.2,157.9" fill="#00c8ff" stroke="#00c8ff"/>
<polygon points="420.8,133.6 401.3,135.5 416.2,157.9" fill="#00dfff" stroke="#00dfff"/>
<polygon points="401.3,135.5 420.8,133.6 404.5,112.4" fill="#00d7ff" stroke="#00d7ff"/>
<polygon points="368.1,233.3 361.9,206.1 351.9,235.1" fill="#ffed00" stroke="#ffed00"/>
<polygon points="361.9,206.1 352.5,182.9 346.4,211.1" fill="#fff600" stroke="#fff600"/>
<polygon points="352.5,182.9 361.9,206.1 372.6,185.2" fill="#ffff5d" stroke="#ffff5d"/>
<polygon points="355.3,159.7 352.5,182.9 372.6,185.2" fill="#ffff8c" stroke="#ffff8c"/>
<polygon points="352.5,182.9 355.3,159.7 336.7,166.2" fill="#ffff5b" stroke="#ffff5b"/>
<polygon points="387.9,180.6 398.4,160.8 377.2,158.4" fill="#93ffff" stroke="#93ffff"/>
<polygon points="401.3,135.5 398.4,160.8 416.2,157.9" fill="#02ffff" stroke="#02ffff"/>
<polygon points="398.4,160.8 401.3,135.5 377.2,158.4" fill="#42ffff" stroke="#42ffff"/>
<polygon points="398.4,160.8 407.6,181.1 416.2,157.9" fill="#19ffff" stroke="#19ffff"/>
<polygon points="407.6,181.1 398.4,160.8 387.9,180.6" fill="#6bffff" stroke="#6bffff"/>
<polygon points="417.1,207.3 399.2,210.4 402.3,232.6" fill="#98ffff" stroke="#98ffff"/>
<polygon points="407.6,181.1 399.2,210.4 417.1,207.3" fill="#6bffff" stroke="#6bffff"/>
<polygon points="399.2,210.4 407.6,181.1 387.9,180.6" fill="#9cffff" stroke="#9cffff"/>
<polygon points="436.7,231 433.7,208.1 417.1,207.3" fill="#00e6ff" stroke="#00e6ff"/>
<polygon points="341.2,63.8 316.5,53.6 319.6,73.2" fill="#00b6ff" stroke="#00b6ff"/>
<polygon points="344.3,83.5 341.2,63.8 319.6,73.2" fill="#00d0ff" stroke="#00d0ff"/>
<polygon points="341.2,63.8 344.3,83.5 364.4,77.2" fill="#00c9ff" stroke="#00c9ff"/>
<polygon points="344.3,83.5 360.6,95.1 364.4,77.2" fill="#00deff" stroke="#00deff"/>
<polygon points="364.4,77.2 360.6,95.1 385.6,93.4" fill="#00d7ff" stroke="#00d7ff"/>
<polygon points="361.5,117.9 360.6,95.1 338.9,102" fill="#24ffff" stroke="#24ffff"/>
<polygon points="360.6,95.1 344.3,83.5 338.9,102" fill="#02ffff" stroke="#02ffff"/>
<polygon points="360.6,95.1 382.9,114 385.6,93.4" fill="#00e9ff" stroke="#00e9ff"/>
<polygon points="382.9,114 360.6,95.1 361.5,117.9" fill="#0affff" stroke="#0affff"/>
<polygon points="235,61.4 237.4,43.1 210.9,46.6" fill="#0095ff" stroke="#0095ff"/>
<polygon points="212.4,63.4 235,61.4 210.9,46.6" fill="#00afff" stroke="#00afff"/>
<polygon points="289.8,116.7 315.8,126.5 317.2,110.1" fill="#ffffe1" stroke="#ffffe1"/>
<polygon points="315.8,126.5 337.5,119.8 317.2,110.1" fill="#ecffff" stroke="#ecffff"/>
<polygon points="315.8,126.5 311.7,144.9 340.6,143.9" fill="#ffff8b" stroke="#ffff8b"/>
<polygon points="337.5,119.8 315.8,126.5 340.6,143.9" fill="#ffffe7" stroke="#ffffe7"/>
<polygon points="238.9,128 261,111.8 237.1,112.3" fill="#ffff87" stroke="#ffff87"/>
<polygon points="290.7,98.2 289.8,116.7 317.2,110.1" fill="#f0ffff" stroke="#f0ffff"/>
<polygon points="290.7,98.2 261,111.8 289.8,116.7" fill="#ffffe2" stroke="#ffffe2"/>
<polygon points="286.5,170.7 287.7,150.7 265.5,164.2" fill="#ff4700" stroke="#ff4700"/>
<polygon points="287.7,150.7 311.5,164.8 311.7,144.9" fill="#ffc700" stroke="#ffc700"/>
<polygon points="287.7,150.7 286.5,170.7 311.5,164.8" fill="#ff7300" stroke="#ff7300"/>
<polygon points="50.2,287.1 66.7,285.4 63.9,263.9" fill="#00acff" stroke="#00acff"/>
<polygon points="86.2,287.5 66.7,285.4 73.7,310" fill="#00ebff" stroke="#00ebff"/>
<polygon points="66.7,285.4 57.1,312.9 73.7,310" fill="#00baff" stroke="#00baff"/>
<polygon points="66.7,285.4 50.2,287.1 57.1,312.9" fill="#00a1ff" stroke="#00a1ff"/>
<polygon points="91.6,183.8 76.3,179.5 84.6,207.6" fill="#12ffff" stroke="#12ffff"/>
<polygon points="76.3,179.5 69.2,205.8 84.6,207.6" fill="#00eeff" stroke="#00eeff"/>
<polygon points="69.2,205.8 76.3,179.5 57.1,181.5" fill="#00c0ff" stroke="#00c0ff"/>
<polygon points="85.9,159.1 76.3,179.5 91.6,183.8" fill="#00f7ff" stroke="#00f7ff"/>
<polygon points="67.3,156.8 85.9,159.1 80.7,133.6" fill="#00c9ff" stroke="#00c9ff"/>
<polygon points="76.3,179.5 67.3,156.8 57.1,181.5" fill="#00b6ff" stroke="#00b6ff"/>
<polygon points="67.3,156.8 76.3,179.5 85.9,159.1" fill="#00d0ff" stroke="#00d0ff"/>
<polygon points="168.3,160.9 146.2,158.2 148.3,186.4" fill="#ffff5a" stroke="#ffff5a"/>
<polygon points="148.3,186.4 146.2,158.2 129.9,184.5" fill="#ffff8a" stroke="#ffff8a"/>
<polygon points="146.2,158.2 126.5,159.2 129.9,184.5" fill="#ffffe0" stroke="#ffffe0"/>
<polygon points="146.2,158.2 143.2,136.6 126.5,159.2" fill="#edffff" stroke="#edffff"/>
<polygon points="143.2,136.6 146.2,158.2 164.1,143.1" fill="#ffffe6" stroke="#ffffe6"/>
<polygon points="146.2,158.2 168.3,160.9 164.1,143.1" fill="#ffff8a" stroke="#ffff8a"/>
<polygon points="238.6,216.4 260,198.2 239.1,197.9" fill="#9a0000" stroke="#9a0000"/>
<polygon points="238.6,216.4 263.5,214.8 260,198.2" fill="#920000" stroke="#920000"/>
<polygon points="238.6,216.4 220.5,231.7 238.7,235.1" fill="#800000" stroke="#800000"/>
<polygon points="238.6,216.4 238.7,235.1 262.8,235.1" fill="#720000" stroke="#720000"/>
<polygon points="263.5,214.8 238.6,216.4 262.8,235.1" fill="#7e0000" stroke="#7e0000"/>
<polygon points="213.4,210.9 238.6,216.4 239.1,197.9" fill="#9a0000" stroke="#9a0000"/>
<polygon points="220.5,231.7 238.6,216.4 213.4,210.9" fill="#930000" stroke="#930000"/>
<polygon points="364.4,417.2 342.9,411 341.2,430.6" fill="#00c9ff" stroke="#00c9ff"/>
<polygon points="316.5,404 342.9,411 342.2,391.5" fill="#1cffff" stroke="#1cffff"/>
<polygon points="342.9,411 361.4,397.3 342.2,391.5" fill="#04ffff" stroke="#04ffff"/>
<polygon points="361.4,397.3 342.9,411 364.4,417.2" fill="#00e0ff" stroke="#00e0ff"/>
<polygon points="342.9,411 315.4,422.9 341.2,430.6" fill="#00cfff" stroke="#00cfff"/>
<polygon points="315.4,422.9 342.9,411 316.5,404" fill="#00f8ff" stroke="#00f8ff"/>
<polygon points="326.2,209.9 306.3,207 318.1,232.5" fill="#df0000" stroke="#df0000"/>
<polygon points="335.2,231.4 326.2,209.9 318.1,232.5" fill="#f60000" stroke="#f60000"/>
<polygon points="326.2,209.9 335.2,231.4 346.4,211.1" fill="#ff4700" stroke="#ff4700"/>
<polygon points="306.3,207 326.2,209.9 312,189.4" fill="#f30000" stroke="#f30000"/>
<polygon points="284,257 262.8,259.3 264.4,278.3" fill="#7f0000" stroke="#7f0000"/>
<polygon points="284,257 282,236.5 262.8,259.3" fill="#7e0000" stroke="#7e0000"/>
<polygon points="282,236.5 284,257 299.3,233" fill="#920000" stroke="#920000"/>
<polygon points="361.4,397.3 385.6,401 381,380.5" fill="#00ebff" stroke="#00ebff"/>
<polygon points="385.6,401 361.4,397.3 364.4,417.2" fill="#00d8ff" stroke="#00d8ff"/>
<polygon points="381,380.5 385.6,401 404.5,382" fill="#00ddff" stroke="#00ddff"/>
<polygon points="315.4,422.9 316.5,440.8 341.2,430.6" fill="#00b5ff" stroke="#00b5ff"/>
<polygon points="291.1,412.7 315.4,422.9 316.5,404" fill="#16ffff" stroke="#16ffff"/>
<polygon points="291.1,412.7 262,399 261.3,416.6" fill="#71ffff" stroke="#71ffff"/>
<polygon points="293.1,340.3 263.3,332.2 261.9,348.4" fill="#ff7000" stroke="#ff7000"/>
<polygon points="289.1,322 263.3,332.2 293.1,340.3" fill="#ff4400" stroke="#ff4400"/>
<polygon points="263.3,332.2 289.1,322 261.9,315.5" fill="#f50000" stroke="#f50000"/>
<polygon points="263.3,332.2 237.7,331.4 261.9,348.4" fill="#ff4700" stroke="#ff4700"/>
<polygon points="237.7,331.4 263.3,332.2 261.9,315.5" fill="#f70000" stroke="#f70000"/>
<polygon points="192.5,283.2 212.6,280.8 202.9,261.7" fill="#aa0000" stroke="#aa0000"/>
<polygon points="183.6,259.7 192.5,283.2 202.9,261.7" fill="#ba0000" stroke="#ba0000"/>
<polygon points="192.5,283.2 183.6,259.7 174.5,286.2" fill="#e00000" stroke="#e00000"/>
<polygon points="192.5,283.2 174.5,286.2 188.7,305.8" fill="#f70000" stroke="#f70000"/>
<polygon points="215,304.3 192.5,283.2 188.7,305.8" fill="#de0000" stroke="#de0000"/>
<polygon points="192.5,283.2 215,304.3 212.6,280.8" fill="#b90000" stroke="#b90000"/>
<polygon points="125.4,336.3 112.7,311.1 104.1,335.1" fill="#97ffff" stroke="#97ffff"/>
<polygon points="125.4,336.3 120.2,356.2 139.8,354.2" fill="#93ffff" stroke="#93ffff"/>
<polygon points="120.2,356.2 125.4,336.3 104.1,335.1" fill="#6affff" stroke="#6affff"/>
<polygon points="138.5,287.9 149.8,312.4 157.1,286.1" fill="#fff600" stroke="#fff600"/>
<polygon points="138.5,287.9 131.7,262.1 120.6,288.3" fill="#ffff5d" stroke="#ffff5d"/>
<polygon points="138.5,287.9 157.1,286.1 148.5,257.3" fill="#ffc200" stroke="#ffc200"/>
<polygon points="131.7,262.1 138.5,287.9 148.5,257.3" fill="#fff700" stroke="#fff700"/>
<polygon points="238.1,179.3 215.3,189 239.1,197.9" fill="#bb0000" stroke="#bb0000"/>
<polygon points="238.1,179.3 210,171 215.3,189" fill="#e10000" stroke="#e10000"/>
<polygon points="238.1,179.3 267.4,180.1 265.5,164.2" fill="#df0000" stroke="#df0000"/>
<polygon points="260,198.2 238.1,179.3 239.1,197.9" fill="#aa0000" stroke="#aa0000"/>
<polygon points="267.4,180.1 238.1,179.3 260,198.2" fill="#ba0000" stroke="#ba0000"/>
<polygon points="182.6,420.9 161.2,411.5 160.3,430.6" fill="#00d1ff" stroke="#00d1ff"/>
<polygon points="189.5,367.7 185.9,347.8 162.6,350.2" fill="#ffff84" stroke="#ffff84"/>
<polygon points="185.9,347.8 166.7,332 162.6,350.2" fill="#ffff5a" stroke="#ffff5a"/>
<polygon points="166.7,332 185.9,347.8 186.9,326.5" fill="#fff600" stroke="#fff600"/>
<polygon points="188.9,386.3 163.7,373.2 158.9,391.7" fill="#98ffff" stroke="#98ffff"/>
<polygon points="188.9,386.3 189.5,367.7 163.7,373.2" fill="#f6ffff" stroke="#f6ffff"/>
<polygon points="398.1,288 404.6,256.9 387.8,257.4" fill="#edffff" stroke="#edffff"/>
<polygon points="408.4,313.6 398.1,288 390.8,310.4" fill="#95ffff" stroke="#95ffff"/>
<polygon points="345.2,289.5 352.6,257.5 335.8,261.5" fill="#ff7500" stroke="#ff7500"/>
<polygon points="335.8,261.5 352.6,257.5 351.9,235.1" fill="#ff7300" stroke="#ff7300"/>
<polygon points="352.6,257.5 368.1,233.3 351.9,235.1" fill="#ffc100" stroke="#ffc100"/>
<polygon points="336.1,330.1 334,307.2 311.9,328" fill="#ffc100" stroke="#ffc100"/>
<polygon points="339.6,351.6 336.1,330.1 313.7,349" fill="#ffff5b" stroke="#ffff5b"/>
<polygon points="336.1,330.1 311.9,328 313.7,349" fill="#fff200" stroke="#fff200"/>
<polygon points="336.1,330.1 339.6,351.6 356.9,334.3" fill="#ffff8e" stroke="#ffff8e"/>
<polygon points="352.4,307.6 336.1,330.1 356.9,334.3" fill="#ffff59" stroke="#ffff59"/>
<polygon points="334,307.2 336.1,330.1 352.4,307.6" fill="#fff200" stroke="#fff200"/>
<polygon points="419.9,237.3 419.6,264.1 438.6,257.7" fill="#0dffff" stroke="#0dffff"/>
<polygon points="404.6,256.9 419.6,264.1 419.9,237.3" fill="#6dffff" stroke="#6dffff"/>
<polygon points="398.1,288 419.6,264.1 404.6,256.9" fill="#99ffff" stroke="#99ffff"/>
<polygon points="209.5,135.6 183.3,127.6 185.4,147.4" fill="#ffff5c" stroke="#ffff5c"/>
<polygon points="162.2,123.4 183.3,127.6 182.7,110.6" fill="#f1ffff" stroke="#f1ffff"/>
<polygon points="183.3,127.6 210.5,117.8 182.7,110.6" fill="#ffffe0" stroke="#ffffe0"/>
<polygon points="183.3,127.6 209.5,135.6 210.5,117.8" fill="#ffff88" stroke="#ffff88"/>
<polygon points="183.3,127.6 162.2,123.4 164.1,143.1" fill="#ffffe0" stroke="#ffffe0"/>
<polygon points="185.4,147.4 183.3,127.6 164.1,143.1" fill="#ffff8a" stroke="#ffff8a"/>
<polygon points="425.2,180.1 407.6,181.1 417.1,207.3" fill="#15ffff" stroke="#15ffff"/>
<polygon points="433.7,208.1 425.2,180.1 417.1,207.3" fill="#00ecff" stroke="#00ecff"/>
<polygon points="425.2,180.1 433.7,208.1 444.4,181.5" fill="#00beff" stroke="#00beff"/>
<polygon points="407.6,181.1 425.2,180.1 416.2,157.9" fill="#00f8ff" stroke="#00f8ff"/>
<polygon points="425.2,180.1 434.2,156.8 416.2,157.9" fill="#00cfff" stroke="#00cfff"/>
<polygon points="425.2,180.1 444.4,181.5 434.2,156.8" fill="#00b6ff" stroke="#00b6ff"/>
<polygon points="368.1,233.3 380.9,208.7 361.9,206.1" fill="#ffff52" stroke="#ffff52"/>
<polygon points="361.9,206.1 380.9,208.7 372.6,185.2" fill="#ffff87" stroke="#ffff87"/>
<polygon points="380.9,208.7 387.9,180.6 372.6,185.2" fill="#ffffe0" stroke="#ffffe0"/>
<polygon points="380.9,208.7 399.2,210.4 387.9,180.6" fill="#f5ffff" stroke="#f5ffff"/>
<polygon points="433.7,208.1 451.3,207.3 444.4,181.5" fill="#00a2ff" stroke="#00a2ff"/>
<polygon points="451.3,207.3 436.7,231 454.8,233.8" fill="#0095ff" stroke="#0095ff"/>
<polygon points="451.3,207.3 433.7,208.1 436.7,231" fill="#00b0ff" stroke="#00b0ff"/>
<polygon points="237.4,43.1 263.6,59.7 264.1,43.1" fill="#0090ff" stroke="#0090ff"/>
<polygon points="235,61.4 263.6,59.7 237.4,43.1" fill="#00a8ff" stroke="#00a8ff"/>
<polygon points="263.6,59.7 290.6,46.6 264.1,43.1" fill="#0094ff" stroke="#0094ff"/>
<polygon points="240.3,76.2 235,61.4 212.4,63.4" fill="#00e2ff" stroke="#00e2ff"/>
<polygon points="263.6,59.7 240.3,76.2 266.8,76.7" fill="#04ffff" stroke="#04ffff"/>
<polygon points="240.3,76.2 263.6,59.7 235,61.4" fill="#00e0ff" stroke="#00e0ff"/>
<polygon points="315.4,90.3 290.7,98.2 317.2,110.1" fill="#99ffff" stroke="#99ffff"/>
<polygon points="315.4,90.3 317.2,110.1 338.9,102" fill="#70ffff" stroke="#70ffff"/>
<polygon points="315.4,90.3 344.3,83.5 319.6,73.2" fill="#00f8ff" stroke="#00f8ff"/>
<polygon points="344.3,83.5 315.4,90.3 338.9,102" fill="#1dffff" stroke="#1dffff"/>
<polygon points="290.7,80.5 315.4,90.3 319.6,73.2" fill="#15ffff" stroke="#15ffff"/>
<polygon points="315.4,90.3 290.7,80.5 290.7,98.2" fill="#68ffff" stroke="#68ffff"/>
<polygon points="261,111.8 265.9,129.1 289.8,116.7" fill="#ffff86" stroke="#ffff86"/>
<polygon points="265.9,129.1 261,111.8 238.9,128" fill="#ffff59" stroke="#ffff59"/>
<polygon points="288.7,134.8 287.7,150.7 311.7,144.9" fill="#fff600" stroke="#fff600"/>
<polygon points="315.8,126.5 288.7,134.8 311.7,144.9" fill="#ffff5a" stroke="#ffff5a"/>
<polygon points="288.7,134.8 315.8,126.5 289.8,116.7" fill="#ffff89" stroke="#ffff89"/>
<polygon points="265.9,129.1 288.7,134.8 289.8,116.7" fill="#ffff58" stroke="#ffff58"/>
<polygon points="99.4,263.9 80.6,257.2 86.2,287.5" fill="#71ffff" stroke="#71ffff"/>
<polygon points="66.7,285.4 80.6,257.2 63.9,263.9" fill="#00e2ff" stroke="#00e2ff"/>
<polygon points="80.6,257.2 66.7,285.4 86.2,287.5" fill="#0fffff" stroke="#0fffff"/>
<polygon points="103.5,288.5 99.4,263.9 86.2,287.5" fill="#9dffff" stroke="#9dffff"/>
<polygon points="103.5,288.5 112.7,311.1 120.6,288.3" fill="#f2ffff" stroke="#f2ffff"/>
<polygon points="115.6,261.7 103.5,288.5 120.6,288.3" fill="#ffffe0" stroke="#ffffe0"/>
<polygon points="99.4,263.9 103.5,288.5 115.6,261.7" fill="#f4ffff" stroke="#f4ffff"/>
<polygon points="112.7,311.1 103.5,288.5 93.2,313.6" fill="#99ffff" stroke="#99ffff"/>
<polygon points="103.5,288.5 86.2,287.5 93.2,313.6" fill="#6dffff" stroke="#6dffff"/>
<polygon points="352.5,182.9 329.9,182.2 346.4,211.1" fill="#ffc500" stroke="#ffc500"/>
<polygon points="329.9,182.2 326.2,209.9 346.4,211.1" fill="#ff6d00" stroke="#ff6d00"/>
<polygon points="326.2,209.9 329.9,182.2 312,189.4" fill="#ff4200" stroke="#ff4200"/>
<polygon points="329.9,182.2 352.5,182.9 336.7,166.2" fill="#fff600" stroke="#fff600"/>
<polygon points="329.9,182.2 311.5,164.8 312,189.4" fill="#ff7000" stroke="#ff7000"/>
<polygon points="311.5,164.8 329.9,182.2 336.7,166.2" fill="#ffc200" stroke="#ffc200"/>
<polygon points="287.9,281.6 284,257 264.4,278.3" fill="#920000" stroke="#920000"/>
<polygon points="308.9,284.9 287.9,281.6 286.8,306" fill="#bb0000" stroke="#bb0000"/>
<polygon points="287.9,281.6 264.8,295.6 286.8,306" fill="#aa0000" stroke="#aa0000"/>
<polygon points="264.8,295.6 287.9,281.6 264.4,278.3" fill="#9a0000" stroke="#9a0000"/>
<polygon points="291.1,412.7 290,431.6 315.4,422.9" fill="#00eaff" stroke="#00eaff"/>
<polygon points="316.5,440.8 290,431.6 290.6,447.8" fill="#00a1ff" stroke="#00a1ff"/>
<polygon points="290,431.6 316.5,440.8 315.4,422.9" fill="#00bbff" stroke="#00bbff"/>
<polygon points="290,431.6 266.2,434.4 290.6,447.8" fill="#00abff" stroke="#00abff"/>
<polygon points="266.2,434.4 290,431.6 261.3,416.6" fill="#00e2ff" stroke="#00e2ff"/>
<polygon points="290,431.6 291.1,412.7 261.3,416.6" fill="#0dffff" stroke="#0dffff"/>
<polygon points="291.1,412.7 288.5,395.4 262,399" fill="#9bffff" stroke="#9bffff"/>
<polygon points="264,383.1 288.5,395.4 288.3,379.1" fill="#ffffe4" stroke="#ffffe4"/>
<polygon points="262,399 288.5,395.4 264,383.1" fill="#f3ffff" stroke="#f3ffff"/>
<polygon points="288.5,395.4 316.5,386.4 288.3,379.1" fill="#edffff" stroke="#edffff"/>
<polygon points="288.5,395.4 316.5,404 316.5,386.4" fill="#98ffff" stroke="#98ffff"/>
<polygon points="288.5,395.4 291.1,412.7 316.5,404" fill="#6dffff" stroke="#6dffff"/>
<polygon points="162.6,350.2 147.7,336.2 139.8,354.2" fill="#ffffe3" stroke="#ffffe3"/>
<polygon points="166.7,332 147.7,336.2 162.6,350.2" fill="#ffff89" stroke="#ffff89"/>
<polygon points="147.7,336.2 125.4,336.3 139.8,354.2" fill="#ebffff" stroke="#ebffff"/>
<polygon points="147.7,336.2 166.7,332 149.8,312.4" fill="#ffff5d" stroke="#ffff5d"/>
<polygon points="166.7,332 170.6,310.3 149.8,312.4" fill="#fff800" stroke="#fff800"/>
<polygon points="174.5,286.2 170.6,310.3 188.7,305.8" fill="#ff4800" stroke="#ff4800"/>
<polygon points="170.6,310.3 186.9,326.5 188.7,305.8" fill="#ff7200" stroke="#ff7200"/>
<polygon points="170.6,310.3 166.7,332 186.9,326.5" fill="#ffc400" stroke="#ffc400"/>
<polygon points="170.6,310.3 174.5,286.2 157.1,286.1" fill="#ff7000" stroke="#ff7000"/>
<polygon points="149.8,312.4 170.6,310.3 157.1,286.1" fill="#ffc400" stroke="#ffc400"/>
<polygon points="125.4,336.3 129.9,310.3 112.7,311.1" fill="#f1ffff" stroke="#f1ffff"/>
<polygon points="138.5,287.9 129.9,310.3 149.8,312.4" fill="#ffff5d" stroke="#ffff5d"/>
<polygon points="129.9,310.3 147.7,336.2 149.8,312.4" fill="#ffff8a" stroke="#ffff8a"/>
<polygon points="147.7,336.2 129.9,310.3 125.4,336.3" fill="#ffffe2" stroke="#ffffe2"/>
<polygon points="112.7,311.1 129.9,310.3 120.6,288.3" fill="#ffffe0" stroke="#ffffe0"/>
<polygon points="129.9,310.3 138.5,287.9 120.6,288.3" fill="#ffff8b" stroke="#ffff8b"/>
<polygon points="210,171 234.7,163.5 212.8,152.3" fill="#ff4a00" stroke="#ff4a00"/>
<polygon points="238.1,179.3 234.7,163.5 210,171" fill="#f80000" stroke="#f80000"/>
<polygon points="234.7,163.5 239.3,144.8 212.8,152.3" fill="#ff7300" stroke="#ff7300"/>
<polygon points="239.3,144.8 234.7,163.5 265.5,164.2" fill="#ff4400" stroke="#ff4400"/>
<polygon points="234.7,163.5 238.1,179.3 265.5,164.2" fill="#f30000" stroke="#f30000"/>
<polygon points="237.2,366.4 261.9,348.4 235.8,347.5" fill="#ffc200" stroke="#ffc200"/>
<polygon points="237.2,366.4 264.3,364.6 261.9,348.4" fill="#fff200" stroke="#fff200"/>
<polygon points="237.2,366.4 264,383.1 264.3,364.6" fill="#ffff58" stroke="#ffff58"/>
<polygon points="237.2,366.4 235,382 264,383.1" fill="#ffff89" stroke="#ffff89"/>
<polygon points="238.6,399.4 235,382 209.1,394.6" fill="#f4ffff" stroke="#f4ffff"/>
<polygon points="261.3,416.6 238.6,399.4 240.5,418.5" fill="#6affff" stroke="#6affff"/>
<polygon points="262,399 238.6,399.4 261.3,416.6" fill="#9cffff" stroke="#9cffff"/>
<polygon points="238.6,399.4 262,399 264,383.1" fill="#f3ffff" stroke="#f3ffff"/>
<polygon points="235,382 238.6,399.4 264,383.1" fill="#ffffdf" stroke="#ffffdf"/>
<polygon points="209.8,412.4 234.3,434.2 240.5,418.5" fill="#0affff" stroke="#0affff"/>
<polygon points="238.6,399.4 209.8,412.4 240.5,418.5" fill="#6bffff" stroke="#6bffff"/>
<polygon points="209.8,412.4 238.6,399.4 209.1,394.6" fill="#9affff" stroke="#9affff"/>
<polygon points="185,440.8 182.6,420.9 160.3,430.6" fill="#00b6ff" stroke="#00b6ff"/>
<polygon points="209.3,341.8 209.4,321.7 186.9,326.5" fill="#ff7300" stroke="#ff7300"/>
<polygon points="185.9,347.8 209.3,341.8 186.9,326.5" fill="#ffc700" stroke="#ffc700"/>
<polygon points="237.7,331.4 209.3,341.8 235.8,347.5" fill="#ff7100" stroke="#ff7100"/>
<polygon points="209.4,321.7 209.3,341.8 237.7,331.4" fill="#ff4700" stroke="#ff4700"/>
<polygon points="380.5,286.5 371.5,311.2 390.8,310.4" fill="#ffffe2" stroke="#ffffe2"/>
<polygon points="398.1,288 380.5,286.5 390.8,310.4" fill="#f1ffff" stroke="#f1ffff"/>
<polygon points="380.5,286.5 398.1,288 387.8,257.4" fill="#ffffe0" stroke="#ffffe0"/>
<polygon points="416.3,287.4 419.6,264.1 398.1,288" fill="#6effff" stroke="#6effff"/>
<polygon points="416.3,287.4 408.4,313.6 427.2,309.8" fill="#13ffff" stroke="#13ffff"/>
<polygon points="416.3,287.4 398.1,288 408.4,313.6" fill="#6affff" stroke="#6affff"/>
<polygon points="387.5,234.5 380.9,208.7 368.1,233.3" fill="#ffff87" stroke="#ffff87"/>
<polygon points="387.5,234.5 368.1,233.3 387.8,257.4" fill="#ffff8b" stroke="#ffff8b"/>
<polygon points="399.2,210.4 387.5,234.5 402.3,232.6" fill="#f0ffff" stroke="#f0ffff"/>
<polygon points="380.9,208.7 387.5,234.5 399.2,210.4" fill="#ffffe2" stroke="#ffffe2"/>
<polygon points="387.5,234.5 404.6,256.9 402.3,232.6" fill="#edffff" stroke="#edffff"/>
<polygon points="404.6,256.9 387.5,234.5 387.8,257.4" fill="#ffffea" stroke="#ffffea"/>
<polygon points="209.4,82.6 240.3,76.2 212.4,63.4" fill="#0dffff" stroke="#0dffff"/>
<polygon points="213.1,98.4 209.4,82.6 188.6,89.1" fill="#6dffff" stroke="#6dffff"/>
<polygon points="209.4,82.6 212.4,63.4 188.5,69.6" fill="#00eaff" stroke="#00eaff"/>
<polygon points="188.6,89.1 209.4,82.6 188.5,69.6" fill="#14ffff" stroke="#14ffff"/>
<polygon points="235.5,94.3 213.1,98.4 237.1,112.3" fill="#efffff" stroke="#efffff"/>
<polygon points="235.5,94.3 209.4,82.6 213.1,98.4" fill="#97ffff" stroke="#97ffff"/>
<polygon points="209.4,82.6 235.5,94.3 240.3,76.2" fill="#6affff" stroke="#6affff"/>
<polygon points="316.5,53.6 288.2,63.8 319.6,73.2" fill="#00beff" stroke="#00beff"/>
<polygon points="288.2,63.8 290.7,80.5 319.6,73.2" fill="#00ecff" stroke="#00ecff"/>
<polygon points="290.6,46.6 288.2,63.8 316.5,53.6" fill="#00a1ff" stroke="#00a1ff"/>
<polygon points="263.6,59.7 288.2,63.8 290.6,46.6" fill="#00adff" stroke="#00adff"/>
<polygon points="288.2,63.8 263.6,59.7 266.8,76.7" fill="#00e1ff" stroke="#00e1ff"/>
<polygon points="290.7,80.5 288.2,63.8 266.8,76.7" fill="#08ffff" stroke="#08ffff"/>
<polygon points="287.7,150.7 261.7,144.9 265.5,164.2" fill="#ff7300" stroke="#ff7300"/>
<polygon points="261.7,144.9 239.3,144.8 265.5,164.2" fill="#ff7200" stroke="#ff7200"/>
<polygon points="288.7,134.8 261.7,144.9 287.7,150.7" fill="#ffc600" stroke="#ffc600"/>
<polygon points="261.7,144.9 288.7,134.8 265.9,129.1" fill="#fff400" stroke="#fff400"/>
<polygon points="261.7,144.9 238.9,128 239.3,144.8" fill="#ffc900" stroke="#ffc900"/>
<polygon points="261.7,144.9 265.9,129.1 238.9,128" fill="#fff700" stroke="#fff700"/>
<polygon points="98.6,237.4 80.6,257.2 99.4,263.9" fill="#9bffff" stroke="#9bffff"/>
<polygon points="98.6,237.4 99.4,263.9 115.6,261.7" fill="#f6ffff" stroke="#f6ffff"/>
<polygon points="98.6,237.4 101.9,211 84.6,207.6" fill="#99ffff" stroke="#99ffff"/>
<polygon points="300,262.8 287.9,281.6 308.9,284.9" fill="#ab0000" stroke="#ab0000"/>
<polygon points="287.9,281.6 300,262.8 284,257" fill="#9b0000" stroke="#9b0000"/>
<polygon points="300,262.8 308.9,284.9 318.5,256.8" fill="#bc0000" stroke="#bc0000"/>
<polygon points="300,262.8 318.5,256.8 299.3,233" fill="#aa0000" stroke="#aa0000"/>
<polygon points="284,257 300,262.8 299.3,233" fill="#9a0000" stroke="#9a0000"/>
<polygon points="235,382 208.8,378.2 209.1,394.6" fill="#ffffe3" stroke="#ffffe3"/>
<polygon points="237.2,366.4 208.8,378.2 235,382" fill="#ffff8c" stroke="#ffff8c"/>
<polygon points="208.8,378.2 188.9,386.3 209.1,394.6" fill="#eeffff" stroke="#eeffff"/>
<polygon points="188.9,386.3 208.8,378.2 189.5,367.7" fill="#ffffe1" stroke="#ffffe1"/>
<polygon points="209.8,412.4 187.4,404.6 182.6,420.9" fill="#19ffff" stroke="#19ffff"/>
<polygon points="182.6,420.9 187.4,404.6 161.2,411.5" fill="#00faff" stroke="#00faff"/>
<polygon points="188.9,386.3 187.4,404.6 209.1,394.6" fill="#9bffff" stroke="#9bffff"/>
<polygon points="187.4,404.6 209.8,412.4 209.1,394.6" fill="#6dffff" stroke="#6dffff"/>
<polygon points="161.2,411.5 187.4,404.6 158.9,391.7" fill="#1effff" stroke="#1effff"/>
<polygon points="187.4,404.6 188.9,386.3 158.9,391.7" fill="#6fffff" stroke="#6fffff"/>
<polygon points="207.3,430.1 209.8,412.4 182.6,420.9" fill="#00edff" stroke="#00edff"/>
<polygon points="185,440.8 207.3,430.1 182.6,420.9" fill="#00beff" stroke="#00beff"/>
<polygon points="207.3,430.1 185,440.8 210.9,447.8" fill="#00a2ff" stroke="#00a2ff"/>
<polygon points="234.3,434.2 207.3,430.1 210.9,447.8" fill="#00adff" stroke="#00adff"/>
<polygon points="209.8,412.4 207.3,430.1 234.3,434.2" fill="#00e6ff" stroke="#00e6ff"/>
<polygon points="212.1,360.5 185.9,347.8 189.5,367.7" fill="#ffff58" stroke="#ffff58"/>
<polygon points="212.1,360.5 209.3,341.8 185.9,347.8" fill="#fffa00" stroke="#fffa00"/>
<polygon points="208.8,378.2 212.1,360.5 189.5,367.7" fill="#ffff8b" stroke="#ffff8b"/>
<polygon points="212.1,360.5 208.8,378.2 237.2,366.4" fill="#ffff60" stroke="#ffff60"/>
<polygon points="212.1,360.5 237.2,366.4 235.8,347.5" fill="#fff600" stroke="#fff600"/>
<polygon points="209.3,341.8 212.1,360.5 235.8,347.5" fill="#ffc600" stroke="#ffc600"/>
<polygon points="365.4,283.4 352.6,257.5 345.2,289.5" fill="#ffc800" stroke="#ffc800"/>
<polygon points="365.4,283.4 345.2,289.5 352.4,307.6" fill="#fff800" stroke="#fff800"/>
<polygon points="371.5,311.2 365.4,283.4 352.4,307.6" fill="#ffff5a" stroke="#ffff5a"/>
<polygon points="380.5,286.5 365.4,283.4 371.5,311.2" fill="#ffff8a" stroke="#ffff8a"/>
<polygon points="433.7,288.2 416.3,287.4 427.2,309.8" fill="#00ebff" stroke="#00ebff"/>
<polygon points="444.4,312.9 433.7,288.2 427.2,309.8" fill="#00bcff" stroke="#00bcff"/>
<polygon points="451.3,287.1 433.7,288.2 444.4,312.9" fill="#00a2ff" stroke="#00a2ff"/>
<polygon points="416.3,287.4 433.7,288.2 419.6,264.1" fill="#0fffff" stroke="#0fffff"/>
<polygon points="433.7,288.2 451.3,287.1 438.6,257.7" fill="#00adff" stroke="#00adff"/>
<polygon points="419.6,264.1 433.7,288.2 438.6,257.7" fill="#00e4ff" stroke="#00e4ff"/>
<polygon points="240.3,76.2 261.9,93.8 266.8,76.7" fill="#64ffff" stroke="#64ffff"/>
<polygon points="235.5,94.3 261.9,93.8 240.3,76.2" fill="#92ffff" stroke="#92ffff"/>
<polygon points="290.7,98.2 261.9,93.8 261,111.8" fill="#eeffff" stroke="#eeffff"/>
<polygon points="261,111.8 261.9,93.8 237.1,112.3" fill="#ffffe0" stroke="#ffffe0"/>
<polygon points="261.9,93.8 235.5,94.3 237.1,112.3" fill="#efffff" stroke="#efffff"/>
<polygon points="261.9,93.8 290.7,80.5 266.8,76.7" fill="#65ffff" stroke="#65ffff"/>
<polygon points="290.7,80.5 261.9,93.8 290.7,98.2" fill="#91ffff" stroke="#91ffff"/>
<polygon points="114.6,235.2 98.6,237.4 115.6,261.7" fill="#ffffdf" stroke="#ffffdf"/>
<polygon points="114.6,235.2 131.7,262.1 133.6,232.7" fill="#ffff58" stroke="#ffff58"/>
<polygon points="131.7,262.1 114.6,235.2 115.6,261.7" fill="#ffff8a" stroke="#ffff8a"/>
<polygon points="114.6,235.2 133.6,232.7 119.8,207.1" fill="#ffff88" stroke="#ffff88"/>
<polygon points="101.9,211 114.6,235.2 119.8,207.1" fill="#ffffe4" stroke="#ffffe4"/>
<polygon points="98.6,237.4 114.6,235.2 101.9,211" fill="#f1ffff" stroke="#f1ffff"/>
<polygon points="98.6,237.4 80.5,237.7 80.6,257.2" fill="#6bffff" stroke="#6bffff"/>
<polygon points="80.5,237.7 63,230.1 63.9,263.9" fill="#00dfff" stroke="#00dfff"/>
<polygon points="80.6,257.2 80.5,237.7 63.9,263.9" fill="#09ffff" stroke="#09ffff"/>
<polygon points="63,230.1 80.5,237.7 84.6,207.6" fill="#08ffff" stroke="#08ffff"/>
<polygon points="80.5,237.7 98.6,237.4 84.6,207.6" fill="#6dffff" stroke="#6dffff"/>
<polygon points="365.4,283.4 368,263.5 352.6,257.5" fill="#fff600" stroke="#fff600"/>
<polygon points="368.1,233.3 368,263.5 387.8,257.4" fill="#ffff56" stroke="#ffff56"/>
<polygon points="352.6,257.5 368,263.5 368.1,233.3" fill="#ffee00" stroke="#ffee00"/>
<polygon points="368,263.5 380.5,286.5 387.8,257.4" fill="#ffff87" stroke="#ffff87"/>
<polygon points="368,263.5 365.4,283.4 380.5,286.5" fill="#ffff59" stroke="#ffff59"/>
<use href="#mesh"/>
<circle cx="250.75" cy="247.2" r="204.5" fill="none" stroke="#000" stroke-width="0.6"/>
<path d="M46.5 42.3 V451.5 H456" fill="none" stroke="#000" stroke-width="1"/><path d="M46.5 410.8h4M87.1 451.5v-4M46.5 369.9h4M128 451.5v-4M46.5 329h4M168.9 451.5v-4M46.5 288.1h4M209.8 451.5v-4M46.5 247.2h4M250.8 451.5v-4M46.5 206.3h4M291.6 451.5v-4M46.5 165.4h4M332.6 451.5v-4M46.5 124.5h4M373.5 451.5v-4M46.5 83.6h4M414.4 451.5v-4" stroke="#000" stroke-width="1"/><g class="tl"><text x="43.3" y="413.8" text-anchor="end">-0.8</text><text x="87.1" y="465.0" text-anchor="middle">-0.8</text><text x="43.3" y="372.9" text-anchor="end">-0.6</text><text x="128" y="465.0" text-anchor="middle">-0.6</text><text x="43.3" y="332" text-anchor="end">-0.4</text><text x="168.9" y="465.0" text-anchor="middle">-0.4</text><text x="43.3" y="291.1" text-anchor="end">-0.2</text><text x="209.8" y="465.0" text-anchor="middle">-0.2</text><text x="43.3" y="250.2" text-anchor="end">0</text><text x="250.8" y="465.0" text-anchor="middle">0</text><text x="43.3" y="209.3" text-anchor="end">0.2</text><text x="291.6" y="465.0" text-anchor="middle">0.2</text><text x="43.3" y="168.4" text-anchor="end">0.4</text><text x="332.6" y="465.0" text-anchor="middle">0.4</text><text x="43.3" y="127.5" text-anchor="end">0.6</text><text x="373.5" y="465.0" text-anchor="middle">0.6</text><text x="43.3" y="86.6" text-anchor="end">0.8</text><text x="414.4" y="465.0" text-anchor="middle">0.8</text></g>
<line x1="263.9" y1="43.1" x2="237.6" y2="43.1" stroke="#00b400" stroke-width="2.6"/><line x1="184.8" y1="53.6" x2="160.5" y2="63.7" stroke="#005a00" stroke-width="2.6"/><line x1="115.8" y1="93.6" x2="97.1" y2="112.2" stroke="#005a00" stroke-width="2.6"/><line x1="67.3" y1="156.9" x2="57.2" y2="181.3" stroke="#005a00" stroke-width="2.6"/><line x1="46.7" y1="234" x2="46.7" y2="260.4" stroke="#005a00" stroke-width="2.6"/><line x1="57.2" y1="313.1" x2="67.3" y2="337.5" stroke="#005a00" stroke-width="2.6"/><line x1="97.1" y1="382.2" x2="115.8" y2="400.8" stroke="#005a00" stroke-width="2.6"/><line x1="160.5" y1="430.7" x2="184.8" y2="440.8" stroke="#005a00" stroke-width="2.6"/><line x1="237.6" y1="451.3" x2="263.9" y2="451.3" stroke="#005a00" stroke-width="2.6"/><line x1="316.7" y1="440.8" x2="341" y2="430.7" stroke="#005a00" stroke-width="2.6"/><line x1="385.7" y1="400.8" x2="404.4" y2="382.2" stroke="#005a00" stroke-width="2.6"/><line x1="434.2" y1="337.5" x2="444.3" y2="313.1" stroke="#005a00" stroke-width="2.6"/><line x1="454.8" y1="260.4" x2="454.8" y2="234" stroke="#005a00" stroke-width="2.6"/><line x1="444.3" y1="181.3" x2="434.2" y2="156.9" stroke="#005a00" stroke-width="2.6"/><line x1="404.4" y1="112.2" x2="385.7" y2="93.6" stroke="#005a00" stroke-width="2.6"/><line x1="341" y1="63.7" x2="316.7" y2="53.6" stroke="#005a00" stroke-width="2.6"/>
<rect x="463.5" y="42.3" width="13.300000000000011" height="408.3" fill="url(#cb)" stroke="#000" stroke-width="0.8"/><path d="M476.8 110.4h-3M476.8 187.5h-3M476.8 263.9h-3M476.8 341h-3M476.8 417.7h-3" stroke="#000" stroke-width="0.8"/><g class="tl cbl"><text x="480.8" y="113.4">0.03</text><text x="480.8" y="190.5">0.025</text><text x="480.8" y="266.9">0.02</text><text x="480.8" y="344">0.015</text><text x="480.8" y="420.7">0.01</text></g>
</g>
<g class="big"><text text-anchor="middle" font-size="86" font-weight="normal" transform="translate(214.75,605.8) scale(0.89,1)">(</text><text text-anchor="middle" font-size="86" transform="translate(253.5,605.8) scale(1.03,1)">h</text><text text-anchor="middle" font-size="86" font-weight="normal" transform="translate(291.25,605.8) scale(0.89,1)">)</text><text text-anchor="middle" font-size="86" font-weight="normal" transform="translate(1075.9,605.8) scale(0.89,1)">(</text><text text-anchor="middle" font-size="86" transform="translate(1102.95,605.8) scale(1.0,1)">i</text><text text-anchor="middle" font-size="86" font-weight="normal" transform="translate(1129,605.8) scale(0.89,1)">)</text><text text-anchor="middle" font-size="86" font-weight="normal" transform="translate(225.9,1237.7) scale(0.89,1)">(</text><text text-anchor="middle" font-size="86" transform="translate(251.5,1237.7) scale(0.78,1.04)">j</text><text text-anchor="middle" font-size="86" font-weight="normal" transform="translate(279.95,1237.7) scale(0.89,1)">)</text><text text-anchor="middle" font-size="86" font-weight="normal" transform="translate(1065,1237.7) scale(0.89,1)">(</text><text text-anchor="middle" font-size="86" transform="translate(1102,1237.7) scale(1.03,1)">k</text><text text-anchor="middle" font-size="86" font-weight="normal" transform="translate(1141,1237.7) scale(0.89,1)">)</text></g>
</svg></body></html>
